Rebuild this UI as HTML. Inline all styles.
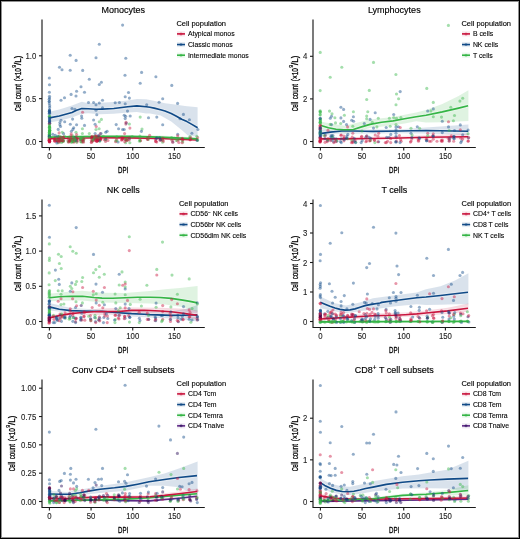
<!DOCTYPE html>
<html><head><meta charset="utf-8"><style>
html,body{margin:0;padding:0;background:#fff;}
body{width:520px;height:539px;overflow:hidden;position:relative;}
svg text{font-family:"Liberation Sans", sans-serif;}
</style></head><body>
<svg width="520" height="539" viewBox="0 0 520 539" style="display:block;will-change:transform;filter:blur(0.35px)">
<rect x="0" y="0" width="520" height="539" fill="#fff"/>
<path d="M49.5,111.7 L59.3,109.6 L72,105.6 L81.8,101.8 L88.2,103.3 L100,102.7 L113.8,102.1 L127.7,100.6 L136.9,99 L146,99.2 L155,101 L165,103.2 L175,104.5 L185,106 L197.6,107.3 L197.6,136.8 L188,135.5 L181.7,129.9 L171.2,121.4 L160.6,115.6 L150,113.6 L146.2,113.4 L136.9,111.9 L127.7,112.5 L113.8,113.7 L100,114.2 L88.2,113.2 L81.8,113.8 L72,117.5 L59.3,120.8 L49.5,122.6Z" fill="#104a87" fill-opacity="0.16"/>
<path d="M49.5,137.35 L70,137 L100,136.5 L130,136.6 L160,137.2 L197.6,138.7 L197.6,141.3 L160,139.8 L130,139.2 L100,139.1 L70,139.6 L49.5,139.95Z" fill="#c9153e" fill-opacity="0.16"/>
<path d="M49.5,135.6 L70,135.3 L100,134.9 L130,134.9 L160,135.6 L197.6,137.4 L197.6,140.4 L160,138.6 L130,137.9 L100,137.9 L70,138.3 L49.5,138.6Z" fill="#35b546" fill-opacity="0.16"/>
<path d="M49.5,138.65 L70,138.3 L100,137.8 L130,137.9 L160,138.5 L197.6,140" fill="none" stroke="#fff" stroke-opacity="0.3" stroke-width="3.8" stroke-linejoin="round"/>
<path d="M49.5,137.1 L70,136.8 L100,136.4 L130,136.4 L160,137.1 L197.6,138.9" fill="none" stroke="#fff" stroke-opacity="0.3" stroke-width="3.8" stroke-linejoin="round"/>
<path d="M49.5,117.9 L59.3,116 L72,112.5 L76.6,110.2 L81.8,108.5 L88.2,108.7 L96.2,109.3 L102,109.1 L113.8,108.5 L127.7,106.7 L136.9,105.9 L146.2,106.7 L150,107.3 L154.2,108.1 L160.6,109.8 L165,111 L171.2,113.6 L176,116 L181.7,119.3 L187,121.6 L192.3,124.6 L197.6,127.8" fill="none" stroke="#fff" stroke-opacity="0.3" stroke-width="3.8" stroke-linejoin="round"/>
<path d="M49.5,138.65 L70,138.3 L100,137.8 L130,137.9 L160,138.5 L197.6,140" fill="none" stroke="#c9153e" stroke-width="1.65" stroke-linejoin="round"/>
<path d="M49.5,137.1 L70,136.8 L100,136.4 L130,136.4 L160,137.1 L197.6,138.9" fill="none" stroke="#35b546" stroke-width="1.65" stroke-linejoin="round"/>
<path d="M49.5,117.9 L59.3,116 L72,112.5 L76.6,110.2 L81.8,108.5 L88.2,108.7 L96.2,109.3 L102,109.1 L113.8,108.5 L127.7,106.7 L136.9,105.9 L146.2,106.7 L150,107.3 L154.2,108.1 L160.6,109.8 L165,111 L171.2,113.6 L176,116 L181.7,119.3 L187,121.6 L192.3,124.6 L197.6,127.8" fill="none" stroke="#104a87" stroke-width="1.65" stroke-linejoin="round"/>
<circle cx="82.6" cy="112.2" r="1.55" fill="#c9153e" fill-opacity="0.45"/>
<circle cx="129.46" cy="138.86" r="1.55" fill="#104a87" fill-opacity="0.45"/>
<circle cx="49.62" cy="109.96" r="1.55" fill="#104a87" fill-opacity="0.45"/>
<circle cx="92.51" cy="139.42" r="1.55" fill="#c9153e" fill-opacity="0.45"/>
<circle cx="99.3" cy="103" r="1.55" fill="#104a87" fill-opacity="0.45"/>
<circle cx="76.44" cy="138.79" r="1.55" fill="#c9153e" fill-opacity="0.45"/>
<circle cx="159.1" cy="102.3" r="1.55" fill="#104a87" fill-opacity="0.45"/>
<circle cx="49.23" cy="99.2" r="1.55" fill="#104a87" fill-opacity="0.45"/>
<circle cx="49.33" cy="101.3" r="1.55" fill="#104a87" fill-opacity="0.45"/>
<circle cx="59.76" cy="141.95" r="1.55" fill="#c9153e" fill-opacity="0.45"/>
<circle cx="160.81" cy="139.21" r="1.55" fill="#104a87" fill-opacity="0.45"/>
<circle cx="61.76" cy="141.23" r="1.55" fill="#35b546" fill-opacity="0.45"/>
<circle cx="81.49" cy="141.34" r="1.55" fill="#c9153e" fill-opacity="0.45"/>
<circle cx="99.32" cy="139.96" r="1.55" fill="#c9153e" fill-opacity="0.45"/>
<circle cx="62.93" cy="137.5" r="1.55" fill="#35b546" fill-opacity="0.45"/>
<circle cx="74.96" cy="139.12" r="1.55" fill="#c9153e" fill-opacity="0.45"/>
<circle cx="91.82" cy="137.21" r="1.55" fill="#c9153e" fill-opacity="0.45"/>
<circle cx="70.21" cy="139.77" r="1.55" fill="#c9153e" fill-opacity="0.45"/>
<circle cx="62.73" cy="139.21" r="1.55" fill="#35b546" fill-opacity="0.45"/>
<circle cx="97.93" cy="140" r="1.55" fill="#c9153e" fill-opacity="0.45"/>
<circle cx="130.06" cy="137.22" r="1.55" fill="#35b546" fill-opacity="0.45"/>
<circle cx="57.55" cy="141.06" r="1.55" fill="#35b546" fill-opacity="0.45"/>
<circle cx="49.54" cy="113.3" r="1.55" fill="#104a87" fill-opacity="0.45"/>
<circle cx="140.21" cy="140.58" r="1.55" fill="#35b546" fill-opacity="0.45"/>
<circle cx="75.42" cy="140.12" r="1.55" fill="#c9153e" fill-opacity="0.45"/>
<circle cx="62" cy="69.7" r="1.55" fill="#104a87" fill-opacity="0.45"/>
<circle cx="49.68" cy="130.25" r="1.55" fill="#35b546" fill-opacity="0.45"/>
<circle cx="49.21" cy="138" r="1.55" fill="#c9153e" fill-opacity="0.45"/>
<circle cx="177.7" cy="134.2" r="1.55" fill="#104a87" fill-opacity="0.45"/>
<circle cx="177.6" cy="103.4" r="1.55" fill="#104a87" fill-opacity="0.45"/>
<circle cx="49.23" cy="113.71" r="1.55" fill="#104a87" fill-opacity="0.45"/>
<circle cx="162.72" cy="140.31" r="1.55" fill="#c9153e" fill-opacity="0.45"/>
<circle cx="83.78" cy="139.31" r="1.55" fill="#35b546" fill-opacity="0.45"/>
<circle cx="155.88" cy="141.14" r="1.55" fill="#c9153e" fill-opacity="0.45"/>
<circle cx="61.58" cy="142.45" r="1.55" fill="#35b546" fill-opacity="0.45"/>
<circle cx="98.37" cy="139.93" r="1.55" fill="#c9153e" fill-opacity="0.45"/>
<circle cx="125.2" cy="118.6" r="1.55" fill="#104a87" fill-opacity="0.45"/>
<circle cx="128.5" cy="92.5" r="1.55" fill="#104a87" fill-opacity="0.45"/>
<circle cx="49.5" cy="117.5" r="1.55" fill="#104a87" fill-opacity="0.45"/>
<circle cx="82.7" cy="139.08" r="1.55" fill="#c9153e" fill-opacity="0.45"/>
<circle cx="89.3" cy="79.2" r="1.55" fill="#104a87" fill-opacity="0.45"/>
<circle cx="69.79" cy="140.58" r="1.55" fill="#35b546" fill-opacity="0.45"/>
<circle cx="81" cy="86.8" r="1.55" fill="#104a87" fill-opacity="0.45"/>
<circle cx="49.35" cy="116.75" r="1.55" fill="#104a87" fill-opacity="0.45"/>
<circle cx="49.54" cy="126.5" r="1.55" fill="#35b546" fill-opacity="0.45"/>
<circle cx="49.32" cy="103.8" r="1.55" fill="#104a87" fill-opacity="0.45"/>
<circle cx="93.6" cy="120" r="1.55" fill="#104a87" fill-opacity="0.45"/>
<circle cx="61.85" cy="140.25" r="1.55" fill="#c9153e" fill-opacity="0.45"/>
<circle cx="49.62" cy="132.5" r="1.55" fill="#35b546" fill-opacity="0.45"/>
<circle cx="105.8" cy="138.82" r="1.55" fill="#c9153e" fill-opacity="0.45"/>
<circle cx="49.44" cy="110" r="1.55" fill="#104a87" fill-opacity="0.45"/>
<circle cx="93.52" cy="137.51" r="1.55" fill="#c9153e" fill-opacity="0.45"/>
<circle cx="59.29" cy="140.03" r="1.55" fill="#c9153e" fill-opacity="0.45"/>
<circle cx="127.5" cy="111.1" r="1.55" fill="#104a87" fill-opacity="0.45"/>
<circle cx="49.4" cy="121.5" r="1.55" fill="#104a87" fill-opacity="0.45"/>
<circle cx="49.22" cy="123.8" r="1.55" fill="#c9153e" fill-opacity="0.45"/>
<circle cx="126.5" cy="140.16" r="1.55" fill="#c9153e" fill-opacity="0.45"/>
<circle cx="57.53" cy="140.77" r="1.55" fill="#c9153e" fill-opacity="0.45"/>
<circle cx="162.29" cy="139.57" r="1.55" fill="#35b546" fill-opacity="0.45"/>
<circle cx="99.15" cy="138.4" r="1.55" fill="#c9153e" fill-opacity="0.45"/>
<circle cx="102.5" cy="107.9" r="1.55" fill="#104a87" fill-opacity="0.45"/>
<circle cx="99.15" cy="135.71" r="1.55" fill="#c9153e" fill-opacity="0.45"/>
<circle cx="162.6" cy="142.32" r="1.55" fill="#35b546" fill-opacity="0.45"/>
<circle cx="121.98" cy="137.32" r="1.55" fill="#c9153e" fill-opacity="0.45"/>
<circle cx="74.52" cy="138.6" r="1.55" fill="#104a87" fill-opacity="0.45"/>
<circle cx="84.5" cy="125.4" r="1.55" fill="#104a87" fill-opacity="0.45"/>
<circle cx="91.55" cy="141.92" r="1.55" fill="#c9153e" fill-opacity="0.45"/>
<circle cx="63.57" cy="133.64" r="1.55" fill="#104a87" fill-opacity="0.45"/>
<circle cx="71.39" cy="139.36" r="1.55" fill="#35b546" fill-opacity="0.45"/>
<circle cx="49.65" cy="138.1" r="1.55" fill="#c9153e" fill-opacity="0.45"/>
<circle cx="72.6" cy="119.1" r="1.55" fill="#104a87" fill-opacity="0.45"/>
<circle cx="80.63" cy="139.21" r="1.55" fill="#35b546" fill-opacity="0.45"/>
<circle cx="62.32" cy="140.35" r="1.55" fill="#c9153e" fill-opacity="0.45"/>
<circle cx="55.12" cy="141.37" r="1.55" fill="#c9153e" fill-opacity="0.45"/>
<circle cx="55.55" cy="139.36" r="1.55" fill="#35b546" fill-opacity="0.45"/>
<circle cx="75.64" cy="137.1" r="1.55" fill="#35b546" fill-opacity="0.45"/>
<circle cx="64.5" cy="136.3" r="1.55" fill="#35b546" fill-opacity="0.45"/>
<circle cx="171.66" cy="138.9" r="1.55" fill="#35b546" fill-opacity="0.45"/>
<circle cx="49.43" cy="139.3" r="1.55" fill="#c9153e" fill-opacity="0.45"/>
<circle cx="99.3" cy="84.5" r="1.55" fill="#104a87" fill-opacity="0.45"/>
<circle cx="49.6" cy="134.86" r="1.55" fill="#35b546" fill-opacity="0.45"/>
<circle cx="171.8" cy="85.4" r="1.55" fill="#104a87" fill-opacity="0.45"/>
<circle cx="91.3" cy="137.82" r="1.55" fill="#35b546" fill-opacity="0.45"/>
<circle cx="59.5" cy="67.2" r="1.55" fill="#104a87" fill-opacity="0.45"/>
<circle cx="73.7" cy="127.7" r="1.55" fill="#104a87" fill-opacity="0.45"/>
<circle cx="178.49" cy="139.37" r="1.55" fill="#c9153e" fill-opacity="0.45"/>
<circle cx="141.6" cy="72.4" r="1.55" fill="#104a87" fill-opacity="0.45"/>
<circle cx="70.2" cy="70.2" r="1.55" fill="#104a87" fill-opacity="0.45"/>
<circle cx="92.81" cy="140.97" r="1.55" fill="#c9153e" fill-opacity="0.45"/>
<circle cx="97.98" cy="137" r="1.55" fill="#c9153e" fill-opacity="0.45"/>
<circle cx="126.37" cy="139.63" r="1.55" fill="#35b546" fill-opacity="0.45"/>
<circle cx="160.04" cy="140.3" r="1.55" fill="#c9153e" fill-opacity="0.45"/>
<circle cx="71.46" cy="140.87" r="1.55" fill="#35b546" fill-opacity="0.45"/>
<circle cx="125.6" cy="116.3" r="1.55" fill="#104a87" fill-opacity="0.45"/>
<circle cx="49.56" cy="127.23" r="1.55" fill="#35b546" fill-opacity="0.45"/>
<circle cx="52.78" cy="134.25" r="1.55" fill="#104a87" fill-opacity="0.45"/>
<circle cx="58.41" cy="142.6" r="1.55" fill="#35b546" fill-opacity="0.45"/>
<circle cx="69.53" cy="137.94" r="1.55" fill="#35b546" fill-opacity="0.45"/>
<circle cx="100.57" cy="139.8" r="1.55" fill="#c9153e" fill-opacity="0.45"/>
<circle cx="182.77" cy="142.04" r="1.55" fill="#35b546" fill-opacity="0.45"/>
<circle cx="49.48" cy="131" r="1.55" fill="#35b546" fill-opacity="0.45"/>
<circle cx="70.55" cy="139.85" r="1.55" fill="#35b546" fill-opacity="0.45"/>
<circle cx="72.63" cy="138.28" r="1.55" fill="#c9153e" fill-opacity="0.45"/>
<circle cx="49.45" cy="116.3" r="1.55" fill="#35b546" fill-opacity="0.45"/>
<circle cx="96.43" cy="138.01" r="1.55" fill="#35b546" fill-opacity="0.45"/>
<circle cx="115.7" cy="140.87" r="1.55" fill="#35b546" fill-opacity="0.45"/>
<circle cx="49.49" cy="125.65" r="1.55" fill="#35b546" fill-opacity="0.45"/>
<circle cx="74.68" cy="140.55" r="1.55" fill="#c9153e" fill-opacity="0.45"/>
<circle cx="129.14" cy="139.98" r="1.55" fill="#c9153e" fill-opacity="0.45"/>
<circle cx="59.2" cy="136.35" r="1.55" fill="#35b546" fill-opacity="0.45"/>
<circle cx="127.15" cy="140.14" r="1.55" fill="#35b546" fill-opacity="0.45"/>
<circle cx="156.81" cy="137.87" r="1.55" fill="#104a87" fill-opacity="0.45"/>
<circle cx="182.18" cy="142.66" r="1.55" fill="#c9153e" fill-opacity="0.45"/>
<circle cx="104.2" cy="139.82" r="1.55" fill="#c9153e" fill-opacity="0.45"/>
<circle cx="178.86" cy="142.56" r="1.55" fill="#c9153e" fill-opacity="0.45"/>
<circle cx="56.72" cy="140.83" r="1.55" fill="#c9153e" fill-opacity="0.45"/>
<circle cx="59.1" cy="132.9" r="1.55" fill="#c9153e" fill-opacity="0.45"/>
<circle cx="76.63" cy="139.09" r="1.55" fill="#35b546" fill-opacity="0.45"/>
<circle cx="97.48" cy="138.87" r="1.55" fill="#c9153e" fill-opacity="0.45"/>
<circle cx="68.11" cy="141.6" r="1.55" fill="#35b546" fill-opacity="0.45"/>
<circle cx="49.42" cy="137" r="1.55" fill="#104a87" fill-opacity="0.45"/>
<circle cx="177.34" cy="140.81" r="1.55" fill="#c9153e" fill-opacity="0.45"/>
<circle cx="105.79" cy="139.28" r="1.55" fill="#104a87" fill-opacity="0.45"/>
<circle cx="105.7" cy="132.2" r="1.55" fill="#104a87" fill-opacity="0.45"/>
<circle cx="95.39" cy="140.12" r="1.55" fill="#c9153e" fill-opacity="0.45"/>
<circle cx="49.64" cy="120" r="1.55" fill="#104a87" fill-opacity="0.45"/>
<circle cx="49.54" cy="127.76" r="1.55" fill="#35b546" fill-opacity="0.45"/>
<circle cx="125.8" cy="124.1" r="1.55" fill="#c9153e" fill-opacity="0.45"/>
<circle cx="126.3" cy="123.1" r="1.55" fill="#104a87" fill-opacity="0.45"/>
<circle cx="60.2" cy="140.7" r="1.55" fill="#c9153e" fill-opacity="0.45"/>
<circle cx="93.19" cy="140.43" r="1.55" fill="#c9153e" fill-opacity="0.45"/>
<circle cx="61" cy="100.2" r="1.55" fill="#104a87" fill-opacity="0.45"/>
<circle cx="101.4" cy="82.2" r="1.55" fill="#104a87" fill-opacity="0.45"/>
<circle cx="92.17" cy="140.93" r="1.55" fill="#35b546" fill-opacity="0.45"/>
<circle cx="49.22" cy="127.5" r="1.55" fill="#35b546" fill-opacity="0.45"/>
<circle cx="60.58" cy="137.35" r="1.55" fill="#c9153e" fill-opacity="0.45"/>
<circle cx="49.24" cy="135" r="1.55" fill="#35b546" fill-opacity="0.45"/>
<circle cx="49.21" cy="140.8" r="1.55" fill="#c9153e" fill-opacity="0.45"/>
<circle cx="83.67" cy="139.63" r="1.55" fill="#c9153e" fill-opacity="0.45"/>
<circle cx="70.3" cy="124.2" r="1.55" fill="#104a87" fill-opacity="0.45"/>
<circle cx="59.56" cy="140.43" r="1.55" fill="#c9153e" fill-opacity="0.45"/>
<circle cx="94.71" cy="138.34" r="1.55" fill="#104a87" fill-opacity="0.45"/>
<circle cx="72.46" cy="140.32" r="1.55" fill="#35b546" fill-opacity="0.45"/>
<circle cx="63.61" cy="137.05" r="1.55" fill="#c9153e" fill-opacity="0.45"/>
<circle cx="178.55" cy="139.23" r="1.55" fill="#35b546" fill-opacity="0.45"/>
<circle cx="72.84" cy="135.87" r="1.55" fill="#35b546" fill-opacity="0.45"/>
<circle cx="81.8" cy="118.3" r="1.55" fill="#104a87" fill-opacity="0.45"/>
<circle cx="76" cy="132.3" r="1.55" fill="#35b546" fill-opacity="0.45"/>
<circle cx="96.2" cy="126.5" r="1.55" fill="#c9153e" fill-opacity="0.45"/>
<circle cx="49.39" cy="116.06" r="1.55" fill="#35b546" fill-opacity="0.45"/>
<circle cx="49.57" cy="141" r="1.55" fill="#c9153e" fill-opacity="0.45"/>
<circle cx="58.2" cy="129.4" r="1.55" fill="#104a87" fill-opacity="0.45"/>
<circle cx="74.94" cy="137.52" r="1.55" fill="#104a87" fill-opacity="0.45"/>
<circle cx="80.99" cy="138.99" r="1.55" fill="#35b546" fill-opacity="0.45"/>
<circle cx="99.3" cy="44.2" r="1.55" fill="#104a87" fill-opacity="0.45"/>
<circle cx="62.77" cy="140.73" r="1.55" fill="#c9153e" fill-opacity="0.45"/>
<circle cx="59.72" cy="138.31" r="1.55" fill="#35b546" fill-opacity="0.45"/>
<circle cx="49.21" cy="140.3" r="1.55" fill="#c9153e" fill-opacity="0.45"/>
<circle cx="125.2" cy="103.8" r="1.55" fill="#104a87" fill-opacity="0.45"/>
<circle cx="57.05" cy="139.93" r="1.55" fill="#c9153e" fill-opacity="0.45"/>
<circle cx="76.6" cy="134.6" r="1.55" fill="#c9153e" fill-opacity="0.45"/>
<circle cx="99.1" cy="128.8" r="1.55" fill="#35b546" fill-opacity="0.45"/>
<circle cx="49.7" cy="131.5" r="1.55" fill="#35b546" fill-opacity="0.45"/>
<circle cx="49.49" cy="132.16" r="1.55" fill="#35b546" fill-opacity="0.45"/>
<circle cx="140.57" cy="140.77" r="1.55" fill="#c9153e" fill-opacity="0.45"/>
<circle cx="190.02" cy="139.76" r="1.55" fill="#c9153e" fill-opacity="0.45"/>
<circle cx="49.5" cy="133" r="1.55" fill="#35b546" fill-opacity="0.45"/>
<circle cx="63.39" cy="141.22" r="1.55" fill="#35b546" fill-opacity="0.45"/>
<circle cx="76.1" cy="60.4" r="1.55" fill="#104a87" fill-opacity="0.45"/>
<circle cx="126.25" cy="139.38" r="1.55" fill="#c9153e" fill-opacity="0.45"/>
<circle cx="63.16" cy="141.15" r="1.55" fill="#35b546" fill-opacity="0.45"/>
<circle cx="129.4" cy="98.1" r="1.55" fill="#104a87" fill-opacity="0.45"/>
<circle cx="183.4" cy="114.4" r="1.55" fill="#104a87" fill-opacity="0.45"/>
<circle cx="49.44" cy="118.85" r="1.55" fill="#104a87" fill-opacity="0.45"/>
<circle cx="197.73" cy="139.88" r="1.55" fill="#35b546" fill-opacity="0.45"/>
<circle cx="96.8" cy="114.8" r="1.55" fill="#104a87" fill-opacity="0.45"/>
<circle cx="49.28" cy="136.5" r="1.55" fill="#35b546" fill-opacity="0.45"/>
<circle cx="190.09" cy="136.6" r="1.55" fill="#35b546" fill-opacity="0.45"/>
<circle cx="140.2" cy="117.1" r="1.55" fill="#35b546" fill-opacity="0.45"/>
<circle cx="98.17" cy="138.36" r="1.55" fill="#c9153e" fill-opacity="0.45"/>
<circle cx="129.4" cy="124" r="1.55" fill="#35b546" fill-opacity="0.45"/>
<circle cx="105.72" cy="140.01" r="1.55" fill="#35b546" fill-opacity="0.45"/>
<circle cx="49.51" cy="138.95" r="1.55" fill="#c9153e" fill-opacity="0.45"/>
<circle cx="125.26" cy="139.86" r="1.55" fill="#c9153e" fill-opacity="0.45"/>
<circle cx="197.9" cy="129.5" r="1.55" fill="#104a87" fill-opacity="0.45"/>
<circle cx="73.45" cy="141.53" r="1.55" fill="#35b546" fill-opacity="0.45"/>
<circle cx="139.9" cy="136.16" r="1.55" fill="#35b546" fill-opacity="0.45"/>
<circle cx="61.06" cy="140.22" r="1.55" fill="#c9153e" fill-opacity="0.45"/>
<circle cx="49.23" cy="139" r="1.55" fill="#c9153e" fill-opacity="0.45"/>
<circle cx="49.38" cy="92.3" r="1.55" fill="#104a87" fill-opacity="0.45"/>
<circle cx="148.07" cy="137.64" r="1.55" fill="#c9153e" fill-opacity="0.45"/>
<circle cx="49.51" cy="138.21" r="1.55" fill="#c9153e" fill-opacity="0.45"/>
<circle cx="81.39" cy="139.61" r="1.55" fill="#c9153e" fill-opacity="0.45"/>
<circle cx="81.74" cy="142.29" r="1.55" fill="#35b546" fill-opacity="0.45"/>
<circle cx="171.61" cy="137.48" r="1.55" fill="#35b546" fill-opacity="0.45"/>
<circle cx="49.46" cy="112.39" r="1.55" fill="#104a87" fill-opacity="0.45"/>
<circle cx="132.26" cy="136.61" r="1.55" fill="#35b546" fill-opacity="0.45"/>
<circle cx="182.27" cy="140.24" r="1.55" fill="#35b546" fill-opacity="0.45"/>
<circle cx="88.5" cy="102.5" r="1.55" fill="#104a87" fill-opacity="0.45"/>
<circle cx="72.97" cy="138.86" r="1.55" fill="#35b546" fill-opacity="0.45"/>
<circle cx="71.4" cy="131.2" r="1.55" fill="#104a87" fill-opacity="0.45"/>
<circle cx="96.35" cy="138.85" r="1.55" fill="#35b546" fill-opacity="0.45"/>
<circle cx="197.33" cy="140.12" r="1.55" fill="#35b546" fill-opacity="0.45"/>
<circle cx="76" cy="96" r="1.55" fill="#104a87" fill-opacity="0.45"/>
<circle cx="72.67" cy="141.03" r="1.55" fill="#35b546" fill-opacity="0.45"/>
<circle cx="122.6" cy="129.5" r="1.55" fill="#104a87" fill-opacity="0.45"/>
<circle cx="68.14" cy="140.22" r="1.55" fill="#c9153e" fill-opacity="0.45"/>
<circle cx="93.1" cy="137.6" r="1.55" fill="#c9153e" fill-opacity="0.45"/>
<circle cx="55.3" cy="135.2" r="1.55" fill="#104a87" fill-opacity="0.45"/>
<circle cx="97.43" cy="139.88" r="1.55" fill="#c9153e" fill-opacity="0.45"/>
<circle cx="49.35" cy="136.93" r="1.55" fill="#35b546" fill-opacity="0.45"/>
<circle cx="54.71" cy="140.44" r="1.55" fill="#c9153e" fill-opacity="0.45"/>
<circle cx="96.65" cy="141.17" r="1.55" fill="#c9153e" fill-opacity="0.45"/>
<circle cx="49.46" cy="139.53" r="1.55" fill="#c9153e" fill-opacity="0.45"/>
<circle cx="100.3" cy="133.5" r="1.55" fill="#c9153e" fill-opacity="0.45"/>
<circle cx="149.63" cy="135.27" r="1.55" fill="#c9153e" fill-opacity="0.45"/>
<circle cx="101" cy="133.5" r="1.55" fill="#104a87" fill-opacity="0.45"/>
<circle cx="115.2" cy="102.7" r="1.55" fill="#104a87" fill-opacity="0.45"/>
<circle cx="49.47" cy="84.8" r="1.55" fill="#104a87" fill-opacity="0.45"/>
<circle cx="95.1" cy="133.5" r="1.55" fill="#104a87" fill-opacity="0.45"/>
<circle cx="96" cy="129.5" r="1.55" fill="#35b546" fill-opacity="0.45"/>
<circle cx="99.3" cy="121.7" r="1.55" fill="#35b546" fill-opacity="0.45"/>
<circle cx="174.39" cy="138.26" r="1.55" fill="#35b546" fill-opacity="0.45"/>
<circle cx="57.77" cy="136.37" r="1.55" fill="#104a87" fill-opacity="0.45"/>
<circle cx="49.63" cy="118.5" r="1.55" fill="#104a87" fill-opacity="0.45"/>
<circle cx="95.65" cy="137.8" r="1.55" fill="#35b546" fill-opacity="0.45"/>
<circle cx="147.49" cy="137.83" r="1.55" fill="#35b546" fill-opacity="0.45"/>
<circle cx="49.56" cy="130.54" r="1.55" fill="#35b546" fill-opacity="0.45"/>
<circle cx="83.07" cy="138.22" r="1.55" fill="#c9153e" fill-opacity="0.45"/>
<circle cx="61" cy="120.2" r="1.55" fill="#104a87" fill-opacity="0.45"/>
<circle cx="49.63" cy="134.78" r="1.55" fill="#35b546" fill-opacity="0.45"/>
<circle cx="68.87" cy="141.41" r="1.55" fill="#35b546" fill-opacity="0.45"/>
<circle cx="89.3" cy="133.5" r="1.55" fill="#35b546" fill-opacity="0.45"/>
<circle cx="49.46" cy="139.88" r="1.55" fill="#c9153e" fill-opacity="0.45"/>
<circle cx="100.52" cy="139.61" r="1.55" fill="#c9153e" fill-opacity="0.45"/>
<circle cx="156.67" cy="142.08" r="1.55" fill="#c9153e" fill-opacity="0.45"/>
<circle cx="101.4" cy="119.4" r="1.55" fill="#35b546" fill-opacity="0.45"/>
<circle cx="49.64" cy="130.5" r="1.55" fill="#35b546" fill-opacity="0.45"/>
<circle cx="54.44" cy="140.92" r="1.55" fill="#c9153e" fill-opacity="0.45"/>
<circle cx="155.57" cy="141.48" r="1.55" fill="#c9153e" fill-opacity="0.45"/>
<circle cx="176.26" cy="140.52" r="1.55" fill="#35b546" fill-opacity="0.45"/>
<circle cx="60.26" cy="140.25" r="1.55" fill="#35b546" fill-opacity="0.45"/>
<circle cx="147.23" cy="138.92" r="1.55" fill="#c9153e" fill-opacity="0.45"/>
<circle cx="148.27" cy="139.44" r="1.55" fill="#35b546" fill-opacity="0.45"/>
<circle cx="172.05" cy="140.32" r="1.55" fill="#c9153e" fill-opacity="0.45"/>
<circle cx="62.2" cy="132.3" r="1.55" fill="#35b546" fill-opacity="0.45"/>
<circle cx="182.85" cy="139.65" r="1.55" fill="#c9153e" fill-opacity="0.45"/>
<circle cx="59.9" cy="122.5" r="1.55" fill="#104a87" fill-opacity="0.45"/>
<circle cx="197.57" cy="137.62" r="1.55" fill="#c9153e" fill-opacity="0.45"/>
<circle cx="83.46" cy="142.25" r="1.55" fill="#c9153e" fill-opacity="0.45"/>
<circle cx="91.85" cy="137.1" r="1.55" fill="#c9153e" fill-opacity="0.45"/>
<circle cx="76.66" cy="136.97" r="1.55" fill="#35b546" fill-opacity="0.45"/>
<circle cx="91.28" cy="142.43" r="1.55" fill="#c9153e" fill-opacity="0.45"/>
<circle cx="177.19" cy="138.6" r="1.55" fill="#35b546" fill-opacity="0.45"/>
<circle cx="76.89" cy="138.57" r="1.55" fill="#c9153e" fill-opacity="0.45"/>
<circle cx="94.12" cy="138.68" r="1.55" fill="#35b546" fill-opacity="0.45"/>
<circle cx="64.7" cy="121.7" r="1.55" fill="#104a87" fill-opacity="0.45"/>
<circle cx="49.28" cy="111.22" r="1.55" fill="#104a87" fill-opacity="0.45"/>
<circle cx="49.63" cy="112" r="1.55" fill="#104a87" fill-opacity="0.45"/>
<circle cx="55.69" cy="138.98" r="1.55" fill="#35b546" fill-opacity="0.45"/>
<circle cx="172.86" cy="141.97" r="1.55" fill="#104a87" fill-opacity="0.45"/>
<circle cx="163.36" cy="141.25" r="1.55" fill="#c9153e" fill-opacity="0.45"/>
<circle cx="73.72" cy="137.98" r="1.55" fill="#35b546" fill-opacity="0.45"/>
<circle cx="57.76" cy="138.27" r="1.55" fill="#c9153e" fill-opacity="0.45"/>
<circle cx="49.63" cy="129.6" r="1.55" fill="#35b546" fill-opacity="0.45"/>
<circle cx="49.5" cy="140.3" r="1.55" fill="#c9153e" fill-opacity="0.45"/>
<circle cx="116.6" cy="139.42" r="1.55" fill="#c9153e" fill-opacity="0.45"/>
<circle cx="102.5" cy="100.2" r="1.55" fill="#104a87" fill-opacity="0.45"/>
<circle cx="125.67" cy="142.8" r="1.55" fill="#35b546" fill-opacity="0.45"/>
<circle cx="49.32" cy="78" r="1.55" fill="#104a87" fill-opacity="0.45"/>
<circle cx="58.62" cy="136.56" r="1.55" fill="#35b546" fill-opacity="0.45"/>
<circle cx="196.85" cy="136.23" r="1.55" fill="#35b546" fill-opacity="0.45"/>
<circle cx="118.07" cy="142.03" r="1.55" fill="#104a87" fill-opacity="0.45"/>
<circle cx="100.22" cy="138.79" r="1.55" fill="#c9153e" fill-opacity="0.45"/>
<circle cx="140.2" cy="83.3" r="1.55" fill="#104a87" fill-opacity="0.45"/>
<circle cx="190.26" cy="139.75" r="1.55" fill="#c9153e" fill-opacity="0.45"/>
<circle cx="94.29" cy="138.17" r="1.55" fill="#35b546" fill-opacity="0.45"/>
<circle cx="82.66" cy="138.56" r="1.55" fill="#c9153e" fill-opacity="0.45"/>
<circle cx="146.7" cy="104.8" r="1.55" fill="#104a87" fill-opacity="0.45"/>
<circle cx="99.72" cy="141.14" r="1.55" fill="#35b546" fill-opacity="0.45"/>
<circle cx="77.08" cy="141.98" r="1.55" fill="#c9153e" fill-opacity="0.45"/>
<circle cx="125" cy="75.2" r="1.55" fill="#104a87" fill-opacity="0.45"/>
<circle cx="49.21" cy="101.8" r="1.55" fill="#104a87" fill-opacity="0.45"/>
<circle cx="76.27" cy="139.71" r="1.55" fill="#c9153e" fill-opacity="0.45"/>
<circle cx="189.4" cy="119.7" r="1.55" fill="#104a87" fill-opacity="0.45"/>
<circle cx="124.6" cy="133.6" r="1.55" fill="#c9153e" fill-opacity="0.45"/>
<circle cx="49.35" cy="130.82" r="1.55" fill="#35b546" fill-opacity="0.45"/>
<circle cx="99.49" cy="140.78" r="1.55" fill="#104a87" fill-opacity="0.45"/>
<circle cx="124.23" cy="137.93" r="1.55" fill="#c9153e" fill-opacity="0.45"/>
<circle cx="49.64" cy="122.66" r="1.55" fill="#104a87" fill-opacity="0.45"/>
<circle cx="60.5" cy="126.5" r="1.55" fill="#104a87" fill-opacity="0.45"/>
<circle cx="105.55" cy="141.51" r="1.55" fill="#c9153e" fill-opacity="0.45"/>
<circle cx="76.11" cy="137.57" r="1.55" fill="#c9153e" fill-opacity="0.45"/>
<circle cx="49.66" cy="127.07" r="1.55" fill="#35b546" fill-opacity="0.45"/>
<circle cx="56.11" cy="140.64" r="1.55" fill="#c9153e" fill-opacity="0.45"/>
<circle cx="76.6" cy="91.2" r="1.55" fill="#104a87" fill-opacity="0.45"/>
<circle cx="59.9" cy="124.8" r="1.55" fill="#104a87" fill-opacity="0.45"/>
<circle cx="60.73" cy="136.86" r="1.55" fill="#35b546" fill-opacity="0.45"/>
<circle cx="49.31" cy="136.24" r="1.55" fill="#104a87" fill-opacity="0.45"/>
<circle cx="69.68" cy="140.45" r="1.55" fill="#c9153e" fill-opacity="0.45"/>
<circle cx="127.12" cy="140.37" r="1.55" fill="#c9153e" fill-opacity="0.45"/>
<circle cx="91.46" cy="137.63" r="1.55" fill="#c9153e" fill-opacity="0.45"/>
<circle cx="91.43" cy="140.3" r="1.55" fill="#c9153e" fill-opacity="0.45"/>
<circle cx="177.7" cy="135.7" r="1.55" fill="#c9153e" fill-opacity="0.45"/>
<circle cx="49.6" cy="121.41" r="1.55" fill="#104a87" fill-opacity="0.45"/>
<circle cx="64.5" cy="97.8" r="1.55" fill="#104a87" fill-opacity="0.45"/>
<circle cx="115.63" cy="141.79" r="1.55" fill="#c9153e" fill-opacity="0.45"/>
<circle cx="116.76" cy="136.84" r="1.55" fill="#35b546" fill-opacity="0.45"/>
<circle cx="118.6" cy="128.7" r="1.55" fill="#104a87" fill-opacity="0.45"/>
<circle cx="121.59" cy="140.23" r="1.55" fill="#c9153e" fill-opacity="0.45"/>
<circle cx="74.49" cy="138.64" r="1.55" fill="#35b546" fill-opacity="0.45"/>
<circle cx="119.4" cy="102.5" r="1.55" fill="#104a87" fill-opacity="0.45"/>
<circle cx="82.7" cy="70.4" r="1.55" fill="#104a87" fill-opacity="0.45"/>
<circle cx="95.68" cy="136" r="1.55" fill="#c9153e" fill-opacity="0.45"/>
<circle cx="122.6" cy="25.1" r="1.55" fill="#104a87" fill-opacity="0.45"/>
<circle cx="94.65" cy="136.32" r="1.55" fill="#c9153e" fill-opacity="0.45"/>
<circle cx="68.32" cy="138" r="1.55" fill="#c9153e" fill-opacity="0.45"/>
<circle cx="61.5" cy="138.1" r="1.55" fill="#35b546" fill-opacity="0.45"/>
<circle cx="182.19" cy="138.19" r="1.55" fill="#c9153e" fill-opacity="0.45"/>
<circle cx="59.16" cy="139.89" r="1.55" fill="#c9153e" fill-opacity="0.45"/>
<circle cx="100.78" cy="138.45" r="1.55" fill="#c9153e" fill-opacity="0.45"/>
<circle cx="159.63" cy="137.88" r="1.55" fill="#104a87" fill-opacity="0.45"/>
<circle cx="49.4" cy="134.5" r="1.55" fill="#35b546" fill-opacity="0.45"/>
<circle cx="180" cy="118.8" r="1.55" fill="#104a87" fill-opacity="0.45"/>
<circle cx="62.99" cy="137.55" r="1.55" fill="#c9153e" fill-opacity="0.45"/>
<circle cx="71.81" cy="142.06" r="1.55" fill="#35b546" fill-opacity="0.45"/>
<circle cx="69.42" cy="136.77" r="1.55" fill="#35b546" fill-opacity="0.45"/>
<circle cx="74.36" cy="141.22" r="1.55" fill="#35b546" fill-opacity="0.45"/>
<circle cx="81.6" cy="116" r="1.55" fill="#104a87" fill-opacity="0.45"/>
<circle cx="197.08" cy="140.55" r="1.55" fill="#104a87" fill-opacity="0.45"/>
<circle cx="76.56" cy="142.1" r="1.55" fill="#35b546" fill-opacity="0.45"/>
<circle cx="103.38" cy="136.23" r="1.55" fill="#35b546" fill-opacity="0.45"/>
<circle cx="125.8" cy="58.2" r="1.55" fill="#104a87" fill-opacity="0.45"/>
<circle cx="182.43" cy="139.21" r="1.55" fill="#c9153e" fill-opacity="0.45"/>
<circle cx="107.96" cy="140.52" r="1.55" fill="#c9153e" fill-opacity="0.45"/>
<circle cx="129.42" cy="137.77" r="1.55" fill="#c9153e" fill-opacity="0.45"/>
<circle cx="100.17" cy="137.95" r="1.55" fill="#c9153e" fill-opacity="0.45"/>
<circle cx="84.5" cy="92.3" r="1.55" fill="#104a87" fill-opacity="0.45"/>
<circle cx="73.75" cy="142.13" r="1.55" fill="#c9153e" fill-opacity="0.45"/>
<circle cx="59.29" cy="139.71" r="1.55" fill="#c9153e" fill-opacity="0.45"/>
<circle cx="160.9" cy="139.86" r="1.55" fill="#c9153e" fill-opacity="0.45"/>
<circle cx="155.49" cy="139.56" r="1.55" fill="#c9153e" fill-opacity="0.45"/>
<circle cx="156.8" cy="117.1" r="1.55" fill="#104a87" fill-opacity="0.45"/>
<circle cx="72.9" cy="141.4" r="1.55" fill="#35b546" fill-opacity="0.45"/>
<circle cx="93.45" cy="137.93" r="1.55" fill="#c9153e" fill-opacity="0.45"/>
<circle cx="147.72" cy="139.51" r="1.55" fill="#c9153e" fill-opacity="0.45"/>
<circle cx="125.32" cy="139.24" r="1.55" fill="#35b546" fill-opacity="0.45"/>
<circle cx="96" cy="104.8" r="1.55" fill="#104a87" fill-opacity="0.45"/>
<circle cx="49.23" cy="134" r="1.55" fill="#35b546" fill-opacity="0.45"/>
<circle cx="63.06" cy="141.05" r="1.55" fill="#c9153e" fill-opacity="0.45"/>
<circle cx="72.9" cy="129.4" r="1.55" fill="#104a87" fill-opacity="0.45"/>
<circle cx="80.3" cy="139.41" r="1.55" fill="#c9153e" fill-opacity="0.45"/>
<circle cx="80.48" cy="141.59" r="1.55" fill="#35b546" fill-opacity="0.45"/>
<circle cx="72" cy="108.5" r="1.55" fill="#104a87" fill-opacity="0.45"/>
<circle cx="83.43" cy="140.93" r="1.55" fill="#35b546" fill-opacity="0.45"/>
<circle cx="49.22" cy="132.52" r="1.55" fill="#35b546" fill-opacity="0.45"/>
<circle cx="49.41" cy="140.93" r="1.55" fill="#c9153e" fill-opacity="0.45"/>
<circle cx="49.62" cy="107.5" r="1.55" fill="#104a87" fill-opacity="0.45"/>
<circle cx="139.72" cy="139.85" r="1.55" fill="#35b546" fill-opacity="0.45"/>
<circle cx="116.2" cy="124.6" r="1.55" fill="#104a87" fill-opacity="0.45"/>
<circle cx="155.9" cy="76.8" r="1.55" fill="#104a87" fill-opacity="0.45"/>
<circle cx="162.84" cy="138.2" r="1.55" fill="#c9153e" fill-opacity="0.45"/>
<circle cx="82.7" cy="139.99" r="1.55" fill="#c9153e" fill-opacity="0.45"/>
<circle cx="49.27" cy="135.5" r="1.55" fill="#104a87" fill-opacity="0.45"/>
<circle cx="124.2" cy="115.2" r="1.55" fill="#104a87" fill-opacity="0.45"/>
<circle cx="191.9" cy="133.2" r="1.55" fill="#104a87" fill-opacity="0.45"/>
<circle cx="95.1" cy="124.2" r="1.55" fill="#104a87" fill-opacity="0.45"/>
<circle cx="57.55" cy="140.36" r="1.55" fill="#35b546" fill-opacity="0.45"/>
<circle cx="63.51" cy="140.31" r="1.55" fill="#35b546" fill-opacity="0.45"/>
<circle cx="73.34" cy="139.5" r="1.55" fill="#c9153e" fill-opacity="0.45"/>
<circle cx="49.54" cy="140" r="1.55" fill="#c9153e" fill-opacity="0.45"/>
<circle cx="71.48" cy="139.94" r="1.55" fill="#35b546" fill-opacity="0.45"/>
<circle cx="82.4" cy="128.8" r="1.55" fill="#35b546" fill-opacity="0.45"/>
<circle cx="148.5" cy="117.7" r="1.55" fill="#104a87" fill-opacity="0.45"/>
<circle cx="156.2" cy="138.45" r="1.55" fill="#104a87" fill-opacity="0.45"/>
<circle cx="57.55" cy="140.65" r="1.55" fill="#c9153e" fill-opacity="0.45"/>
<circle cx="130.2" cy="116" r="1.55" fill="#104a87" fill-opacity="0.45"/>
<circle cx="96.77" cy="141.25" r="1.55" fill="#c9153e" fill-opacity="0.45"/>
<circle cx="76.6" cy="124.8" r="1.55" fill="#104a87" fill-opacity="0.45"/>
<circle cx="82.4" cy="133.5" r="1.55" fill="#35b546" fill-opacity="0.45"/>
<circle cx="74.9" cy="109.4" r="1.55" fill="#104a87" fill-opacity="0.45"/>
<circle cx="71.12" cy="135.83" r="1.55" fill="#c9153e" fill-opacity="0.45"/>
<circle cx="124.2" cy="129.5" r="1.55" fill="#104a87" fill-opacity="0.45"/>
<circle cx="121.94" cy="139.51" r="1.55" fill="#c9153e" fill-opacity="0.45"/>
<circle cx="95.24" cy="140.19" r="1.55" fill="#c9153e" fill-opacity="0.45"/>
<circle cx="83.01" cy="141.46" r="1.55" fill="#c9153e" fill-opacity="0.45"/>
<circle cx="139.5" cy="141.23" r="1.55" fill="#35b546" fill-opacity="0.45"/>
<circle cx="93.17" cy="139.52" r="1.55" fill="#35b546" fill-opacity="0.45"/>
<circle cx="93.6" cy="102.5" r="1.55" fill="#104a87" fill-opacity="0.45"/>
<circle cx="122.5" cy="138.54" r="1.55" fill="#c9153e" fill-opacity="0.45"/>
<circle cx="75.58" cy="140.09" r="1.55" fill="#35b546" fill-opacity="0.45"/>
<circle cx="71.1" cy="94.4" r="1.55" fill="#104a87" fill-opacity="0.45"/>
<circle cx="49.7" cy="105.8" r="1.55" fill="#104a87" fill-opacity="0.45"/>
<circle cx="98.4" cy="138.08" r="1.55" fill="#35b546" fill-opacity="0.45"/>
<circle cx="70.25" cy="141.06" r="1.55" fill="#c9153e" fill-opacity="0.45"/>
<circle cx="70.2" cy="55.2" r="1.55" fill="#104a87" fill-opacity="0.45"/>
<circle cx="162.7" cy="98.8" r="1.55" fill="#104a87" fill-opacity="0.45"/>
<circle cx="97.4" cy="140.39" r="1.55" fill="#c9153e" fill-opacity="0.45"/>
<circle cx="126" cy="122.3" r="1.55" fill="#c9153e" fill-opacity="0.45"/>
<circle cx="76.44" cy="140.57" r="1.55" fill="#104a87" fill-opacity="0.45"/>
<circle cx="49.51" cy="136.68" r="1.55" fill="#104a87" fill-opacity="0.45"/>
<circle cx="60.19" cy="137.46" r="1.55" fill="#c9153e" fill-opacity="0.45"/>
<circle cx="97.1" cy="141.31" r="1.55" fill="#c9153e" fill-opacity="0.45"/>
<circle cx="107.1" cy="131.2" r="1.55" fill="#104a87" fill-opacity="0.45"/>
<circle cx="77.82" cy="140.36" r="1.55" fill="#c9153e" fill-opacity="0.45"/>
<circle cx="49.5" cy="96.3" r="1.55" fill="#104a87" fill-opacity="0.45"/>
<circle cx="55.6" cy="139.05" r="1.55" fill="#c9153e" fill-opacity="0.45"/>
<circle cx="49.7" cy="128.3" r="1.55" fill="#35b546" fill-opacity="0.45"/>
<circle cx="160.4" cy="139.9" r="1.55" fill="#104a87" fill-opacity="0.45"/>
<circle cx="75.32" cy="140.05" r="1.55" fill="#35b546" fill-opacity="0.45"/>
<circle cx="81.83" cy="137.26" r="1.55" fill="#35b546" fill-opacity="0.45"/>
<circle cx="49.51" cy="133.95" r="1.55" fill="#35b546" fill-opacity="0.45"/>
<circle cx="71.31" cy="142.17" r="1.55" fill="#35b546" fill-opacity="0.45"/>
<circle cx="49.45" cy="141.09" r="1.55" fill="#c9153e" fill-opacity="0.45"/>
<circle cx="49.69" cy="130.51" r="1.55" fill="#35b546" fill-opacity="0.45"/>
<circle cx="49.68" cy="138.3" r="1.55" fill="#c9153e" fill-opacity="0.45"/>
<circle cx="49.64" cy="137.5" r="1.55" fill="#35b546" fill-opacity="0.45"/>
<circle cx="68.57" cy="142.21" r="1.55" fill="#c9153e" fill-opacity="0.45"/>
<circle cx="49.52" cy="111" r="1.55" fill="#104a87" fill-opacity="0.45"/>
<circle cx="55.49" cy="139.28" r="1.55" fill="#35b546" fill-opacity="0.45"/>
<circle cx="81.26" cy="138.81" r="1.55" fill="#35b546" fill-opacity="0.45"/>
<circle cx="94.34" cy="136.68" r="1.55" fill="#35b546" fill-opacity="0.45"/>
<circle cx="49.22" cy="137.68" r="1.55" fill="#35b546" fill-opacity="0.45"/>
<circle cx="125.2" cy="96.7" r="1.55" fill="#104a87" fill-opacity="0.45"/>
<circle cx="80.58" cy="138.05" r="1.55" fill="#35b546" fill-opacity="0.45"/>
<circle cx="56.88" cy="143" r="1.55" fill="#104a87" fill-opacity="0.45"/>
<circle cx="122.38" cy="139.17" r="1.55" fill="#c9153e" fill-opacity="0.45"/>
<circle cx="49.69" cy="139.8" r="1.55" fill="#c9153e" fill-opacity="0.45"/>
<circle cx="116.77" cy="140.71" r="1.55" fill="#35b546" fill-opacity="0.45"/>
<circle cx="142" cy="129.1" r="1.55" fill="#35b546" fill-opacity="0.45"/>
<circle cx="49.56" cy="141.7" r="1.55" fill="#c9153e" fill-opacity="0.45"/>
<circle cx="49.63" cy="123.5" r="1.55" fill="#c9153e" fill-opacity="0.45"/>
<circle cx="162.7" cy="124.8" r="1.55" fill="#104a87" fill-opacity="0.45"/>
<circle cx="189.55" cy="137.77" r="1.55" fill="#35b546" fill-opacity="0.45"/>
<circle cx="54.68" cy="139.55" r="1.55" fill="#c9153e" fill-opacity="0.45"/>
<circle cx="70.73" cy="138.65" r="1.55" fill="#c9153e" fill-opacity="0.45"/>
<circle cx="49.68" cy="141.6" r="1.55" fill="#c9153e" fill-opacity="0.45"/>
<circle cx="172.7" cy="142.17" r="1.55" fill="#c9153e" fill-opacity="0.45"/>
<circle cx="96" cy="110.2" r="1.55" fill="#104a87" fill-opacity="0.45"/>
<circle cx="54.76" cy="138.98" r="1.55" fill="#c9153e" fill-opacity="0.45"/>
<circle cx="49.67" cy="123.3" r="1.55" fill="#104a87" fill-opacity="0.45"/>
<circle cx="80.42" cy="139.36" r="1.55" fill="#35b546" fill-opacity="0.45"/>
<circle cx="49.48" cy="140.49" r="1.55" fill="#c9153e" fill-opacity="0.45"/>
<circle cx="49.51" cy="98.1" r="1.55" fill="#104a87" fill-opacity="0.45"/>
<circle cx="190.74" cy="137.83" r="1.55" fill="#c9153e" fill-opacity="0.45"/>
<circle cx="83.27" cy="138.03" r="1.55" fill="#35b546" fill-opacity="0.45"/>
<circle cx="141.42" cy="131.35" r="1.55" fill="#104a87" fill-opacity="0.45"/>
<circle cx="95.86" cy="139.14" r="1.55" fill="#c9153e" fill-opacity="0.45"/>
<circle cx="98.34" cy="135.51" r="1.55" fill="#104a87" fill-opacity="0.45"/>
<circle cx="54.76" cy="138.55" r="1.55" fill="#c9153e" fill-opacity="0.45"/>
<circle cx="96" cy="57.7" r="1.55" fill="#104a87" fill-opacity="0.45"/>
<circle cx="49.32" cy="141.38" r="1.55" fill="#c9153e" fill-opacity="0.45"/>
<circle cx="49.67" cy="141.2" r="1.55" fill="#c9153e" fill-opacity="0.45"/>
<circle cx="49.38" cy="140.33" r="1.55" fill="#c9153e" fill-opacity="0.45"/>
<circle cx="97.91" cy="140.14" r="1.55" fill="#c9153e" fill-opacity="0.45"/>
<circle cx="58.55" cy="141.87" r="1.55" fill="#c9153e" fill-opacity="0.45"/>
<circle cx="49.54" cy="142" r="1.55" fill="#c9153e" fill-opacity="0.45"/>
<circle cx="49.56" cy="120.67" r="1.55" fill="#104a87" fill-opacity="0.45"/>
<circle cx="129.86" cy="142.8" r="1.55" fill="#35b546" fill-opacity="0.45"/>
<circle cx="124.7" cy="141.8" r="1.55" fill="#c9153e" fill-opacity="0.45"/>
<circle cx="69.49" cy="141.17" r="1.55" fill="#c9153e" fill-opacity="0.45"/>
<circle cx="129.9" cy="128.1" r="1.55" fill="#c9153e" fill-opacity="0.45"/>
<circle cx="96.46" cy="136.11" r="1.55" fill="#c9153e" fill-opacity="0.45"/>
<circle cx="97.15" cy="138.95" r="1.55" fill="#c9153e" fill-opacity="0.45"/>
<circle cx="62.88" cy="140.55" r="1.55" fill="#c9153e" fill-opacity="0.45"/>
<circle cx="92.09" cy="136.42" r="1.55" fill="#c9153e" fill-opacity="0.45"/>
<circle cx="49.49" cy="125" r="1.55" fill="#35b546" fill-opacity="0.45"/>
<circle cx="71.2" cy="133.88" r="1.55" fill="#c9153e" fill-opacity="0.45"/>
<g transform="translate(0,0)">
<path d="M42,19.5 V147.45 H204.8" fill="none" stroke="#1a1a1a" stroke-width="1.15"/>
<path d="M39,141.5 H42" stroke="#1a1a1a" stroke-width="1.1"/>
<text x="36.3" y="144.6" font-size="9.2" text-anchor="end" textLength="10.84" lengthAdjust="spacingAndGlyphs" fill="#222" stroke="#222" stroke-width="0.12">0.0</text>
<path d="M39,98.65 H42" stroke="#1a1a1a" stroke-width="1.1"/>
<text x="36.3" y="101.75" font-size="9.2" text-anchor="end" textLength="10.84" lengthAdjust="spacingAndGlyphs" fill="#222" stroke="#222" stroke-width="0.12">0.5</text>
<path d="M39,55.8 H42" stroke="#1a1a1a" stroke-width="1.1"/>
<text x="36.3" y="58.9" font-size="9.2" text-anchor="end" textLength="10.84" lengthAdjust="spacingAndGlyphs" fill="#222" stroke="#222" stroke-width="0.12">1.0</text>
<path d="M49.4,147.3 V150.6" stroke="#1a1a1a" stroke-width="1.1"/>
<text x="49.4" y="159.3" font-size="9.2" text-anchor="middle" textLength="4.34" lengthAdjust="spacingAndGlyphs" fill="#222" stroke="#222" stroke-width="0.12">0</text>
<path d="M91.06,147.3 V150.6" stroke="#1a1a1a" stroke-width="1.1"/>
<text x="91.06" y="159.3" font-size="9.2" text-anchor="middle" textLength="8.68" lengthAdjust="spacingAndGlyphs" fill="#222" stroke="#222" stroke-width="0.12">50</text>
<path d="M132.73,147.3 V150.6" stroke="#1a1a1a" stroke-width="1.1"/>
<text x="132.73" y="159.3" font-size="9.2" text-anchor="middle" textLength="13.01" lengthAdjust="spacingAndGlyphs" fill="#222" stroke="#222" stroke-width="0.12">100</text>
<path d="M174.4,147.3 V150.6" stroke="#1a1a1a" stroke-width="1.1"/>
<text x="174.4" y="159.3" font-size="9.2" text-anchor="middle" textLength="13.01" lengthAdjust="spacingAndGlyphs" fill="#222" stroke="#222" stroke-width="0.12">150</text>
<text x="123.2" y="172.9" font-size="9.4" stroke="#000" stroke-width="0.3" text-anchor="middle" textLength="10.2" lengthAdjust="spacingAndGlyphs" fill="#000">DPI</text>
<g transform="translate(20.9,0) rotate(-90)" fill="#000" stroke="#000" stroke-width="0.3" font-size="8.4"><text x="-111.3" y="0" textLength="9.3" lengthAdjust="spacingAndGlyphs">Cell</text><text x="-99.3" y="0" textLength="15.3" lengthAdjust="spacingAndGlyphs">count</text><text x="-81.3" y="0" textLength="13.3" lengthAdjust="spacingAndGlyphs">(×10</text><text x="-67.8" y="-4.6" font-size="5.8" textLength="3" lengthAdjust="spacingAndGlyphs" stroke-width="0.2">9</text><text x="-65" y="0" textLength="9.3" lengthAdjust="spacingAndGlyphs">/L)</text></g>
<text x="123.3" y="13.35" font-size="9" text-anchor="middle" fill="#000" stroke="#000" stroke-width="0.15">Monocytes</text>
<text x="176.4" y="26.3" font-size="7.5" fill="#000" stroke="#000" stroke-width="0.12">Cell population</text>
<rect x="177" y="31.3" width="8" height="5.2" fill="#c9153e" fill-opacity="0.1"/>
<path d="M177,33.9 h8" stroke="#c9153e" stroke-width="1.6"/>
<circle cx="181" cy="33.9" r="1.5" fill="#c9153e" fill-opacity="0.5"/>
<text x="187.9" y="36.4" font-size="6.9" fill="#000" stroke="#000" stroke-width="0.1">Atypical monos</text>
<rect x="177" y="41.95" width="8" height="5.2" fill="#104a87" fill-opacity="0.1"/>
<path d="M177,44.55 h8" stroke="#104a87" stroke-width="1.6"/>
<circle cx="181" cy="44.55" r="1.5" fill="#104a87" fill-opacity="0.5"/>
<text x="187.9" y="47.05" font-size="6.9" fill="#000" stroke="#000" stroke-width="0.1">Classic monos</text>
<rect x="177" y="52.6" width="8" height="5.2" fill="#35b546" fill-opacity="0.1"/>
<path d="M177,55.2 h8" stroke="#35b546" stroke-width="1.6"/>
<circle cx="181" cy="55.2" r="1.5" fill="#35b546" fill-opacity="0.5"/>
<text x="187.9" y="57.7" font-size="6.9" fill="#000" stroke="#000" stroke-width="0.1">Intermediate monos</text>
</g>
<path d="M320.2,121.5 L336.1,124.6 L345.3,125.8 L358,122.6 L370,119.4 L393.1,117.1 L404.6,114.8 L416.2,112.5 L426,110 L442.3,104 L458.6,95.9 L468.4,90.2 L468.4,121 L458.6,121.6 L442.3,122.2 L426,122.4 L416.2,121.2 L404.6,123.5 L393.1,125.2 L370,128.1 L358,131.5 L345.3,133.3 L336.1,132.1 L320.2,128.7Z" fill="#35b546" fill-opacity="0.16"/>
<path d="M320.2,129.8 L336,129.2 L373,129.6 L400,129.2 L426,127.5 L468.4,124.4 L468.4,135 L426,133.4 L400,133.3 L373,133.6 L336,133.8 L320.2,136.7Z" fill="#104a87" fill-opacity="0.16"/>
<path d="M320.2,137.5 L373,136.8 L426,135.2 L468.4,133.8 L468.4,139.3 L426,139 L373,140 L320.2,141Z" fill="#c9153e" fill-opacity="0.16"/>
<path d="M320.2,138.9 L345,138.8 L373,138.5 L400,138 L426,137.2 L468.1,136.7" fill="none" stroke="#fff" stroke-opacity="0.3" stroke-width="3.8" stroke-linejoin="round"/>
<path d="M320.2,133.6 L330.3,132.1 L341.8,131 L353.4,131 L364.9,131.3 L373,131.4 L400,131 L426,130.5 L468.1,131.3" fill="none" stroke="#fff" stroke-opacity="0.3" stroke-width="3.8" stroke-linejoin="round"/>
<path d="M320.2,125.2 L328.4,127.7 L336.1,129.2 L343.8,129.8 L353.4,129.5 L361.5,126.9 L370,124.4 L381.5,122.3 L393.1,120.9 L404.6,118.8 L416.2,116.8 L426,115.3 L442.3,111.9 L458.6,108.1 L468.1,105.7" fill="none" stroke="#fff" stroke-opacity="0.3" stroke-width="3.8" stroke-linejoin="round"/>
<path d="M320.2,138.9 L345,138.8 L373,138.5 L400,138 L426,137.2 L468.1,136.7" fill="none" stroke="#c9153e" stroke-width="1.65" stroke-linejoin="round"/>
<path d="M320.2,133.6 L330.3,132.1 L341.8,131 L353.4,131 L364.9,131.3 L373,131.4 L400,131 L426,130.5 L468.1,131.3" fill="none" stroke="#104a87" stroke-width="1.65" stroke-linejoin="round"/>
<path d="M320.2,125.2 L328.4,127.7 L336.1,129.2 L343.8,129.8 L353.4,129.5 L361.5,126.9 L370,124.4 L381.5,122.3 L393.1,120.9 L404.6,118.8 L416.2,116.8 L426,115.3 L442.3,111.9 L458.6,108.1 L468.1,105.7" fill="none" stroke="#35b546" stroke-width="1.65" stroke-linejoin="round"/>
<circle cx="320.29" cy="123.4" r="1.55" fill="#35b546" fill-opacity="0.45"/>
<circle cx="453.4" cy="120.7" r="1.55" fill="#35b546" fill-opacity="0.45"/>
<circle cx="320.01" cy="125.8" r="1.55" fill="#c9153e" fill-opacity="0.45"/>
<circle cx="320.22" cy="130" r="1.55" fill="#104a87" fill-opacity="0.45"/>
<circle cx="331.16" cy="137.56" r="1.55" fill="#104a87" fill-opacity="0.45"/>
<circle cx="378.3" cy="118.3" r="1.55" fill="#35b546" fill-opacity="0.45"/>
<circle cx="396" cy="133.3" r="1.55" fill="#104a87" fill-opacity="0.45"/>
<circle cx="442.3" cy="121.2" r="1.55" fill="#104a87" fill-opacity="0.45"/>
<circle cx="454.5" cy="115.5" r="1.55" fill="#35b546" fill-opacity="0.45"/>
<circle cx="325.31" cy="134.94" r="1.55" fill="#104a87" fill-opacity="0.45"/>
<circle cx="370.85" cy="138.31" r="1.55" fill="#104a87" fill-opacity="0.45"/>
<circle cx="361.38" cy="136.98" r="1.55" fill="#c9153e" fill-opacity="0.45"/>
<circle cx="374.87" cy="142.6" r="1.55" fill="#35b546" fill-opacity="0.45"/>
<circle cx="449.24" cy="140.65" r="1.55" fill="#104a87" fill-opacity="0.45"/>
<circle cx="433.3" cy="116.8" r="1.55" fill="#35b546" fill-opacity="0.45"/>
<circle cx="340.9" cy="107.3" r="1.55" fill="#104a87" fill-opacity="0.45"/>
<circle cx="385.31" cy="142.6" r="1.55" fill="#c9153e" fill-opacity="0.45"/>
<circle cx="365.93" cy="137.16" r="1.55" fill="#104a87" fill-opacity="0.45"/>
<circle cx="320.24" cy="52.4" r="1.55" fill="#35b546" fill-opacity="0.45"/>
<circle cx="340.9" cy="117.9" r="1.55" fill="#104a87" fill-opacity="0.45"/>
<circle cx="320.11" cy="142" r="1.55" fill="#c9153e" fill-opacity="0.45"/>
<circle cx="320.38" cy="121" r="1.55" fill="#35b546" fill-opacity="0.45"/>
<circle cx="376.9" cy="126.9" r="1.55" fill="#35b546" fill-opacity="0.45"/>
<circle cx="320.23" cy="137" r="1.55" fill="#104a87" fill-opacity="0.45"/>
<circle cx="320.34" cy="125.15" r="1.55" fill="#c9153e" fill-opacity="0.45"/>
<circle cx="389.4" cy="118.3" r="1.55" fill="#35b546" fill-opacity="0.45"/>
<circle cx="343.6" cy="121.4" r="1.55" fill="#104a87" fill-opacity="0.45"/>
<circle cx="320.25" cy="120.81" r="1.55" fill="#35b546" fill-opacity="0.45"/>
<circle cx="451.3" cy="135.9" r="1.55" fill="#c9153e" fill-opacity="0.45"/>
<circle cx="400.2" cy="127.5" r="1.55" fill="#c9153e" fill-opacity="0.45"/>
<circle cx="320.27" cy="140.2" r="1.55" fill="#c9153e" fill-opacity="0.45"/>
<circle cx="468.1" cy="133.7" r="1.55" fill="#35b546" fill-opacity="0.45"/>
<circle cx="347.63" cy="138.82" r="1.55" fill="#35b546" fill-opacity="0.45"/>
<circle cx="320.01" cy="139" r="1.55" fill="#c9153e" fill-opacity="0.45"/>
<circle cx="320.21" cy="115" r="1.55" fill="#35b546" fill-opacity="0.45"/>
<circle cx="454.06" cy="136.19" r="1.55" fill="#104a87" fill-opacity="0.45"/>
<circle cx="336.04" cy="138.84" r="1.55" fill="#104a87" fill-opacity="0.45"/>
<circle cx="319.95" cy="141.5" r="1.55" fill="#c9153e" fill-opacity="0.45"/>
<circle cx="336.76" cy="141.21" r="1.55" fill="#104a87" fill-opacity="0.45"/>
<circle cx="320.37" cy="130.95" r="1.55" fill="#104a87" fill-opacity="0.45"/>
<circle cx="320.14" cy="137.16" r="1.55" fill="#104a87" fill-opacity="0.45"/>
<circle cx="461.63" cy="141.01" r="1.55" fill="#104a87" fill-opacity="0.45"/>
<circle cx="433.3" cy="102.4" r="1.55" fill="#35b546" fill-opacity="0.45"/>
<circle cx="401.2" cy="141.3" r="1.55" fill="#c9153e" fill-opacity="0.45"/>
<circle cx="389.12" cy="137.19" r="1.55" fill="#104a87" fill-opacity="0.45"/>
<circle cx="366.87" cy="135.79" r="1.55" fill="#104a87" fill-opacity="0.45"/>
<circle cx="330.3" cy="118.3" r="1.55" fill="#104a87" fill-opacity="0.45"/>
<circle cx="468.49" cy="137.83" r="1.55" fill="#104a87" fill-opacity="0.45"/>
<circle cx="373.5" cy="62.4" r="1.55" fill="#35b546" fill-opacity="0.45"/>
<circle cx="320.09" cy="137.8" r="1.55" fill="#c9153e" fill-opacity="0.45"/>
<circle cx="432.78" cy="135.87" r="1.55" fill="#c9153e" fill-opacity="0.45"/>
<circle cx="426.2" cy="139.31" r="1.55" fill="#c9153e" fill-opacity="0.45"/>
<circle cx="460.3" cy="124.9" r="1.55" fill="#104a87" fill-opacity="0.45"/>
<circle cx="344.01" cy="137.95" r="1.55" fill="#c9153e" fill-opacity="0.45"/>
<circle cx="354.19" cy="138.35" r="1.55" fill="#104a87" fill-opacity="0.45"/>
<circle cx="419.6" cy="138.5" r="1.55" fill="#104a87" fill-opacity="0.45"/>
<circle cx="331.72" cy="140.19" r="1.55" fill="#104a87" fill-opacity="0.45"/>
<circle cx="320.33" cy="131" r="1.55" fill="#35b546" fill-opacity="0.45"/>
<circle cx="335.5" cy="122.9" r="1.55" fill="#35b546" fill-opacity="0.45"/>
<circle cx="393.7" cy="117.5" r="1.55" fill="#35b546" fill-opacity="0.45"/>
<circle cx="460.85" cy="138.24" r="1.55" fill="#c9153e" fill-opacity="0.45"/>
<circle cx="331.5" cy="124.6" r="1.55" fill="#104a87" fill-opacity="0.45"/>
<circle cx="449.2" cy="130.5" r="1.55" fill="#35b546" fill-opacity="0.45"/>
<circle cx="367.8" cy="111.7" r="1.55" fill="#35b546" fill-opacity="0.45"/>
<circle cx="468.1" cy="130.1" r="1.55" fill="#104a87" fill-opacity="0.45"/>
<circle cx="327.92" cy="140.04" r="1.55" fill="#c9153e" fill-opacity="0.45"/>
<circle cx="418.11" cy="138.93" r="1.55" fill="#c9153e" fill-opacity="0.45"/>
<circle cx="442.3" cy="132.6" r="1.55" fill="#104a87" fill-opacity="0.45"/>
<circle cx="341.27" cy="142.6" r="1.55" fill="#104a87" fill-opacity="0.45"/>
<circle cx="320.36" cy="134.75" r="1.55" fill="#104a87" fill-opacity="0.45"/>
<circle cx="355.67" cy="142.16" r="1.55" fill="#35b546" fill-opacity="0.45"/>
<circle cx="386.4" cy="142.6" r="1.55" fill="#c9153e" fill-opacity="0.45"/>
<circle cx="320.17" cy="129" r="1.55" fill="#c9153e" fill-opacity="0.45"/>
<circle cx="352.2" cy="137.13" r="1.55" fill="#c9153e" fill-opacity="0.45"/>
<circle cx="343.9" cy="138.56" r="1.55" fill="#c9153e" fill-opacity="0.45"/>
<circle cx="411" cy="128.3" r="1.55" fill="#35b546" fill-opacity="0.45"/>
<circle cx="320.17" cy="129.3" r="1.55" fill="#104a87" fill-opacity="0.45"/>
<circle cx="419.15" cy="137.87" r="1.55" fill="#104a87" fill-opacity="0.45"/>
<circle cx="341.8" cy="67.3" r="1.55" fill="#35b546" fill-opacity="0.45"/>
<circle cx="374.43" cy="139.96" r="1.55" fill="#c9153e" fill-opacity="0.45"/>
<circle cx="365.88" cy="141.77" r="1.55" fill="#c9153e" fill-opacity="0.45"/>
<circle cx="320.11" cy="114.6" r="1.55" fill="#35b546" fill-opacity="0.45"/>
<circle cx="320.36" cy="112.5" r="1.55" fill="#35b546" fill-opacity="0.45"/>
<circle cx="431" cy="141.3" r="1.55" fill="#c9153e" fill-opacity="0.45"/>
<circle cx="468.1" cy="141.3" r="1.55" fill="#c9153e" fill-opacity="0.45"/>
<circle cx="366.7" cy="118.8" r="1.55" fill="#35b546" fill-opacity="0.45"/>
<circle cx="330.53" cy="140.74" r="1.55" fill="#c9153e" fill-opacity="0.45"/>
<circle cx="400.2" cy="91.6" r="1.55" fill="#104a87" fill-opacity="0.45"/>
<circle cx="336.7" cy="140.67" r="1.55" fill="#35b546" fill-opacity="0.45"/>
<circle cx="340.7" cy="123.5" r="1.55" fill="#35b546" fill-opacity="0.45"/>
<circle cx="375.2" cy="135" r="1.55" fill="#c9153e" fill-opacity="0.45"/>
<circle cx="426.88" cy="139.34" r="1.55" fill="#c9153e" fill-opacity="0.45"/>
<circle cx="433.09" cy="135.83" r="1.55" fill="#104a87" fill-opacity="0.45"/>
<circle cx="448.5" cy="121.7" r="1.55" fill="#c9153e" fill-opacity="0.45"/>
<circle cx="396.5" cy="141.3" r="1.55" fill="#c9153e" fill-opacity="0.45"/>
<circle cx="346.83" cy="138.12" r="1.55" fill="#104a87" fill-opacity="0.45"/>
<circle cx="341.23" cy="138.75" r="1.55" fill="#104a87" fill-opacity="0.45"/>
<circle cx="320.36" cy="140.64" r="1.55" fill="#c9153e" fill-opacity="0.45"/>
<circle cx="332.96" cy="135.56" r="1.55" fill="#104a87" fill-opacity="0.45"/>
<circle cx="330.9" cy="136.17" r="1.55" fill="#104a87" fill-opacity="0.45"/>
<circle cx="454.5" cy="130.5" r="1.55" fill="#104a87" fill-opacity="0.45"/>
<circle cx="462.7" cy="98.3" r="1.55" fill="#35b546" fill-opacity="0.45"/>
<circle cx="430.9" cy="110.9" r="1.55" fill="#35b546" fill-opacity="0.45"/>
<circle cx="370.24" cy="140.53" r="1.55" fill="#c9153e" fill-opacity="0.45"/>
<circle cx="333.65" cy="141.7" r="1.55" fill="#104a87" fill-opacity="0.45"/>
<circle cx="351.44" cy="142.6" r="1.55" fill="#c9153e" fill-opacity="0.45"/>
<circle cx="386.2" cy="127.5" r="1.55" fill="#104a87" fill-opacity="0.45"/>
<circle cx="320.31" cy="141.23" r="1.55" fill="#c9153e" fill-opacity="0.45"/>
<circle cx="327.4" cy="140.65" r="1.55" fill="#104a87" fill-opacity="0.45"/>
<circle cx="332.61" cy="136.7" r="1.55" fill="#35b546" fill-opacity="0.45"/>
<circle cx="374.45" cy="140.36" r="1.55" fill="#c9153e" fill-opacity="0.45"/>
<circle cx="327.16" cy="141.64" r="1.55" fill="#c9153e" fill-opacity="0.45"/>
<circle cx="395.95" cy="142.3" r="1.55" fill="#104a87" fill-opacity="0.45"/>
<circle cx="399.44" cy="135.61" r="1.55" fill="#c9153e" fill-opacity="0.45"/>
<circle cx="324.93" cy="138.56" r="1.55" fill="#104a87" fill-opacity="0.45"/>
<circle cx="319.97" cy="133.21" r="1.55" fill="#35b546" fill-opacity="0.45"/>
<circle cx="343.92" cy="140.87" r="1.55" fill="#c9153e" fill-opacity="0.45"/>
<circle cx="333.7" cy="138.35" r="1.55" fill="#104a87" fill-opacity="0.45"/>
<circle cx="320.03" cy="127" r="1.55" fill="#c9153e" fill-opacity="0.45"/>
<circle cx="396.5" cy="94" r="1.55" fill="#35b546" fill-opacity="0.45"/>
<circle cx="346.96" cy="136.05" r="1.55" fill="#104a87" fill-opacity="0.45"/>
<circle cx="344.4" cy="115.2" r="1.55" fill="#35b546" fill-opacity="0.45"/>
<circle cx="387.6" cy="141.3" r="1.55" fill="#c9153e" fill-opacity="0.45"/>
<circle cx="448.29" cy="138.19" r="1.55" fill="#c9153e" fill-opacity="0.45"/>
<circle cx="340.48" cy="141.46" r="1.55" fill="#104a87" fill-opacity="0.45"/>
<circle cx="325.07" cy="135.97" r="1.55" fill="#c9153e" fill-opacity="0.45"/>
<circle cx="390.73" cy="142.6" r="1.55" fill="#c9153e" fill-opacity="0.45"/>
<circle cx="320.28" cy="111.96" r="1.55" fill="#35b546" fill-opacity="0.45"/>
<circle cx="355.13" cy="140.52" r="1.55" fill="#c9153e" fill-opacity="0.45"/>
<circle cx="427.7" cy="111" r="1.55" fill="#104a87" fill-opacity="0.45"/>
<circle cx="398.3" cy="126.7" r="1.55" fill="#104a87" fill-opacity="0.45"/>
<circle cx="429.4" cy="141.3" r="1.55" fill="#c9153e" fill-opacity="0.45"/>
<circle cx="442.38" cy="140.05" r="1.55" fill="#c9153e" fill-opacity="0.45"/>
<circle cx="433.23" cy="139.17" r="1.55" fill="#c9153e" fill-opacity="0.45"/>
<circle cx="320.42" cy="118.28" r="1.55" fill="#104a87" fill-opacity="0.45"/>
<circle cx="378.68" cy="141.74" r="1.55" fill="#104a87" fill-opacity="0.45"/>
<circle cx="330.2" cy="77.3" r="1.55" fill="#35b546" fill-opacity="0.45"/>
<circle cx="449.7" cy="138.3" r="1.55" fill="#104a87" fill-opacity="0.45"/>
<circle cx="460.77" cy="142.6" r="1.55" fill="#104a87" fill-opacity="0.45"/>
<circle cx="448.5" cy="126.9" r="1.55" fill="#104a87" fill-opacity="0.45"/>
<circle cx="400.61" cy="139.67" r="1.55" fill="#c9153e" fill-opacity="0.45"/>
<circle cx="352.78" cy="142.6" r="1.55" fill="#c9153e" fill-opacity="0.45"/>
<circle cx="393.7" cy="114.5" r="1.55" fill="#104a87" fill-opacity="0.45"/>
<circle cx="320.16" cy="128.59" r="1.55" fill="#c9153e" fill-opacity="0.45"/>
<circle cx="370.25" cy="140.54" r="1.55" fill="#35b546" fill-opacity="0.45"/>
<circle cx="320.2" cy="134.5" r="1.55" fill="#104a87" fill-opacity="0.45"/>
<circle cx="375.2" cy="112.8" r="1.55" fill="#104a87" fill-opacity="0.45"/>
<circle cx="351.7" cy="120.2" r="1.55" fill="#104a87" fill-opacity="0.45"/>
<circle cx="362.02" cy="131" r="1.55" fill="#35b546" fill-opacity="0.45"/>
<circle cx="320.16" cy="132.26" r="1.55" fill="#104a87" fill-opacity="0.45"/>
<circle cx="419.6" cy="128.3" r="1.55" fill="#35b546" fill-opacity="0.45"/>
<circle cx="369.66" cy="140.94" r="1.55" fill="#c9153e" fill-opacity="0.45"/>
<circle cx="333.83" cy="142.6" r="1.55" fill="#c9153e" fill-opacity="0.45"/>
<circle cx="362.18" cy="140.66" r="1.55" fill="#104a87" fill-opacity="0.45"/>
<circle cx="328" cy="130.2" r="1.55" fill="#c9153e" fill-opacity="0.45"/>
<circle cx="369.3" cy="90.4" r="1.55" fill="#35b546" fill-opacity="0.45"/>
<circle cx="390.7" cy="138.64" r="1.55" fill="#c9153e" fill-opacity="0.45"/>
<circle cx="335.73" cy="141.71" r="1.55" fill="#c9153e" fill-opacity="0.45"/>
<circle cx="340.86" cy="135.28" r="1.55" fill="#c9153e" fill-opacity="0.45"/>
<circle cx="320.16" cy="90.6" r="1.55" fill="#35b546" fill-opacity="0.45"/>
<circle cx="343.89" cy="136.09" r="1.55" fill="#c9153e" fill-opacity="0.45"/>
<circle cx="347.84" cy="134.41" r="1.55" fill="#104a87" fill-opacity="0.45"/>
<circle cx="361.16" cy="142.6" r="1.55" fill="#104a87" fill-opacity="0.45"/>
<circle cx="377.86" cy="141.8" r="1.55" fill="#c9153e" fill-opacity="0.45"/>
<circle cx="320.28" cy="122.81" r="1.55" fill="#35b546" fill-opacity="0.45"/>
<circle cx="346.5" cy="124.6" r="1.55" fill="#104a87" fill-opacity="0.45"/>
<circle cx="427.7" cy="133.3" r="1.55" fill="#c9153e" fill-opacity="0.45"/>
<circle cx="441.42" cy="141.2" r="1.55" fill="#c9153e" fill-opacity="0.45"/>
<circle cx="433.3" cy="133.7" r="1.55" fill="#c9153e" fill-opacity="0.45"/>
<circle cx="347.6" cy="126.9" r="1.55" fill="#c9153e" fill-opacity="0.45"/>
<circle cx="327.97" cy="139.69" r="1.55" fill="#35b546" fill-opacity="0.45"/>
<circle cx="462.7" cy="139.1" r="1.55" fill="#c9153e" fill-opacity="0.45"/>
<circle cx="396" cy="126.9" r="1.55" fill="#104a87" fill-opacity="0.45"/>
<circle cx="331.5" cy="116.3" r="1.55" fill="#104a87" fill-opacity="0.45"/>
<circle cx="370.1" cy="119.4" r="1.55" fill="#104a87" fill-opacity="0.45"/>
<circle cx="320.26" cy="137.29" r="1.55" fill="#c9153e" fill-opacity="0.45"/>
<circle cx="426.8" cy="88.4" r="1.55" fill="#35b546" fill-opacity="0.45"/>
<circle cx="353.4" cy="116.8" r="1.55" fill="#104a87" fill-opacity="0.45"/>
<circle cx="330.3" cy="124.4" r="1.55" fill="#35b546" fill-opacity="0.45"/>
<circle cx="320.05" cy="111.2" r="1.55" fill="#35b546" fill-opacity="0.45"/>
<circle cx="319.99" cy="141.92" r="1.55" fill="#c9153e" fill-opacity="0.45"/>
<circle cx="437" cy="141.3" r="1.55" fill="#c9153e" fill-opacity="0.45"/>
<circle cx="353.6" cy="121.2" r="1.55" fill="#104a87" fill-opacity="0.45"/>
<circle cx="355.56" cy="142.6" r="1.55" fill="#104a87" fill-opacity="0.45"/>
<circle cx="417.3" cy="126.7" r="1.55" fill="#104a87" fill-opacity="0.45"/>
<circle cx="320.26" cy="134" r="1.55" fill="#35b546" fill-opacity="0.45"/>
<circle cx="320.38" cy="135.44" r="1.55" fill="#104a87" fill-opacity="0.45"/>
<circle cx="372.3" cy="122.3" r="1.55" fill="#35b546" fill-opacity="0.45"/>
<circle cx="441.38" cy="140.31" r="1.55" fill="#c9153e" fill-opacity="0.45"/>
<circle cx="453.87" cy="136.58" r="1.55" fill="#104a87" fill-opacity="0.45"/>
<circle cx="450.8" cy="107.3" r="1.55" fill="#35b546" fill-opacity="0.45"/>
<circle cx="396" cy="104.8" r="1.55" fill="#35b546" fill-opacity="0.45"/>
<circle cx="411.75" cy="139.08" r="1.55" fill="#c9153e" fill-opacity="0.45"/>
<circle cx="364.3" cy="123.5" r="1.55" fill="#104a87" fill-opacity="0.45"/>
<circle cx="320.19" cy="140.8" r="1.55" fill="#c9153e" fill-opacity="0.45"/>
<circle cx="351.89" cy="140.21" r="1.55" fill="#35b546" fill-opacity="0.45"/>
<circle cx="373.5" cy="128.1" r="1.55" fill="#104a87" fill-opacity="0.45"/>
<circle cx="353.4" cy="111.7" r="1.55" fill="#35b546" fill-opacity="0.45"/>
<circle cx="386.7" cy="137.33" r="1.55" fill="#104a87" fill-opacity="0.45"/>
<circle cx="449.37" cy="139.29" r="1.55" fill="#c9153e" fill-opacity="0.45"/>
<circle cx="396.32" cy="137.64" r="1.55" fill="#c9153e" fill-opacity="0.45"/>
<circle cx="325.05" cy="142.33" r="1.55" fill="#c9153e" fill-opacity="0.45"/>
<circle cx="462.7" cy="134.7" r="1.55" fill="#104a87" fill-opacity="0.45"/>
<circle cx="320.35" cy="127.72" r="1.55" fill="#c9153e" fill-opacity="0.45"/>
<circle cx="426.5" cy="140.8" r="1.55" fill="#104a87" fill-opacity="0.45"/>
<circle cx="328.06" cy="138.47" r="1.55" fill="#c9153e" fill-opacity="0.45"/>
<circle cx="396.5" cy="118.3" r="1.55" fill="#35b546" fill-opacity="0.45"/>
<circle cx="332" cy="113.7" r="1.55" fill="#35b546" fill-opacity="0.45"/>
<circle cx="320.12" cy="140.7" r="1.55" fill="#c9153e" fill-opacity="0.45"/>
<circle cx="411.88" cy="137.38" r="1.55" fill="#104a87" fill-opacity="0.45"/>
<circle cx="411" cy="141.3" r="1.55" fill="#c9153e" fill-opacity="0.45"/>
<circle cx="410.47" cy="142.11" r="1.55" fill="#c9153e" fill-opacity="0.45"/>
<circle cx="354.19" cy="141.22" r="1.55" fill="#104a87" fill-opacity="0.45"/>
<circle cx="468.23" cy="140.84" r="1.55" fill="#c9153e" fill-opacity="0.45"/>
<circle cx="396" cy="124.6" r="1.55" fill="#35b546" fill-opacity="0.45"/>
<circle cx="396" cy="136.2" r="1.55" fill="#104a87" fill-opacity="0.45"/>
<circle cx="400.9" cy="117.5" r="1.55" fill="#35b546" fill-opacity="0.45"/>
<circle cx="320.18" cy="138.46" r="1.55" fill="#c9153e" fill-opacity="0.45"/>
<circle cx="442.3" cy="141.3" r="1.55" fill="#c9153e" fill-opacity="0.45"/>
<circle cx="366.66" cy="141.05" r="1.55" fill="#c9153e" fill-opacity="0.45"/>
<circle cx="369.19" cy="137.39" r="1.55" fill="#104a87" fill-opacity="0.45"/>
<circle cx="441.5" cy="117.1" r="1.55" fill="#35b546" fill-opacity="0.45"/>
<circle cx="378.7" cy="133.3" r="1.55" fill="#c9153e" fill-opacity="0.45"/>
<circle cx="320.44" cy="131.75" r="1.55" fill="#35b546" fill-opacity="0.45"/>
<circle cx="320.24" cy="131.5" r="1.55" fill="#104a87" fill-opacity="0.45"/>
<circle cx="320.4" cy="127.7" r="1.55" fill="#104a87" fill-opacity="0.45"/>
<circle cx="398.6" cy="98.8" r="1.55" fill="#35b546" fill-opacity="0.45"/>
<circle cx="395.9" cy="74.5" r="1.55" fill="#35b546" fill-opacity="0.45"/>
<circle cx="426.79" cy="140.73" r="1.55" fill="#104a87" fill-opacity="0.45"/>
<circle cx="343.6" cy="109.4" r="1.55" fill="#104a87" fill-opacity="0.45"/>
<circle cx="377.94" cy="136.17" r="1.55" fill="#c9153e" fill-opacity="0.45"/>
<circle cx="448.4" cy="25.4" r="1.55" fill="#35b546" fill-opacity="0.45"/>
<circle cx="324.21" cy="135.5" r="1.55" fill="#35b546" fill-opacity="0.45"/>
<circle cx="366.58" cy="136.35" r="1.55" fill="#c9153e" fill-opacity="0.45"/>
<circle cx="346.13" cy="138.06" r="1.55" fill="#104a87" fill-opacity="0.45"/>
<circle cx="320.24" cy="110.7" r="1.55" fill="#35b546" fill-opacity="0.45"/>
<circle cx="320.43" cy="119.8" r="1.55" fill="#35b546" fill-opacity="0.45"/>
<circle cx="320.22" cy="136" r="1.55" fill="#104a87" fill-opacity="0.45"/>
<circle cx="320.45" cy="119.07" r="1.55" fill="#35b546" fill-opacity="0.45"/>
<circle cx="352.8" cy="126.3" r="1.55" fill="#35b546" fill-opacity="0.45"/>
<circle cx="366.7" cy="116" r="1.55" fill="#35b546" fill-opacity="0.45"/>
<circle cx="411" cy="133.3" r="1.55" fill="#104a87" fill-opacity="0.45"/>
<circle cx="320.02" cy="118.6" r="1.55" fill="#104a87" fill-opacity="0.45"/>
<circle cx="459.9" cy="101.1" r="1.55" fill="#35b546" fill-opacity="0.45"/>
<circle cx="396" cy="129.8" r="1.55" fill="#104a87" fill-opacity="0.45"/>
<circle cx="412.1" cy="135" r="1.55" fill="#35b546" fill-opacity="0.45"/>
<circle cx="454.2" cy="138.72" r="1.55" fill="#104a87" fill-opacity="0.45"/>
<circle cx="352.44" cy="141.59" r="1.55" fill="#c9153e" fill-opacity="0.45"/>
<circle cx="320.09" cy="122.2" r="1.55" fill="#35b546" fill-opacity="0.45"/>
<circle cx="395.82" cy="141.45" r="1.55" fill="#104a87" fill-opacity="0.45"/>
<circle cx="400.06" cy="142.6" r="1.55" fill="#104a87" fill-opacity="0.45"/>
<circle cx="433.3" cy="136.3" r="1.55" fill="#104a87" fill-opacity="0.45"/>
<circle cx="418.5" cy="141.3" r="1.55" fill="#c9153e" fill-opacity="0.45"/>
<circle cx="366.7" cy="99.5" r="1.55" fill="#35b546" fill-opacity="0.45"/>
<circle cx="320.29" cy="122.13" r="1.55" fill="#35b546" fill-opacity="0.45"/>
<circle cx="390.8" cy="134.4" r="1.55" fill="#104a87" fill-opacity="0.45"/>
<circle cx="320.06" cy="133" r="1.55" fill="#104a87" fill-opacity="0.45"/>
<circle cx="331.74" cy="135.66" r="1.55" fill="#104a87" fill-opacity="0.45"/>
<circle cx="453.7" cy="141.3" r="1.55" fill="#c9153e" fill-opacity="0.45"/>
<circle cx="468.72" cy="137.47" r="1.55" fill="#c9153e" fill-opacity="0.45"/>
<circle cx="335.27" cy="139.6" r="1.55" fill="#c9153e" fill-opacity="0.45"/>
<circle cx="390.2" cy="126.3" r="1.55" fill="#35b546" fill-opacity="0.45"/>
<circle cx="334.9" cy="117.7" r="1.55" fill="#35b546" fill-opacity="0.45"/>
<circle cx="352.8" cy="133.3" r="1.55" fill="#c9153e" fill-opacity="0.45"/>
<circle cx="361.73" cy="136.27" r="1.55" fill="#c9153e" fill-opacity="0.45"/>
<circle cx="418.54" cy="140.28" r="1.55" fill="#c9153e" fill-opacity="0.45"/>
<circle cx="449.2" cy="141.3" r="1.55" fill="#c9153e" fill-opacity="0.45"/>
<circle cx="344.23" cy="139.68" r="1.55" fill="#104a87" fill-opacity="0.45"/>
<circle cx="427.7" cy="135.6" r="1.55" fill="#35b546" fill-opacity="0.45"/>
<circle cx="453.7" cy="138.3" r="1.55" fill="#104a87" fill-opacity="0.45"/>
<circle cx="320.13" cy="128" r="1.55" fill="#104a87" fill-opacity="0.45"/>
<circle cx="341.3" cy="135" r="1.55" fill="#c9153e" fill-opacity="0.45"/>
<circle cx="433.3" cy="108.9" r="1.55" fill="#104a87" fill-opacity="0.45"/>
<circle cx="460.3" cy="129.8" r="1.55" fill="#c9153e" fill-opacity="0.45"/>
<circle cx="329.5" cy="111.1" r="1.55" fill="#35b546" fill-opacity="0.45"/>
<g transform="translate(271,0)">
<path d="M42,19.5 V147.45 H204.8" fill="none" stroke="#1a1a1a" stroke-width="1.15"/>
<path d="M39,141.5 H42" stroke="#1a1a1a" stroke-width="1.1"/>
<text x="36.3" y="144.6" font-size="9.2" text-anchor="end" textLength="4.34" lengthAdjust="spacingAndGlyphs" fill="#222" stroke="#222" stroke-width="0.12">0</text>
<path d="M39,98.9 H42" stroke="#1a1a1a" stroke-width="1.1"/>
<text x="36.3" y="102" font-size="9.2" text-anchor="end" textLength="4.34" lengthAdjust="spacingAndGlyphs" fill="#222" stroke="#222" stroke-width="0.12">2</text>
<path d="M39,56.3 H42" stroke="#1a1a1a" stroke-width="1.1"/>
<text x="36.3" y="59.4" font-size="9.2" text-anchor="end" textLength="4.34" lengthAdjust="spacingAndGlyphs" fill="#222" stroke="#222" stroke-width="0.12">4</text>
<path d="M49.4,147.3 V150.6" stroke="#1a1a1a" stroke-width="1.1"/>
<text x="49.4" y="159.3" font-size="9.2" text-anchor="middle" textLength="4.34" lengthAdjust="spacingAndGlyphs" fill="#222" stroke="#222" stroke-width="0.12">0</text>
<path d="M91.06,147.3 V150.6" stroke="#1a1a1a" stroke-width="1.1"/>
<text x="91.06" y="159.3" font-size="9.2" text-anchor="middle" textLength="8.68" lengthAdjust="spacingAndGlyphs" fill="#222" stroke="#222" stroke-width="0.12">50</text>
<path d="M132.73,147.3 V150.6" stroke="#1a1a1a" stroke-width="1.1"/>
<text x="132.73" y="159.3" font-size="9.2" text-anchor="middle" textLength="13.01" lengthAdjust="spacingAndGlyphs" fill="#222" stroke="#222" stroke-width="0.12">100</text>
<path d="M174.4,147.3 V150.6" stroke="#1a1a1a" stroke-width="1.1"/>
<text x="174.4" y="159.3" font-size="9.2" text-anchor="middle" textLength="13.01" lengthAdjust="spacingAndGlyphs" fill="#222" stroke="#222" stroke-width="0.12">150</text>
<text x="123.2" y="172.9" font-size="9.4" stroke="#000" stroke-width="0.3" text-anchor="middle" textLength="10.2" lengthAdjust="spacingAndGlyphs" fill="#000">DPI</text>
<g transform="translate(26.7,0) rotate(-90)" fill="#000" stroke="#000" stroke-width="0.3" font-size="8.4"><text x="-111.3" y="0" textLength="9.3" lengthAdjust="spacingAndGlyphs">Cell</text><text x="-99.3" y="0" textLength="15.3" lengthAdjust="spacingAndGlyphs">count</text><text x="-81.3" y="0" textLength="13.3" lengthAdjust="spacingAndGlyphs">(×10</text><text x="-67.8" y="-4.6" font-size="5.8" textLength="3" lengthAdjust="spacingAndGlyphs" stroke-width="0.2">9</text><text x="-65" y="0" textLength="9.3" lengthAdjust="spacingAndGlyphs">/L)</text></g>
<text x="123.3" y="13.35" font-size="9" text-anchor="middle" fill="#000" stroke="#000" stroke-width="0.15">Lymphocytes</text>
<text x="190.4" y="26.3" font-size="7.5" fill="#000" stroke="#000" stroke-width="0.12">Cell population</text>
<rect x="191" y="31.3" width="8" height="5.2" fill="#c9153e" fill-opacity="0.1"/>
<path d="M191,33.9 h8" stroke="#c9153e" stroke-width="1.6"/>
<circle cx="195" cy="33.9" r="1.5" fill="#c9153e" fill-opacity="0.5"/>
<text x="201.9" y="36.4" font-size="6.9" fill="#000" stroke="#000" stroke-width="0.1">B cells</text>
<rect x="191" y="41.95" width="8" height="5.2" fill="#104a87" fill-opacity="0.1"/>
<path d="M191,44.55 h8" stroke="#104a87" stroke-width="1.6"/>
<circle cx="195" cy="44.55" r="1.5" fill="#104a87" fill-opacity="0.5"/>
<text x="201.9" y="47.05" font-size="6.9" fill="#000" stroke="#000" stroke-width="0.1">NK cells</text>
<rect x="191" y="52.6" width="8" height="5.2" fill="#35b546" fill-opacity="0.1"/>
<path d="M191,55.2 h8" stroke="#35b546" stroke-width="1.6"/>
<circle cx="195" cy="55.2" r="1.5" fill="#35b546" fill-opacity="0.5"/>
<text x="201.9" y="57.7" font-size="6.9" fill="#000" stroke="#000" stroke-width="0.1">T cells</text>
</g>
<path d="M49.3,293.7 L70.8,291.5 L82.4,290.8 L102,292.8 L125.2,293 L150,290.9 L165,289.2 L180,288 L197.6,286 L197.6,311.8 L182.7,306.9 L165,304.5 L150,303.4 L125.2,302.9 L102,302.5 L82.4,300.6 L70.8,300.6 L49.3,301.2Z" fill="#35b546" fill-opacity="0.16"/>
<path d="M49.3,302.9 L70.8,308.1 L102,309.8 L131.5,310.6 L150,311 L171.2,311.3 L185,309 L197.6,305 L197.6,321.6 L185,320 L171.2,318.6 L150,317.6 L131.5,316.5 L102,313.2 L70.8,312.7 L49.3,310.4Z" fill="#104a87" fill-opacity="0.16"/>
<path d="M49.3,315.6 L70.8,311.8 L100,308.5 L131.5,307.6 L160,307.7 L185,308.8 L197.6,310.5 L197.6,320 L185,317 L160,313.6 L131.5,313.5 L100,314.9 L70.8,315.2 L49.3,320.2Z" fill="#c9153e" fill-opacity="0.16"/>
<path d="M49.3,306.9 L59.3,309.2 L70.8,310.6 L82.4,311 L93.9,311.3 L102,311.4 L118.9,312.7 L131.5,313.6 L144.1,314.2 L150,314.6 L171.2,315.4 L185,315.3 L197.3,314.8" fill="none" stroke="#fff" stroke-opacity="0.3" stroke-width="3.8" stroke-linejoin="round"/>
<path d="M49.3,317.9 L59.3,315.6 L70.8,313.6 L82.4,312.5 L93.9,311.8 L100,311.6 L118.9,311.5 L131.5,310.4 L144.1,310.4 L150,310.5 L160,311 L171.2,311.8 L185,313.5 L197.3,315.4" fill="none" stroke="#fff" stroke-opacity="0.3" stroke-width="3.8" stroke-linejoin="round"/>
<path d="M49.3,297.7 L59.3,296.8 L70.8,296.3 L82.4,296.3 L93.9,297.5 L102,298.1 L112.6,298.3 L125.2,297.8 L137.8,297.2 L150.4,297.2 L160,297.5 L171.2,298.4 L182.7,300.1 L190,301.4 L197.3,302.9" fill="none" stroke="#fff" stroke-opacity="0.3" stroke-width="3.8" stroke-linejoin="round"/>
<path d="M49.3,306.9 L59.3,309.2 L70.8,310.6 L82.4,311 L93.9,311.3 L102,311.4 L118.9,312.7 L131.5,313.6 L144.1,314.2 L150,314.6 L171.2,315.4 L185,315.3 L197.3,314.8" fill="none" stroke="#104a87" stroke-width="1.65" stroke-linejoin="round"/>
<path d="M49.3,317.9 L59.3,315.6 L70.8,313.6 L82.4,312.5 L93.9,311.8 L100,311.6 L118.9,311.5 L131.5,310.4 L144.1,310.4 L150,310.5 L160,311 L171.2,311.8 L185,313.5 L197.3,315.4" fill="none" stroke="#c9153e" stroke-width="1.65" stroke-linejoin="round"/>
<path d="M49.3,297.7 L59.3,296.8 L70.8,296.3 L82.4,296.3 L93.9,297.5 L102,298.1 L112.6,298.3 L125.2,297.8 L137.8,297.2 L150.4,297.2 L160,297.5 L171.2,298.4 L182.7,300.1 L190,301.4 L197.3,302.9" fill="none" stroke="#35b546" stroke-width="1.65" stroke-linejoin="round"/>
<circle cx="155.66" cy="317.96" r="1.55" fill="#104a87" fill-opacity="0.45"/>
<circle cx="65.59" cy="318.08" r="1.55" fill="#35b546" fill-opacity="0.45"/>
<circle cx="190.9" cy="322.2" r="1.55" fill="#35b546" fill-opacity="0.45"/>
<circle cx="82.6" cy="287.5" r="1.55" fill="#c9153e" fill-opacity="0.45"/>
<circle cx="103.86" cy="317.56" r="1.55" fill="#104a87" fill-opacity="0.45"/>
<circle cx="125.2" cy="287.1" r="1.55" fill="#35b546" fill-opacity="0.45"/>
<circle cx="115.8" cy="302.9" r="1.55" fill="#35b546" fill-opacity="0.45"/>
<circle cx="49.52" cy="308.14" r="1.55" fill="#104a87" fill-opacity="0.45"/>
<circle cx="81.2" cy="305.5" r="1.55" fill="#1e0050" fill-opacity="0.45"/>
<circle cx="72.73" cy="315.54" r="1.55" fill="#c9153e" fill-opacity="0.45"/>
<circle cx="104.4" cy="287.5" r="1.55" fill="#c9153e" fill-opacity="0.45"/>
<circle cx="75.5" cy="307.5" r="1.55" fill="#104a87" fill-opacity="0.45"/>
<circle cx="170.2" cy="319.16" r="1.55" fill="#c9153e" fill-opacity="0.45"/>
<circle cx="95.8" cy="269.6" r="1.55" fill="#35b546" fill-opacity="0.45"/>
<circle cx="129.3" cy="236.7" r="1.55" fill="#35b546" fill-opacity="0.45"/>
<circle cx="125.2" cy="294.7" r="1.55" fill="#35b546" fill-opacity="0.45"/>
<circle cx="49.18" cy="313.9" r="1.55" fill="#35b546" fill-opacity="0.45"/>
<circle cx="139.99" cy="320.47" r="1.55" fill="#104a87" fill-opacity="0.45"/>
<circle cx="84.21" cy="311.76" r="1.55" fill="#c9153e" fill-opacity="0.45"/>
<circle cx="156.1" cy="303.1" r="1.55" fill="#104a87" fill-opacity="0.45"/>
<circle cx="192.1" cy="308.6" r="1.55" fill="#35b546" fill-opacity="0.45"/>
<circle cx="96.2" cy="302.9" r="1.55" fill="#104a87" fill-opacity="0.45"/>
<circle cx="49.43" cy="296.97" r="1.55" fill="#35b546" fill-opacity="0.45"/>
<circle cx="119.2" cy="274.2" r="1.55" fill="#104a87" fill-opacity="0.45"/>
<circle cx="125.2" cy="282.1" r="1.55" fill="#35b546" fill-opacity="0.45"/>
<circle cx="82.6" cy="277.5" r="1.55" fill="#35b546" fill-opacity="0.45"/>
<circle cx="102.5" cy="292.2" r="1.55" fill="#104a87" fill-opacity="0.45"/>
<circle cx="125.2" cy="307.9" r="1.55" fill="#c9153e" fill-opacity="0.45"/>
<circle cx="103.48" cy="322.6" r="1.55" fill="#104a87" fill-opacity="0.45"/>
<circle cx="90.44" cy="315.48" r="1.55" fill="#c9153e" fill-opacity="0.45"/>
<circle cx="104.79" cy="315.94" r="1.55" fill="#c9153e" fill-opacity="0.45"/>
<circle cx="197.17" cy="318.4" r="1.55" fill="#c9153e" fill-opacity="0.45"/>
<circle cx="129.3" cy="250.6" r="1.55" fill="#c9153e" fill-opacity="0.45"/>
<circle cx="49.29" cy="291.39" r="1.55" fill="#35b546" fill-opacity="0.45"/>
<circle cx="148.69" cy="319.56" r="1.55" fill="#c9153e" fill-opacity="0.45"/>
<circle cx="155.11" cy="320.54" r="1.55" fill="#c9153e" fill-opacity="0.45"/>
<circle cx="61.2" cy="256.5" r="1.55" fill="#35b546" fill-opacity="0.45"/>
<circle cx="49.53" cy="315.64" r="1.55" fill="#104a87" fill-opacity="0.45"/>
<circle cx="122" cy="271.9" r="1.55" fill="#35b546" fill-opacity="0.45"/>
<circle cx="162.7" cy="305.6" r="1.55" fill="#c9153e" fill-opacity="0.45"/>
<circle cx="55.3" cy="280.6" r="1.55" fill="#35b546" fill-opacity="0.45"/>
<circle cx="81.11" cy="318.12" r="1.55" fill="#104a87" fill-opacity="0.45"/>
<circle cx="96" cy="284.1" r="1.55" fill="#104a87" fill-opacity="0.45"/>
<circle cx="59.44" cy="318.37" r="1.55" fill="#104a87" fill-opacity="0.45"/>
<circle cx="190.11" cy="312.52" r="1.55" fill="#c9153e" fill-opacity="0.45"/>
<circle cx="49.08" cy="314.9" r="1.55" fill="#104a87" fill-opacity="0.45"/>
<circle cx="60.03" cy="313.95" r="1.55" fill="#c9153e" fill-opacity="0.45"/>
<circle cx="81.8" cy="281.5" r="1.55" fill="#35b546" fill-opacity="0.45"/>
<circle cx="59.4" cy="263.5" r="1.55" fill="#35b546" fill-opacity="0.45"/>
<circle cx="60.71" cy="314.95" r="1.55" fill="#104a87" fill-opacity="0.45"/>
<circle cx="49.49" cy="258.1" r="1.55" fill="#35b546" fill-opacity="0.45"/>
<circle cx="197.3" cy="320" r="1.55" fill="#c9153e" fill-opacity="0.45"/>
<circle cx="57.61" cy="320.23" r="1.55" fill="#104a87" fill-opacity="0.45"/>
<circle cx="49.52" cy="290.6" r="1.55" fill="#35b546" fill-opacity="0.45"/>
<circle cx="72.8" cy="251.3" r="1.55" fill="#35b546" fill-opacity="0.45"/>
<circle cx="125.07" cy="318.13" r="1.55" fill="#104a87" fill-opacity="0.45"/>
<circle cx="61.2" cy="268.5" r="1.55" fill="#35b546" fill-opacity="0.45"/>
<circle cx="49.38" cy="301.38" r="1.55" fill="#104a87" fill-opacity="0.45"/>
<circle cx="49.2" cy="322.5" r="1.55" fill="#c9153e" fill-opacity="0.45"/>
<circle cx="189.19" cy="316.65" r="1.55" fill="#c9153e" fill-opacity="0.45"/>
<circle cx="102.8" cy="302.2" r="1.55" fill="#35b546" fill-opacity="0.45"/>
<circle cx="197.29" cy="316.4" r="1.55" fill="#104a87" fill-opacity="0.45"/>
<circle cx="82.4" cy="302.9" r="1.55" fill="#35b546" fill-opacity="0.45"/>
<circle cx="58.2" cy="301.2" r="1.55" fill="#c9153e" fill-opacity="0.45"/>
<circle cx="130.3" cy="304.4" r="1.55" fill="#35b546" fill-opacity="0.45"/>
<circle cx="96.2" cy="300" r="1.55" fill="#c9153e" fill-opacity="0.45"/>
<circle cx="90.71" cy="319.13" r="1.55" fill="#c9153e" fill-opacity="0.45"/>
<circle cx="192" cy="320" r="1.55" fill="#104a87" fill-opacity="0.45"/>
<circle cx="49.24" cy="309.84" r="1.55" fill="#35b546" fill-opacity="0.45"/>
<circle cx="49.31" cy="205.3" r="1.55" fill="#104a87" fill-opacity="0.45"/>
<circle cx="95.49" cy="321.59" r="1.55" fill="#104a87" fill-opacity="0.45"/>
<circle cx="70.3" cy="308.7" r="1.55" fill="#c9153e" fill-opacity="0.45"/>
<circle cx="75.55" cy="321.73" r="1.55" fill="#c9153e" fill-opacity="0.45"/>
<circle cx="56.54" cy="318.72" r="1.55" fill="#104a87" fill-opacity="0.45"/>
<circle cx="129.75" cy="317.26" r="1.55" fill="#104a87" fill-opacity="0.45"/>
<circle cx="141.4" cy="306" r="1.55" fill="#35b546" fill-opacity="0.45"/>
<circle cx="49.06" cy="294.8" r="1.55" fill="#35b546" fill-opacity="0.45"/>
<circle cx="197.3" cy="302.9" r="1.55" fill="#104a87" fill-opacity="0.45"/>
<circle cx="127.5" cy="300.4" r="1.55" fill="#c9153e" fill-opacity="0.45"/>
<circle cx="129" cy="308.6" r="1.55" fill="#104a87" fill-opacity="0.45"/>
<circle cx="139.17" cy="312.2" r="1.55" fill="#c9153e" fill-opacity="0.45"/>
<circle cx="88.7" cy="316.2" r="1.55" fill="#35b546" fill-opacity="0.45"/>
<circle cx="93.5" cy="254.4" r="1.55" fill="#104a87" fill-opacity="0.45"/>
<circle cx="171.7" cy="299.6" r="1.55" fill="#c9153e" fill-opacity="0.45"/>
<circle cx="49.53" cy="309.4" r="1.55" fill="#35b546" fill-opacity="0.45"/>
<circle cx="49.4" cy="302" r="1.55" fill="#104a87" fill-opacity="0.45"/>
<circle cx="148.56" cy="319.23" r="1.55" fill="#104a87" fill-opacity="0.45"/>
<circle cx="49.44" cy="313.41" r="1.55" fill="#35b546" fill-opacity="0.45"/>
<circle cx="177.4" cy="294.2" r="1.55" fill="#35b546" fill-opacity="0.45"/>
<circle cx="104.4" cy="304.8" r="1.55" fill="#104a87" fill-opacity="0.45"/>
<circle cx="95.03" cy="315.25" r="1.55" fill="#35b546" fill-opacity="0.45"/>
<circle cx="49.19" cy="318.72" r="1.55" fill="#c9153e" fill-opacity="0.45"/>
<circle cx="75.61" cy="322.6" r="1.55" fill="#104a87" fill-opacity="0.45"/>
<circle cx="125.2" cy="284" r="1.55" fill="#c9153e" fill-opacity="0.45"/>
<circle cx="189.2" cy="309.9" r="1.55" fill="#c9153e" fill-opacity="0.45"/>
<circle cx="170.46" cy="321.51" r="1.55" fill="#c9153e" fill-opacity="0.45"/>
<circle cx="49.31" cy="312.28" r="1.55" fill="#35b546" fill-opacity="0.45"/>
<circle cx="170.17" cy="313.61" r="1.55" fill="#c9153e" fill-opacity="0.45"/>
<circle cx="118.95" cy="318.88" r="1.55" fill="#c9153e" fill-opacity="0.45"/>
<circle cx="75.61" cy="318.16" r="1.55" fill="#104a87" fill-opacity="0.45"/>
<circle cx="63.9" cy="304" r="1.55" fill="#35b546" fill-opacity="0.45"/>
<circle cx="49.51" cy="295" r="1.55" fill="#35b546" fill-opacity="0.45"/>
<circle cx="178.28" cy="321.77" r="1.55" fill="#104a87" fill-opacity="0.45"/>
<circle cx="183.06" cy="319.65" r="1.55" fill="#c9153e" fill-opacity="0.45"/>
<circle cx="90.78" cy="320.59" r="1.55" fill="#35b546" fill-opacity="0.45"/>
<circle cx="49.09" cy="323.28" r="1.55" fill="#c9153e" fill-opacity="0.45"/>
<circle cx="49.37" cy="260.4" r="1.55" fill="#35b546" fill-opacity="0.45"/>
<circle cx="122.7" cy="285.2" r="1.55" fill="#c9153e" fill-opacity="0.45"/>
<circle cx="81.8" cy="313.3" r="1.55" fill="#104a87" fill-opacity="0.45"/>
<circle cx="155.68" cy="320.65" r="1.55" fill="#104a87" fill-opacity="0.45"/>
<circle cx="69.5" cy="317.37" r="1.55" fill="#104a87" fill-opacity="0.45"/>
<circle cx="84.06" cy="316.15" r="1.55" fill="#c9153e" fill-opacity="0.45"/>
<circle cx="118.83" cy="315.47" r="1.55" fill="#104a87" fill-opacity="0.45"/>
<circle cx="197.76" cy="319.79" r="1.55" fill="#104a87" fill-opacity="0.45"/>
<circle cx="98.67" cy="319.55" r="1.55" fill="#c9153e" fill-opacity="0.45"/>
<circle cx="54.76" cy="322.6" r="1.55" fill="#104a87" fill-opacity="0.45"/>
<circle cx="118.32" cy="317.97" r="1.55" fill="#c9153e" fill-opacity="0.45"/>
<circle cx="183.52" cy="313.78" r="1.55" fill="#104a87" fill-opacity="0.45"/>
<circle cx="99.4" cy="266.5" r="1.55" fill="#35b546" fill-opacity="0.45"/>
<circle cx="49.53" cy="312.5" r="1.55" fill="#35b546" fill-opacity="0.45"/>
<circle cx="49.48" cy="311" r="1.55" fill="#35b546" fill-opacity="0.45"/>
<circle cx="80.88" cy="319.55" r="1.55" fill="#104a87" fill-opacity="0.45"/>
<circle cx="76.2" cy="253.2" r="1.55" fill="#35b546" fill-opacity="0.45"/>
<circle cx="170.85" cy="316.29" r="1.55" fill="#c9153e" fill-opacity="0.45"/>
<circle cx="70.3" cy="286.2" r="1.55" fill="#35b546" fill-opacity="0.45"/>
<circle cx="75.5" cy="284.4" r="1.55" fill="#35b546" fill-opacity="0.45"/>
<circle cx="182.88" cy="319.18" r="1.55" fill="#c9153e" fill-opacity="0.45"/>
<circle cx="115.1" cy="294" r="1.55" fill="#35b546" fill-opacity="0.45"/>
<circle cx="62.46" cy="316.48" r="1.55" fill="#35b546" fill-opacity="0.45"/>
<circle cx="162.7" cy="319.2" r="1.55" fill="#c9153e" fill-opacity="0.45"/>
<circle cx="124.57" cy="316.49" r="1.55" fill="#c9153e" fill-opacity="0.45"/>
<circle cx="56.25" cy="316.96" r="1.55" fill="#104a87" fill-opacity="0.45"/>
<circle cx="58.2" cy="290.8" r="1.55" fill="#35b546" fill-opacity="0.45"/>
<circle cx="49.32" cy="243.9" r="1.55" fill="#35b546" fill-opacity="0.45"/>
<circle cx="49.19" cy="321.5" r="1.55" fill="#c9153e" fill-opacity="0.45"/>
<circle cx="53.27" cy="322.6" r="1.55" fill="#104a87" fill-opacity="0.45"/>
<circle cx="49.24" cy="304.29" r="1.55" fill="#104a87" fill-opacity="0.45"/>
<circle cx="90.54" cy="318.81" r="1.55" fill="#104a87" fill-opacity="0.45"/>
<circle cx="53.45" cy="315.31" r="1.55" fill="#35b546" fill-opacity="0.45"/>
<circle cx="182.32" cy="316.52" r="1.55" fill="#104a87" fill-opacity="0.45"/>
<circle cx="197.52" cy="317.07" r="1.55" fill="#104a87" fill-opacity="0.45"/>
<circle cx="94.68" cy="317.48" r="1.55" fill="#104a87" fill-opacity="0.45"/>
<circle cx="189.8" cy="316.67" r="1.55" fill="#c9153e" fill-opacity="0.45"/>
<circle cx="61" cy="304.6" r="1.55" fill="#35b546" fill-opacity="0.45"/>
<circle cx="99.31" cy="316.98" r="1.55" fill="#c9153e" fill-opacity="0.45"/>
<circle cx="181" cy="319.2" r="1.55" fill="#104a87" fill-opacity="0.45"/>
<circle cx="49.33" cy="306.79" r="1.55" fill="#c9153e" fill-opacity="0.45"/>
<circle cx="75.7" cy="319.08" r="1.55" fill="#c9153e" fill-opacity="0.45"/>
<circle cx="172" cy="275.1" r="1.55" fill="#35b546" fill-opacity="0.45"/>
<circle cx="197.3" cy="304" r="1.55" fill="#35b546" fill-opacity="0.45"/>
<circle cx="107.79" cy="318.55" r="1.55" fill="#104a87" fill-opacity="0.45"/>
<circle cx="189.2" cy="278.9" r="1.55" fill="#35b546" fill-opacity="0.45"/>
<circle cx="147.3" cy="313.12" r="1.55" fill="#c9153e" fill-opacity="0.45"/>
<circle cx="76.46" cy="318.22" r="1.55" fill="#c9153e" fill-opacity="0.45"/>
<circle cx="49.2" cy="272.9" r="1.55" fill="#35b546" fill-opacity="0.45"/>
<circle cx="49.12" cy="292.8" r="1.55" fill="#35b546" fill-opacity="0.45"/>
<circle cx="64.91" cy="316.45" r="1.55" fill="#104a87" fill-opacity="0.45"/>
<circle cx="49.45" cy="237.2" r="1.55" fill="#104a87" fill-opacity="0.45"/>
<circle cx="92.2" cy="307.5" r="1.55" fill="#c9153e" fill-opacity="0.45"/>
<circle cx="140.1" cy="299.3" r="1.55" fill="#35b546" fill-opacity="0.45"/>
<circle cx="49.17" cy="311.09" r="1.55" fill="#35b546" fill-opacity="0.45"/>
<circle cx="69.28" cy="319.23" r="1.55" fill="#35b546" fill-opacity="0.45"/>
<circle cx="118.43" cy="310.45" r="1.55" fill="#35b546" fill-opacity="0.45"/>
<circle cx="49.13" cy="315.63" r="1.55" fill="#104a87" fill-opacity="0.45"/>
<circle cx="161.23" cy="315.44" r="1.55" fill="#104a87" fill-opacity="0.45"/>
<circle cx="177.33" cy="320.21" r="1.55" fill="#c9153e" fill-opacity="0.45"/>
<circle cx="124.66" cy="316.23" r="1.55" fill="#c9153e" fill-opacity="0.45"/>
<circle cx="98.89" cy="320.21" r="1.55" fill="#104a87" fill-opacity="0.45"/>
<circle cx="64.57" cy="317.51" r="1.55" fill="#104a87" fill-opacity="0.45"/>
<circle cx="90.87" cy="320.68" r="1.55" fill="#c9153e" fill-opacity="0.45"/>
<circle cx="147.27" cy="319.42" r="1.55" fill="#c9153e" fill-opacity="0.45"/>
<circle cx="128.69" cy="315.63" r="1.55" fill="#c9153e" fill-opacity="0.45"/>
<circle cx="49.21" cy="318.5" r="1.55" fill="#c9153e" fill-opacity="0.45"/>
<circle cx="49.39" cy="320" r="1.55" fill="#1e0050" fill-opacity="0.45"/>
<circle cx="71.8" cy="282.9" r="1.55" fill="#104a87" fill-opacity="0.45"/>
<circle cx="162.4" cy="320.39" r="1.55" fill="#35b546" fill-opacity="0.45"/>
<circle cx="177.84" cy="315.3" r="1.55" fill="#104a87" fill-opacity="0.45"/>
<circle cx="62.03" cy="315.36" r="1.55" fill="#c9153e" fill-opacity="0.45"/>
<circle cx="62.2" cy="290.8" r="1.55" fill="#35b546" fill-opacity="0.45"/>
<circle cx="129.48" cy="322.1" r="1.55" fill="#35b546" fill-opacity="0.45"/>
<circle cx="54.07" cy="319.44" r="1.55" fill="#c9153e" fill-opacity="0.45"/>
<circle cx="96.2" cy="293.7" r="1.55" fill="#35b546" fill-opacity="0.45"/>
<circle cx="64.58" cy="318.03" r="1.55" fill="#104a87" fill-opacity="0.45"/>
<circle cx="72.87" cy="321.36" r="1.55" fill="#104a87" fill-opacity="0.45"/>
<circle cx="146.9" cy="285.2" r="1.55" fill="#35b546" fill-opacity="0.45"/>
<circle cx="102.8" cy="307.7" r="1.55" fill="#c9153e" fill-opacity="0.45"/>
<circle cx="49.43" cy="320.5" r="1.55" fill="#c9153e" fill-opacity="0.45"/>
<circle cx="61.76" cy="313.86" r="1.55" fill="#35b546" fill-opacity="0.45"/>
<circle cx="49.35" cy="306.7" r="1.55" fill="#c9153e" fill-opacity="0.45"/>
<circle cx="93.3" cy="294.8" r="1.55" fill="#35b546" fill-opacity="0.45"/>
<circle cx="76" cy="301.7" r="1.55" fill="#35b546" fill-opacity="0.45"/>
<circle cx="80.76" cy="317.21" r="1.55" fill="#104a87" fill-opacity="0.45"/>
<circle cx="76.6" cy="281.5" r="1.55" fill="#35b546" fill-opacity="0.45"/>
<circle cx="99.3" cy="305.2" r="1.55" fill="#c9153e" fill-opacity="0.45"/>
<circle cx="49.38" cy="317.87" r="1.55" fill="#c9153e" fill-opacity="0.45"/>
<circle cx="170.6" cy="319.5" r="1.55" fill="#104a87" fill-opacity="0.45"/>
<circle cx="49.33" cy="316.1" r="1.55" fill="#104a87" fill-opacity="0.45"/>
<circle cx="49.09" cy="284.8" r="1.55" fill="#35b546" fill-opacity="0.45"/>
<circle cx="49.06" cy="303.9" r="1.55" fill="#104a87" fill-opacity="0.45"/>
<circle cx="49.49" cy="315.3" r="1.55" fill="#104a87" fill-opacity="0.45"/>
<circle cx="115.8" cy="308.6" r="1.55" fill="#104a87" fill-opacity="0.45"/>
<circle cx="99.74" cy="320.87" r="1.55" fill="#c9153e" fill-opacity="0.45"/>
<circle cx="124.26" cy="318.81" r="1.55" fill="#c9153e" fill-opacity="0.45"/>
<circle cx="93.3" cy="291.3" r="1.55" fill="#c9153e" fill-opacity="0.45"/>
<circle cx="70.07" cy="318.38" r="1.55" fill="#35b546" fill-opacity="0.45"/>
<circle cx="84.46" cy="312.61" r="1.55" fill="#c9153e" fill-opacity="0.45"/>
<circle cx="83.87" cy="316.67" r="1.55" fill="#c9153e" fill-opacity="0.45"/>
<circle cx="99.66" cy="318.18" r="1.55" fill="#104a87" fill-opacity="0.45"/>
<circle cx="76.6" cy="305.8" r="1.55" fill="#c9153e" fill-opacity="0.45"/>
<circle cx="61" cy="294.2" r="1.55" fill="#35b546" fill-opacity="0.45"/>
<circle cx="115.1" cy="315.2" r="1.55" fill="#c9153e" fill-opacity="0.45"/>
<circle cx="156.8" cy="275" r="1.55" fill="#c9153e" fill-opacity="0.45"/>
<circle cx="155.7" cy="319.2" r="1.55" fill="#c9153e" fill-opacity="0.45"/>
<circle cx="104.8" cy="314.01" r="1.55" fill="#c9153e" fill-opacity="0.45"/>
<circle cx="72.6" cy="298.8" r="1.55" fill="#c9153e" fill-opacity="0.45"/>
<circle cx="162.48" cy="315.38" r="1.55" fill="#104a87" fill-opacity="0.45"/>
<circle cx="155.13" cy="317.12" r="1.55" fill="#104a87" fill-opacity="0.45"/>
<circle cx="139.3" cy="322.6" r="1.55" fill="#35b546" fill-opacity="0.45"/>
<circle cx="61" cy="298.8" r="1.55" fill="#c9153e" fill-opacity="0.45"/>
<circle cx="55.4" cy="270.1" r="1.55" fill="#104a87" fill-opacity="0.45"/>
<circle cx="49.22" cy="319.15" r="1.55" fill="#c9153e" fill-opacity="0.45"/>
<circle cx="106.34" cy="313.96" r="1.55" fill="#104a87" fill-opacity="0.45"/>
<circle cx="162.7" cy="311.5" r="1.55" fill="#c9153e" fill-opacity="0.45"/>
<circle cx="53.37" cy="316.29" r="1.55" fill="#c9153e" fill-opacity="0.45"/>
<circle cx="70.2" cy="311.15" r="1.55" fill="#c9153e" fill-opacity="0.45"/>
<circle cx="156.8" cy="269.4" r="1.55" fill="#35b546" fill-opacity="0.45"/>
<circle cx="73.58" cy="317.39" r="1.55" fill="#104a87" fill-opacity="0.45"/>
<circle cx="49.22" cy="320.45" r="1.55" fill="#c9153e" fill-opacity="0.45"/>
<circle cx="49.47" cy="308.3" r="1.55" fill="#104a87" fill-opacity="0.45"/>
<circle cx="70.2" cy="246.7" r="1.55" fill="#35b546" fill-opacity="0.45"/>
<circle cx="49.08" cy="297.2" r="1.55" fill="#35b546" fill-opacity="0.45"/>
<circle cx="73.45" cy="317.68" r="1.55" fill="#35b546" fill-opacity="0.45"/>
<circle cx="49.18" cy="307.2" r="1.55" fill="#104a87" fill-opacity="0.45"/>
<circle cx="183.5" cy="306.6" r="1.55" fill="#104a87" fill-opacity="0.45"/>
<circle cx="76.2" cy="227.6" r="1.55" fill="#104a87" fill-opacity="0.45"/>
<circle cx="49.06" cy="318.1" r="1.55" fill="#1e0050" fill-opacity="0.45"/>
<circle cx="115.63" cy="315.18" r="1.55" fill="#c9153e" fill-opacity="0.45"/>
<circle cx="49.11" cy="317.2" r="1.55" fill="#c9153e" fill-opacity="0.45"/>
<circle cx="93.5" cy="272.7" r="1.55" fill="#35b546" fill-opacity="0.45"/>
<circle cx="60.84" cy="318.34" r="1.55" fill="#c9153e" fill-opacity="0.45"/>
<circle cx="148.5" cy="315.5" r="1.55" fill="#35b546" fill-opacity="0.45"/>
<circle cx="99.3" cy="277.2" r="1.55" fill="#35b546" fill-opacity="0.45"/>
<circle cx="125.2" cy="289" r="1.55" fill="#104a87" fill-opacity="0.45"/>
<circle cx="49.53" cy="300.6" r="1.55" fill="#104a87" fill-opacity="0.45"/>
<circle cx="80.8" cy="320.18" r="1.55" fill="#104a87" fill-opacity="0.45"/>
<circle cx="115.48" cy="319.55" r="1.55" fill="#35b546" fill-opacity="0.45"/>
<circle cx="125.2" cy="304.1" r="1.55" fill="#104a87" fill-opacity="0.45"/>
<circle cx="95.7" cy="322.6" r="1.55" fill="#c9153e" fill-opacity="0.45"/>
<circle cx="70.36" cy="315.8" r="1.55" fill="#104a87" fill-opacity="0.45"/>
<circle cx="178.1" cy="321.3" r="1.55" fill="#c9153e" fill-opacity="0.45"/>
<circle cx="139.37" cy="318.27" r="1.55" fill="#104a87" fill-opacity="0.45"/>
<circle cx="72.9" cy="291.7" r="1.55" fill="#c9153e" fill-opacity="0.45"/>
<circle cx="114.53" cy="320" r="1.55" fill="#104a87" fill-opacity="0.45"/>
<circle cx="56.98" cy="319.9" r="1.55" fill="#104a87" fill-opacity="0.45"/>
<circle cx="49.46" cy="293.3" r="1.55" fill="#35b546" fill-opacity="0.45"/>
<circle cx="161.63" cy="321.61" r="1.55" fill="#35b546" fill-opacity="0.45"/>
<circle cx="107.4" cy="316.09" r="1.55" fill="#c9153e" fill-opacity="0.45"/>
<circle cx="170.9" cy="311.8" r="1.55" fill="#104a87" fill-opacity="0.45"/>
<circle cx="107.24" cy="322.6" r="1.55" fill="#c9153e" fill-opacity="0.45"/>
<circle cx="49.51" cy="318" r="1.55" fill="#1e0050" fill-opacity="0.45"/>
<circle cx="119.5" cy="315.2" r="1.55" fill="#c9153e" fill-opacity="0.45"/>
<circle cx="49.34" cy="319.5" r="1.55" fill="#c9153e" fill-opacity="0.45"/>
<circle cx="59.3" cy="284.4" r="1.55" fill="#104a87" fill-opacity="0.45"/>
<circle cx="120.2" cy="307.7" r="1.55" fill="#35b546" fill-opacity="0.45"/>
<circle cx="114.99" cy="322.6" r="1.55" fill="#35b546" fill-opacity="0.45"/>
<circle cx="58.5" cy="254.2" r="1.55" fill="#35b546" fill-opacity="0.45"/>
<circle cx="119.2" cy="285" r="1.55" fill="#35b546" fill-opacity="0.45"/>
<circle cx="95.65" cy="317.89" r="1.55" fill="#35b546" fill-opacity="0.45"/>
<circle cx="70.3" cy="291.3" r="1.55" fill="#104a87" fill-opacity="0.45"/>
<circle cx="61.45" cy="321.37" r="1.55" fill="#104a87" fill-opacity="0.45"/>
<circle cx="178" cy="317.81" r="1.55" fill="#104a87" fill-opacity="0.45"/>
<circle cx="58.7" cy="279.2" r="1.55" fill="#104a87" fill-opacity="0.45"/>
<circle cx="49.3" cy="306.91" r="1.55" fill="#104a87" fill-opacity="0.45"/>
<circle cx="62.14" cy="316.61" r="1.55" fill="#c9153e" fill-opacity="0.45"/>
<circle cx="84.82" cy="320.16" r="1.55" fill="#c9153e" fill-opacity="0.45"/>
<circle cx="81.87" cy="319.99" r="1.55" fill="#c9153e" fill-opacity="0.45"/>
<circle cx="129.72" cy="317.36" r="1.55" fill="#104a87" fill-opacity="0.45"/>
<circle cx="49.37" cy="321.87" r="1.55" fill="#c9153e" fill-opacity="0.45"/>
<circle cx="71.8" cy="288.5" r="1.55" fill="#35b546" fill-opacity="0.45"/>
<circle cx="104.3" cy="274.2" r="1.55" fill="#35b546" fill-opacity="0.45"/>
<circle cx="162.5" cy="242.1" r="1.55" fill="#35b546" fill-opacity="0.45"/>
<circle cx="73.07" cy="313.41" r="1.55" fill="#c9153e" fill-opacity="0.45"/>
<circle cx="177.4" cy="303.7" r="1.55" fill="#c9153e" fill-opacity="0.45"/>
<circle cx="49.19" cy="301.03" r="1.55" fill="#104a87" fill-opacity="0.45"/>
<circle cx="156.1" cy="307.3" r="1.55" fill="#35b546" fill-opacity="0.45"/>
<circle cx="65.01" cy="312.78" r="1.55" fill="#c9153e" fill-opacity="0.45"/>
<circle cx="189.2" cy="319.2" r="1.55" fill="#104a87" fill-opacity="0.45"/>
<circle cx="170.9" cy="306.9" r="1.55" fill="#35b546" fill-opacity="0.45"/>
<circle cx="59.15" cy="320.78" r="1.55" fill="#c9153e" fill-opacity="0.45"/>
<circle cx="49.55" cy="314.4" r="1.55" fill="#104a87" fill-opacity="0.45"/>
<circle cx="56.63" cy="317.82" r="1.55" fill="#104a87" fill-opacity="0.45"/>
<circle cx="49.25" cy="320.37" r="1.55" fill="#1e0050" fill-opacity="0.45"/>
<g transform="translate(0,180)">
<path d="M42,19.5 V147.45 H204.8" fill="none" stroke="#1a1a1a" stroke-width="1.15"/>
<path d="M39,141.5 H42" stroke="#1a1a1a" stroke-width="1.1"/>
<text x="36.3" y="144.6" font-size="9.2" text-anchor="end" textLength="10.84" lengthAdjust="spacingAndGlyphs" fill="#222" stroke="#222" stroke-width="0.12">0.0</text>
<path d="M39,106.3 H42" stroke="#1a1a1a" stroke-width="1.1"/>
<text x="36.3" y="109.4" font-size="9.2" text-anchor="end" textLength="10.84" lengthAdjust="spacingAndGlyphs" fill="#222" stroke="#222" stroke-width="0.12">0.5</text>
<path d="M39,71.1 H42" stroke="#1a1a1a" stroke-width="1.1"/>
<text x="36.3" y="74.2" font-size="9.2" text-anchor="end" textLength="10.84" lengthAdjust="spacingAndGlyphs" fill="#222" stroke="#222" stroke-width="0.12">1.0</text>
<path d="M39,35.9 H42" stroke="#1a1a1a" stroke-width="1.1"/>
<text x="36.3" y="39" font-size="9.2" text-anchor="end" textLength="10.84" lengthAdjust="spacingAndGlyphs" fill="#222" stroke="#222" stroke-width="0.12">1.5</text>
<path d="M49.4,147.3 V150.6" stroke="#1a1a1a" stroke-width="1.1"/>
<text x="49.4" y="159.3" font-size="9.2" text-anchor="middle" textLength="4.34" lengthAdjust="spacingAndGlyphs" fill="#222" stroke="#222" stroke-width="0.12">0</text>
<path d="M91.06,147.3 V150.6" stroke="#1a1a1a" stroke-width="1.1"/>
<text x="91.06" y="159.3" font-size="9.2" text-anchor="middle" textLength="8.68" lengthAdjust="spacingAndGlyphs" fill="#222" stroke="#222" stroke-width="0.12">50</text>
<path d="M132.73,147.3 V150.6" stroke="#1a1a1a" stroke-width="1.1"/>
<text x="132.73" y="159.3" font-size="9.2" text-anchor="middle" textLength="13.01" lengthAdjust="spacingAndGlyphs" fill="#222" stroke="#222" stroke-width="0.12">100</text>
<path d="M174.4,147.3 V150.6" stroke="#1a1a1a" stroke-width="1.1"/>
<text x="174.4" y="159.3" font-size="9.2" text-anchor="middle" textLength="13.01" lengthAdjust="spacingAndGlyphs" fill="#222" stroke="#222" stroke-width="0.12">150</text>
<text x="123.2" y="172.9" font-size="9.4" stroke="#000" stroke-width="0.3" text-anchor="middle" textLength="10.2" lengthAdjust="spacingAndGlyphs" fill="#000">DPI</text>
<g transform="translate(20.9,0) rotate(-90)" fill="#000" stroke="#000" stroke-width="0.3" font-size="8.4"><text x="-111.3" y="0" textLength="9.3" lengthAdjust="spacingAndGlyphs">Cell</text><text x="-99.3" y="0" textLength="15.3" lengthAdjust="spacingAndGlyphs">count</text><text x="-81.3" y="0" textLength="13.3" lengthAdjust="spacingAndGlyphs">(×10</text><text x="-67.8" y="-4.6" font-size="5.8" textLength="3" lengthAdjust="spacingAndGlyphs" stroke-width="0.2">9</text><text x="-65" y="0" textLength="9.3" lengthAdjust="spacingAndGlyphs">/L)</text></g>
<text x="123.3" y="13.35" font-size="9" text-anchor="middle" fill="#000" stroke="#000" stroke-width="0.15">NK cells</text>
<text x="178.9" y="26.3" font-size="7.5" fill="#000" stroke="#000" stroke-width="0.12">Cell population</text>
<rect x="179.5" y="31.3" width="8" height="5.2" fill="#c9153e" fill-opacity="0.1"/>
<path d="M179.5,33.9 h8" stroke="#c9153e" stroke-width="1.6"/>
<circle cx="183.5" cy="33.9" r="1.5" fill="#c9153e" fill-opacity="0.5"/>
<text x="190.4" y="36.4" font-size="6.9" fill="#000" stroke="#000" stroke-width="0.1">CD56<tspan dy="-2.5" font-size="4.8">−</tspan><tspan dy="2.5"> NK cells</tspan></text>
<rect x="179.5" y="41.95" width="8" height="5.2" fill="#104a87" fill-opacity="0.1"/>
<path d="M179.5,44.55 h8" stroke="#104a87" stroke-width="1.6"/>
<circle cx="183.5" cy="44.55" r="1.5" fill="#104a87" fill-opacity="0.5"/>
<text x="190.4" y="47.05" font-size="6.9" fill="#000" stroke="#000" stroke-width="0.1">CD56br NK cells</text>
<rect x="179.5" y="52.6" width="8" height="5.2" fill="#35b546" fill-opacity="0.1"/>
<path d="M179.5,55.2 h8" stroke="#35b546" stroke-width="1.6"/>
<circle cx="183.5" cy="55.2" r="1.5" fill="#35b546" fill-opacity="0.5"/>
<text x="190.4" y="57.7" font-size="6.9" fill="#000" stroke="#000" stroke-width="0.1">CD56dim NK cells</text>
</g>
<path d="M320.3,296.6 L334.1,303 L346,305.4 L359.8,302.4 L373,298.3 L393.4,295.4 L416.8,292.5 L426,289.3 L440.5,286.2 L455,280.4 L468.4,273.2 L468.4,304.3 L455,304.3 L440.5,304.8 L426,305 L416.8,304.2 L393.4,306.5 L373,309.6 L359.8,311.2 L346,313 L334.1,311.2 L320.3,308.3Z" fill="#104a87" fill-opacity="0.16"/>
<path d="M320.3,316.8 L342.2,315.5 L373,313.5 L405.1,312.4 L426,310.5 L447.7,307.8 L468.4,303.6 L468.4,311.6 L447.7,314 L426,315.5 L405.1,317 L373,317.9 L342.2,319.7 L320.3,321.2Z" fill="#c9153e" fill-opacity="0.16"/>
<path d="M320.3,320.8 L468.4,320.2 L468.4,322.6 L320.3,322.6Z" fill="#35b546" fill-opacity="0.16"/>
<path d="M320.3,321.8 L468,321.4" fill="none" stroke="#fff" stroke-opacity="0.3" stroke-width="3.8" stroke-linejoin="round"/>
<path d="M320.3,319 L342.2,317.6 L373,315.7 L393.4,315.3 L405.1,314.7 L416.8,313.9 L426,313 L447.7,310.9 L468,308.3" fill="none" stroke="#fff" stroke-opacity="0.3" stroke-width="3.8" stroke-linejoin="round"/>
<path d="M320.3,302.2 L325,304.2 L330,306.2 L335,308 L340,309.4 L345,310.1 L350,309.9 L355,308.9 L360,307.2 L365,305.6 L370,304.6 L380,303 L381.7,302.4 L393.4,300.7 L405.1,299.2 L416.8,297.7 L426,297 L440.5,295.5 L455,293.8 L468,292.3" fill="none" stroke="#fff" stroke-opacity="0.3" stroke-width="3.8" stroke-linejoin="round"/>
<path d="M320.3,321.8 L468,321.4" fill="none" stroke="#35b546" stroke-width="1.65" stroke-linejoin="round"/>
<path d="M320.3,319 L342.2,317.6 L373,315.7 L393.4,315.3 L405.1,314.7 L416.8,313.9 L426,313 L447.7,310.9 L468,308.3" fill="none" stroke="#c9153e" stroke-width="1.65" stroke-linejoin="round"/>
<path d="M320.3,302.2 L325,304.2 L330,306.2 L335,308 L340,309.4 L345,310.1 L350,309.9 L355,308.9 L360,307.2 L365,305.6 L370,304.6 L380,303 L381.7,302.4 L393.4,300.7 L405.1,299.2 L416.8,297.7 L426,297 L440.5,295.5 L455,293.8 L468,292.3" fill="none" stroke="#104a87" stroke-width="1.65" stroke-linejoin="round"/>
<circle cx="340.52" cy="315.7" r="1.55" fill="#35b546" fill-opacity="0.45"/>
<circle cx="395.9" cy="233.1" r="1.55" fill="#104a87" fill-opacity="0.45"/>
<circle cx="433.5" cy="318.1" r="1.55" fill="#c9153e" fill-opacity="0.45"/>
<circle cx="390.34" cy="321.3" r="1.55" fill="#35b546" fill-opacity="0.45"/>
<circle cx="395.6" cy="312.92" r="1.55" fill="#104a87" fill-opacity="0.45"/>
<circle cx="320.2" cy="314.72" r="1.55" fill="#104a87" fill-opacity="0.45"/>
<circle cx="426.61" cy="310.86" r="1.55" fill="#c9153e" fill-opacity="0.45"/>
<circle cx="396.39" cy="316.93" r="1.55" fill="#104a87" fill-opacity="0.45"/>
<circle cx="449.05" cy="321.57" r="1.55" fill="#35b546" fill-opacity="0.45"/>
<circle cx="375.48" cy="314.77" r="1.55" fill="#c9153e" fill-opacity="0.45"/>
<circle cx="335.43" cy="319.14" r="1.55" fill="#c9153e" fill-opacity="0.45"/>
<circle cx="389.51" cy="317.32" r="1.55" fill="#35b546" fill-opacity="0.45"/>
<circle cx="320.47" cy="254.4" r="1.55" fill="#104a87" fill-opacity="0.45"/>
<circle cx="369.46" cy="320.93" r="1.55" fill="#35b546" fill-opacity="0.45"/>
<circle cx="448.82" cy="321.11" r="1.55" fill="#35b546" fill-opacity="0.45"/>
<circle cx="395.9" cy="283.5" r="1.55" fill="#c9153e" fill-opacity="0.45"/>
<circle cx="335.2" cy="314.1" r="1.55" fill="#c9153e" fill-opacity="0.45"/>
<circle cx="320.1" cy="288.2" r="1.55" fill="#104a87" fill-opacity="0.45"/>
<circle cx="432.35" cy="322.03" r="1.55" fill="#104a87" fill-opacity="0.45"/>
<circle cx="320.4" cy="297.6" r="1.55" fill="#104a87" fill-opacity="0.45"/>
<circle cx="346.9" cy="308.9" r="1.55" fill="#104a87" fill-opacity="0.45"/>
<circle cx="432.36" cy="315.64" r="1.55" fill="#c9153e" fill-opacity="0.45"/>
<circle cx="399.8" cy="316.5" r="1.55" fill="#c9153e" fill-opacity="0.45"/>
<circle cx="461.26" cy="321.11" r="1.55" fill="#35b546" fill-opacity="0.45"/>
<circle cx="332.9" cy="310" r="1.55" fill="#c9153e" fill-opacity="0.45"/>
<circle cx="365.27" cy="318.62" r="1.55" fill="#104a87" fill-opacity="0.45"/>
<circle cx="320.17" cy="321.71" r="1.55" fill="#35b546" fill-opacity="0.45"/>
<circle cx="442.24" cy="322.4" r="1.55" fill="#1e0050" fill-opacity="0.45"/>
<circle cx="343" cy="321.6" r="1.55" fill="#35b546" fill-opacity="0.45"/>
<circle cx="460.5" cy="313" r="1.55" fill="#c9153e" fill-opacity="0.45"/>
<circle cx="355.6" cy="315.68" r="1.55" fill="#104a87" fill-opacity="0.45"/>
<circle cx="327.17" cy="317.84" r="1.55" fill="#104a87" fill-opacity="0.45"/>
<circle cx="385.33" cy="317.58" r="1.55" fill="#1e0050" fill-opacity="0.45"/>
<circle cx="426.8" cy="258.3" r="1.55" fill="#104a87" fill-opacity="0.45"/>
<circle cx="427.87" cy="317.51" r="1.55" fill="#35b546" fill-opacity="0.45"/>
<circle cx="369.5" cy="263.5" r="1.55" fill="#104a87" fill-opacity="0.45"/>
<circle cx="320.18" cy="322.2" r="1.55" fill="#35b546" fill-opacity="0.45"/>
<circle cx="320.54" cy="310.98" r="1.55" fill="#104a87" fill-opacity="0.45"/>
<circle cx="386.4" cy="319.4" r="1.55" fill="#1e0050" fill-opacity="0.45"/>
<circle cx="330.13" cy="316.42" r="1.55" fill="#c9153e" fill-opacity="0.45"/>
<circle cx="453.7" cy="316.31" r="1.55" fill="#104a87" fill-opacity="0.45"/>
<circle cx="450.9" cy="317.8" r="1.55" fill="#35b546" fill-opacity="0.45"/>
<circle cx="365.3" cy="314.51" r="1.55" fill="#104a87" fill-opacity="0.45"/>
<circle cx="442.65" cy="321.29" r="1.55" fill="#35b546" fill-opacity="0.45"/>
<circle cx="352.62" cy="321.93" r="1.55" fill="#35b546" fill-opacity="0.45"/>
<circle cx="343.21" cy="321.67" r="1.55" fill="#35b546" fill-opacity="0.45"/>
<circle cx="341.1" cy="305.9" r="1.55" fill="#104a87" fill-opacity="0.45"/>
<circle cx="461.4" cy="322.4" r="1.55" fill="#104a87" fill-opacity="0.45"/>
<circle cx="335.2" cy="297.2" r="1.55" fill="#104a87" fill-opacity="0.45"/>
<circle cx="362.69" cy="321.53" r="1.55" fill="#c9153e" fill-opacity="0.45"/>
<circle cx="333.1" cy="318.8" r="1.55" fill="#1e0050" fill-opacity="0.45"/>
<circle cx="432.45" cy="322.5" r="1.55" fill="#35b546" fill-opacity="0.45"/>
<circle cx="389.3" cy="313.9" r="1.55" fill="#c9153e" fill-opacity="0.45"/>
<circle cx="389.52" cy="320.03" r="1.55" fill="#c9153e" fill-opacity="0.45"/>
<circle cx="341.1" cy="312.4" r="1.55" fill="#c9153e" fill-opacity="0.45"/>
<circle cx="324.55" cy="313.87" r="1.55" fill="#104a87" fill-opacity="0.45"/>
<circle cx="372" cy="312.4" r="1.55" fill="#c9153e" fill-opacity="0.45"/>
<circle cx="372.3" cy="303.6" r="1.55" fill="#104a87" fill-opacity="0.45"/>
<circle cx="353.4" cy="314.7" r="1.55" fill="#c9153e" fill-opacity="0.45"/>
<circle cx="385.57" cy="321.74" r="1.55" fill="#35b546" fill-opacity="0.45"/>
<circle cx="340.44" cy="318.45" r="1.55" fill="#104a87" fill-opacity="0.45"/>
<circle cx="320.09" cy="303.2" r="1.55" fill="#c9153e" fill-opacity="0.45"/>
<circle cx="333.72" cy="319.21" r="1.55" fill="#104a87" fill-opacity="0.45"/>
<circle cx="419.4" cy="307.3" r="1.55" fill="#104a87" fill-opacity="0.45"/>
<circle cx="454.31" cy="314.29" r="1.55" fill="#35b546" fill-opacity="0.45"/>
<circle cx="324.94" cy="317.9" r="1.55" fill="#c9153e" fill-opacity="0.45"/>
<circle cx="442.76" cy="317.28" r="1.55" fill="#104a87" fill-opacity="0.45"/>
<circle cx="347.79" cy="319.07" r="1.55" fill="#104a87" fill-opacity="0.45"/>
<circle cx="327.84" cy="311.33" r="1.55" fill="#104a87" fill-opacity="0.45"/>
<circle cx="398.6" cy="274.6" r="1.55" fill="#104a87" fill-opacity="0.45"/>
<circle cx="433.5" cy="314.5" r="1.55" fill="#c9153e" fill-opacity="0.45"/>
<circle cx="395.1" cy="310.6" r="1.55" fill="#104a87" fill-opacity="0.45"/>
<circle cx="367.4" cy="294" r="1.55" fill="#104a87" fill-opacity="0.45"/>
<circle cx="386" cy="321.6" r="1.55" fill="#35b546" fill-opacity="0.45"/>
<circle cx="351.8" cy="321.86" r="1.55" fill="#35b546" fill-opacity="0.45"/>
<circle cx="320.08" cy="317" r="1.55" fill="#c9153e" fill-opacity="0.45"/>
<circle cx="386.1" cy="309.4" r="1.55" fill="#104a87" fill-opacity="0.45"/>
<circle cx="331.35" cy="316.54" r="1.55" fill="#104a87" fill-opacity="0.45"/>
<circle cx="419.7" cy="318.2" r="1.55" fill="#c9153e" fill-opacity="0.45"/>
<circle cx="320.48" cy="318.5" r="1.55" fill="#c9153e" fill-opacity="0.45"/>
<circle cx="330.57" cy="316.62" r="1.55" fill="#104a87" fill-opacity="0.45"/>
<circle cx="361.91" cy="319.14" r="1.55" fill="#104a87" fill-opacity="0.45"/>
<circle cx="328.69" cy="321.5" r="1.55" fill="#35b546" fill-opacity="0.45"/>
<circle cx="361.4" cy="320.23" r="1.55" fill="#1e0050" fill-opacity="0.45"/>
<circle cx="343.2" cy="315.3" r="1.55" fill="#104a87" fill-opacity="0.45"/>
<circle cx="320.51" cy="316" r="1.55" fill="#c9153e" fill-opacity="0.45"/>
<circle cx="467.36" cy="321.08" r="1.55" fill="#35b546" fill-opacity="0.45"/>
<circle cx="354.48" cy="318.63" r="1.55" fill="#104a87" fill-opacity="0.45"/>
<circle cx="454" cy="321.6" r="1.55" fill="#35b546" fill-opacity="0.45"/>
<circle cx="352.78" cy="314.21" r="1.55" fill="#c9153e" fill-opacity="0.45"/>
<circle cx="373" cy="321.6" r="1.55" fill="#35b546" fill-opacity="0.45"/>
<circle cx="399.1" cy="320.43" r="1.55" fill="#c9153e" fill-opacity="0.45"/>
<circle cx="454.3" cy="296.7" r="1.55" fill="#c9153e" fill-opacity="0.45"/>
<circle cx="341.1" cy="301.5" r="1.55" fill="#104a87" fill-opacity="0.45"/>
<circle cx="441.56" cy="310.85" r="1.55" fill="#c9153e" fill-opacity="0.45"/>
<circle cx="351.7" cy="320.65" r="1.55" fill="#104a87" fill-opacity="0.45"/>
<circle cx="369.32" cy="321.17" r="1.55" fill="#35b546" fill-opacity="0.45"/>
<circle cx="322" cy="321.6" r="1.55" fill="#35b546" fill-opacity="0.45"/>
<circle cx="341.8" cy="232.8" r="1.55" fill="#104a87" fill-opacity="0.45"/>
<circle cx="335.68" cy="321.25" r="1.55" fill="#35b546" fill-opacity="0.45"/>
<circle cx="400" cy="321.6" r="1.55" fill="#35b546" fill-opacity="0.45"/>
<circle cx="320.13" cy="296" r="1.55" fill="#104a87" fill-opacity="0.45"/>
<circle cx="370.26" cy="321.82" r="1.55" fill="#35b546" fill-opacity="0.45"/>
<circle cx="419.2" cy="310.37" r="1.55" fill="#104a87" fill-opacity="0.45"/>
<circle cx="393.4" cy="292.5" r="1.55" fill="#104a87" fill-opacity="0.45"/>
<circle cx="320.21" cy="316.63" r="1.55" fill="#c9153e" fill-opacity="0.45"/>
<circle cx="442" cy="312.6" r="1.55" fill="#104a87" fill-opacity="0.45"/>
<circle cx="320.53" cy="313.28" r="1.55" fill="#104a87" fill-opacity="0.45"/>
<circle cx="327.63" cy="317.5" r="1.55" fill="#c9153e" fill-opacity="0.45"/>
<circle cx="328.07" cy="315.6" r="1.55" fill="#35b546" fill-opacity="0.45"/>
<circle cx="442" cy="298.6" r="1.55" fill="#c9153e" fill-opacity="0.45"/>
<circle cx="320.23" cy="315.63" r="1.55" fill="#c9153e" fill-opacity="0.45"/>
<circle cx="390.22" cy="322.4" r="1.55" fill="#1e0050" fill-opacity="0.45"/>
<circle cx="332" cy="291.3" r="1.55" fill="#104a87" fill-opacity="0.45"/>
<circle cx="396.18" cy="321.63" r="1.55" fill="#35b546" fill-opacity="0.45"/>
<circle cx="332" cy="321.6" r="1.55" fill="#35b546" fill-opacity="0.45"/>
<circle cx="396" cy="301.3" r="1.55" fill="#104a87" fill-opacity="0.45"/>
<circle cx="397" cy="266" r="1.55" fill="#104a87" fill-opacity="0.45"/>
<circle cx="340.34" cy="314.46" r="1.55" fill="#c9153e" fill-opacity="0.45"/>
<circle cx="332.19" cy="322.4" r="1.55" fill="#c9153e" fill-opacity="0.45"/>
<circle cx="369.95" cy="314.34" r="1.55" fill="#c9153e" fill-opacity="0.45"/>
<circle cx="320.43" cy="310.21" r="1.55" fill="#104a87" fill-opacity="0.45"/>
<circle cx="396" cy="296.6" r="1.55" fill="#104a87" fill-opacity="0.45"/>
<circle cx="460.63" cy="321.27" r="1.55" fill="#35b546" fill-opacity="0.45"/>
<circle cx="343.71" cy="322.4" r="1.55" fill="#104a87" fill-opacity="0.45"/>
<circle cx="410.11" cy="321.47" r="1.55" fill="#35b546" fill-opacity="0.45"/>
<circle cx="346.35" cy="321.93" r="1.55" fill="#35b546" fill-opacity="0.45"/>
<circle cx="454.32" cy="318.94" r="1.55" fill="#104a87" fill-opacity="0.45"/>
<circle cx="441.82" cy="321.87" r="1.55" fill="#35b546" fill-opacity="0.45"/>
<circle cx="331.76" cy="321.71" r="1.55" fill="#35b546" fill-opacity="0.45"/>
<circle cx="362.2" cy="320.94" r="1.55" fill="#104a87" fill-opacity="0.45"/>
<circle cx="410.67" cy="321.47" r="1.55" fill="#35b546" fill-opacity="0.45"/>
<circle cx="390.5" cy="303" r="1.55" fill="#104a87" fill-opacity="0.45"/>
<circle cx="366.2" cy="303" r="1.55" fill="#104a87" fill-opacity="0.45"/>
<circle cx="343.18" cy="316.31" r="1.55" fill="#104a87" fill-opacity="0.45"/>
<circle cx="386.28" cy="312.87" r="1.55" fill="#c9153e" fill-opacity="0.45"/>
<circle cx="467.33" cy="311.76" r="1.55" fill="#35b546" fill-opacity="0.45"/>
<circle cx="400.51" cy="321.16" r="1.55" fill="#35b546" fill-opacity="0.45"/>
<circle cx="460" cy="321.6" r="1.55" fill="#35b546" fill-opacity="0.45"/>
<circle cx="330" cy="313.5" r="1.55" fill="#c9153e" fill-opacity="0.45"/>
<circle cx="448.41" cy="311.55" r="1.55" fill="#104a87" fill-opacity="0.45"/>
<circle cx="396.52" cy="321.49" r="1.55" fill="#35b546" fill-opacity="0.45"/>
<circle cx="451.3" cy="284.2" r="1.55" fill="#104a87" fill-opacity="0.45"/>
<circle cx="325.16" cy="322.19" r="1.55" fill="#35b546" fill-opacity="0.45"/>
<circle cx="433.5" cy="293.2" r="1.55" fill="#104a87" fill-opacity="0.45"/>
<circle cx="378.8" cy="321.66" r="1.55" fill="#35b546" fill-opacity="0.45"/>
<circle cx="410.9" cy="318.8" r="1.55" fill="#c9153e" fill-opacity="0.45"/>
<circle cx="449.2" cy="312.6" r="1.55" fill="#104a87" fill-opacity="0.45"/>
<circle cx="427" cy="321.6" r="1.55" fill="#35b546" fill-opacity="0.45"/>
<circle cx="336.54" cy="315.7" r="1.55" fill="#c9153e" fill-opacity="0.45"/>
<circle cx="427.3" cy="318.2" r="1.55" fill="#104a87" fill-opacity="0.45"/>
<circle cx="373.5" cy="308.9" r="1.55" fill="#c9153e" fill-opacity="0.45"/>
<circle cx="354.57" cy="321.96" r="1.55" fill="#35b546" fill-opacity="0.45"/>
<circle cx="320.1" cy="317.26" r="1.55" fill="#c9153e" fill-opacity="0.45"/>
<circle cx="374.7" cy="319.4" r="1.55" fill="#104a87" fill-opacity="0.45"/>
<circle cx="320.39" cy="286.4" r="1.55" fill="#104a87" fill-opacity="0.45"/>
<circle cx="320.1" cy="319.29" r="1.55" fill="#c9153e" fill-opacity="0.45"/>
<circle cx="362.51" cy="321.98" r="1.55" fill="#35b546" fill-opacity="0.45"/>
<circle cx="454.7" cy="312.6" r="1.55" fill="#104a87" fill-opacity="0.45"/>
<circle cx="320.55" cy="317.92" r="1.55" fill="#1e0050" fill-opacity="0.45"/>
<circle cx="410.9" cy="306.5" r="1.55" fill="#104a87" fill-opacity="0.45"/>
<circle cx="429.6" cy="293.7" r="1.55" fill="#c9153e" fill-opacity="0.45"/>
<circle cx="453.5" cy="314.5" r="1.55" fill="#c9153e" fill-opacity="0.45"/>
<circle cx="355.37" cy="315.66" r="1.55" fill="#104a87" fill-opacity="0.45"/>
<circle cx="320.46" cy="318.79" r="1.55" fill="#c9153e" fill-opacity="0.45"/>
<circle cx="366.4" cy="321.7" r="1.55" fill="#35b546" fill-opacity="0.45"/>
<circle cx="374.61" cy="314.02" r="1.55" fill="#c9153e" fill-opacity="0.45"/>
<circle cx="320.32" cy="315" r="1.55" fill="#c9153e" fill-opacity="0.45"/>
<circle cx="320.12" cy="319.97" r="1.55" fill="#c9153e" fill-opacity="0.45"/>
<circle cx="418" cy="316.5" r="1.55" fill="#c9153e" fill-opacity="0.45"/>
<circle cx="360" cy="321.6" r="1.55" fill="#35b546" fill-opacity="0.45"/>
<circle cx="390" cy="321.6" r="1.55" fill="#35b546" fill-opacity="0.45"/>
<circle cx="366.7" cy="267.6" r="1.55" fill="#104a87" fill-opacity="0.45"/>
<circle cx="344.3" cy="295.6" r="1.55" fill="#104a87" fill-opacity="0.45"/>
<circle cx="399.62" cy="318.44" r="1.55" fill="#1e0050" fill-opacity="0.45"/>
<circle cx="378.05" cy="313.67" r="1.55" fill="#104a87" fill-opacity="0.45"/>
<circle cx="411" cy="321.6" r="1.55" fill="#35b546" fill-opacity="0.45"/>
<circle cx="320.43" cy="294.5" r="1.55" fill="#104a87" fill-opacity="0.45"/>
<circle cx="427.53" cy="321.63" r="1.55" fill="#35b546" fill-opacity="0.45"/>
<circle cx="332.6" cy="303" r="1.55" fill="#104a87" fill-opacity="0.45"/>
<circle cx="375.81" cy="322.07" r="1.55" fill="#35b546" fill-opacity="0.45"/>
<circle cx="320.39" cy="315.5" r="1.55" fill="#1e0050" fill-opacity="0.45"/>
<circle cx="378.42" cy="315.75" r="1.55" fill="#104a87" fill-opacity="0.45"/>
<circle cx="343.59" cy="312.62" r="1.55" fill="#c9153e" fill-opacity="0.45"/>
<circle cx="412.7" cy="317" r="1.55" fill="#104a87" fill-opacity="0.45"/>
<circle cx="347.6" cy="320.89" r="1.55" fill="#35b546" fill-opacity="0.45"/>
<circle cx="320.48" cy="311.6" r="1.55" fill="#104a87" fill-opacity="0.45"/>
<circle cx="320.41" cy="310.3" r="1.55" fill="#104a87" fill-opacity="0.45"/>
<circle cx="333.83" cy="321.63" r="1.55" fill="#35b546" fill-opacity="0.45"/>
<circle cx="353.4" cy="283.1" r="1.55" fill="#104a87" fill-opacity="0.45"/>
<circle cx="320.54" cy="314.91" r="1.55" fill="#1e0050" fill-opacity="0.45"/>
<circle cx="467.7" cy="321.26" r="1.55" fill="#35b546" fill-opacity="0.45"/>
<circle cx="352.8" cy="304.2" r="1.55" fill="#104a87" fill-opacity="0.45"/>
<circle cx="320.15" cy="284.6" r="1.55" fill="#104a87" fill-opacity="0.45"/>
<circle cx="400.53" cy="320.38" r="1.55" fill="#104a87" fill-opacity="0.45"/>
<circle cx="335" cy="321.6" r="1.55" fill="#35b546" fill-opacity="0.45"/>
<circle cx="320.31" cy="312.9" r="1.55" fill="#104a87" fill-opacity="0.45"/>
<circle cx="460.82" cy="314.2" r="1.55" fill="#1e0050" fill-opacity="0.45"/>
<circle cx="344.11" cy="319.01" r="1.55" fill="#c9153e" fill-opacity="0.45"/>
<circle cx="354.64" cy="322.4" r="1.55" fill="#104a87" fill-opacity="0.45"/>
<circle cx="377.66" cy="321.9" r="1.55" fill="#35b546" fill-opacity="0.45"/>
<circle cx="378" cy="321.6" r="1.55" fill="#35b546" fill-opacity="0.45"/>
<circle cx="410.68" cy="312.78" r="1.55" fill="#c9153e" fill-opacity="0.45"/>
<circle cx="340.55" cy="322.4" r="1.55" fill="#104a87" fill-opacity="0.45"/>
<circle cx="340.4" cy="322.02" r="1.55" fill="#35b546" fill-opacity="0.45"/>
<circle cx="362.7" cy="319.75" r="1.55" fill="#104a87" fill-opacity="0.45"/>
<circle cx="442" cy="321.6" r="1.55" fill="#35b546" fill-opacity="0.45"/>
<circle cx="398.1" cy="313" r="1.55" fill="#104a87" fill-opacity="0.45"/>
<circle cx="336.27" cy="315.01" r="1.55" fill="#c9153e" fill-opacity="0.45"/>
<circle cx="320.45" cy="318" r="1.55" fill="#c9153e" fill-opacity="0.45"/>
<circle cx="362.2" cy="321.77" r="1.55" fill="#35b546" fill-opacity="0.45"/>
<circle cx="410.56" cy="320.41" r="1.55" fill="#c9153e" fill-opacity="0.45"/>
<circle cx="320.27" cy="314" r="1.55" fill="#104a87" fill-opacity="0.45"/>
<circle cx="347.57" cy="315.27" r="1.55" fill="#c9153e" fill-opacity="0.45"/>
<circle cx="328.71" cy="321.4" r="1.55" fill="#35b546" fill-opacity="0.45"/>
<circle cx="330" cy="321.6" r="1.55" fill="#35b546" fill-opacity="0.45"/>
<circle cx="432.88" cy="322.29" r="1.55" fill="#35b546" fill-opacity="0.45"/>
<circle cx="341.88" cy="314.1" r="1.55" fill="#c9153e" fill-opacity="0.45"/>
<circle cx="378.14" cy="318.16" r="1.55" fill="#104a87" fill-opacity="0.45"/>
<circle cx="449.14" cy="313.26" r="1.55" fill="#1e0050" fill-opacity="0.45"/>
<circle cx="433.5" cy="275.5" r="1.55" fill="#104a87" fill-opacity="0.45"/>
<circle cx="366.63" cy="322.42" r="1.55" fill="#35b546" fill-opacity="0.45"/>
<circle cx="385.77" cy="310.57" r="1.55" fill="#c9153e" fill-opacity="0.45"/>
<circle cx="347.45" cy="319.31" r="1.55" fill="#104a87" fill-opacity="0.45"/>
<circle cx="429.6" cy="309.2" r="1.55" fill="#104a87" fill-opacity="0.45"/>
<circle cx="375.3" cy="316.37" r="1.55" fill="#104a87" fill-opacity="0.45"/>
<circle cx="396" cy="318.5" r="1.55" fill="#c9153e" fill-opacity="0.45"/>
<circle cx="418.29" cy="321.18" r="1.55" fill="#35b546" fill-opacity="0.45"/>
<circle cx="353" cy="321.6" r="1.55" fill="#35b546" fill-opacity="0.45"/>
<circle cx="354.3" cy="319.73" r="1.55" fill="#c9153e" fill-opacity="0.45"/>
<circle cx="369.56" cy="309.4" r="1.55" fill="#c9153e" fill-opacity="0.45"/>
<circle cx="367.4" cy="308.5" r="1.55" fill="#c9153e" fill-opacity="0.45"/>
<circle cx="396" cy="321.6" r="1.55" fill="#35b546" fill-opacity="0.45"/>
<circle cx="320.51" cy="319.3" r="1.55" fill="#c9153e" fill-opacity="0.45"/>
<circle cx="320.14" cy="260.8" r="1.55" fill="#104a87" fill-opacity="0.45"/>
<circle cx="359.2" cy="311.8" r="1.55" fill="#c9153e" fill-opacity="0.45"/>
<circle cx="427.18" cy="316.16" r="1.55" fill="#104a87" fill-opacity="0.45"/>
<circle cx="419.61" cy="321.83" r="1.55" fill="#35b546" fill-opacity="0.45"/>
<circle cx="449" cy="321.6" r="1.55" fill="#35b546" fill-opacity="0.45"/>
<circle cx="417.4" cy="295.2" r="1.55" fill="#104a87" fill-opacity="0.45"/>
<circle cx="331.47" cy="311.86" r="1.55" fill="#c9153e" fill-opacity="0.45"/>
<circle cx="463" cy="313.8" r="1.55" fill="#c9153e" fill-opacity="0.45"/>
<circle cx="320.41" cy="205.5" r="1.55" fill="#104a87" fill-opacity="0.45"/>
<circle cx="364.5" cy="302.4" r="1.55" fill="#104a87" fill-opacity="0.45"/>
<circle cx="460" cy="275.5" r="1.55" fill="#104a87" fill-opacity="0.45"/>
<circle cx="320.3" cy="317.5" r="1.55" fill="#1e0050" fill-opacity="0.45"/>
<circle cx="332.9" cy="313.75" r="1.55" fill="#c9153e" fill-opacity="0.45"/>
<circle cx="395.1" cy="313" r="1.55" fill="#104a87" fill-opacity="0.45"/>
<circle cx="336.37" cy="316.97" r="1.55" fill="#104a87" fill-opacity="0.45"/>
<circle cx="449.03" cy="319.04" r="1.55" fill="#104a87" fill-opacity="0.45"/>
<circle cx="366.83" cy="313.32" r="1.55" fill="#c9153e" fill-opacity="0.45"/>
<circle cx="401" cy="292.5" r="1.55" fill="#104a87" fill-opacity="0.45"/>
<circle cx="320.18" cy="318.89" r="1.55" fill="#c9153e" fill-opacity="0.45"/>
<circle cx="364" cy="321.6" r="1.55" fill="#35b546" fill-opacity="0.45"/>
<circle cx="468" cy="316.7" r="1.55" fill="#1e0050" fill-opacity="0.45"/>
<circle cx="330.58" cy="312.33" r="1.55" fill="#c9153e" fill-opacity="0.45"/>
<circle cx="324.77" cy="315.46" r="1.55" fill="#c9153e" fill-opacity="0.45"/>
<circle cx="336.53" cy="322.4" r="1.55" fill="#104a87" fill-opacity="0.45"/>
<circle cx="454.28" cy="321.56" r="1.55" fill="#35b546" fill-opacity="0.45"/>
<circle cx="386.61" cy="321.42" r="1.55" fill="#35b546" fill-opacity="0.45"/>
<circle cx="365.97" cy="320.43" r="1.55" fill="#c9153e" fill-opacity="0.45"/>
<circle cx="433" cy="321.6" r="1.55" fill="#35b546" fill-opacity="0.45"/>
<circle cx="324.91" cy="314.36" r="1.55" fill="#c9153e" fill-opacity="0.45"/>
<circle cx="411.51" cy="319.93" r="1.55" fill="#c9153e" fill-opacity="0.45"/>
<circle cx="343.25" cy="321.23" r="1.55" fill="#35b546" fill-opacity="0.45"/>
<circle cx="396" cy="316.5" r="1.55" fill="#c9153e" fill-opacity="0.45"/>
<circle cx="395.88" cy="315.01" r="1.55" fill="#1e0050" fill-opacity="0.45"/>
<circle cx="366.74" cy="316.79" r="1.55" fill="#104a87" fill-opacity="0.45"/>
<circle cx="389.3" cy="297.7" r="1.55" fill="#104a87" fill-opacity="0.45"/>
<circle cx="320.37" cy="322.44" r="1.55" fill="#35b546" fill-opacity="0.45"/>
<circle cx="433.88" cy="318.13" r="1.55" fill="#c9153e" fill-opacity="0.45"/>
<circle cx="453.4" cy="322.49" r="1.55" fill="#35b546" fill-opacity="0.45"/>
<circle cx="396" cy="298.3" r="1.55" fill="#104a87" fill-opacity="0.45"/>
<circle cx="352.12" cy="314.82" r="1.55" fill="#1e0050" fill-opacity="0.45"/>
<circle cx="468.89" cy="322.05" r="1.55" fill="#104a87" fill-opacity="0.45"/>
<circle cx="442.7" cy="320.7" r="1.55" fill="#c9153e" fill-opacity="0.45"/>
<circle cx="453.5" cy="300.4" r="1.55" fill="#104a87" fill-opacity="0.45"/>
<circle cx="351.9" cy="315.88" r="1.55" fill="#c9153e" fill-opacity="0.45"/>
<circle cx="320.55" cy="282.8" r="1.55" fill="#104a87" fill-opacity="0.45"/>
<circle cx="354.29" cy="322.17" r="1.55" fill="#35b546" fill-opacity="0.45"/>
<circle cx="390.8" cy="319.4" r="1.55" fill="#1e0050" fill-opacity="0.45"/>
<circle cx="346.65" cy="317.35" r="1.55" fill="#104a87" fill-opacity="0.45"/>
<circle cx="378.4" cy="304.8" r="1.55" fill="#104a87" fill-opacity="0.45"/>
<circle cx="324.15" cy="321.99" r="1.55" fill="#35b546" fill-opacity="0.45"/>
<circle cx="363.9" cy="313.5" r="1.55" fill="#c9153e" fill-opacity="0.45"/>
<circle cx="332.47" cy="322.17" r="1.55" fill="#35b546" fill-opacity="0.45"/>
<circle cx="328.73" cy="319.67" r="1.55" fill="#c9153e" fill-opacity="0.45"/>
<circle cx="419.81" cy="321.75" r="1.55" fill="#c9153e" fill-opacity="0.45"/>
<circle cx="320.21" cy="313.59" r="1.55" fill="#c9153e" fill-opacity="0.45"/>
<circle cx="347.8" cy="315.88" r="1.55" fill="#c9153e" fill-opacity="0.45"/>
<circle cx="370.48" cy="318.87" r="1.55" fill="#104a87" fill-opacity="0.45"/>
<circle cx="449.2" cy="316" r="1.55" fill="#c9153e" fill-opacity="0.45"/>
<circle cx="374.36" cy="321.92" r="1.55" fill="#35b546" fill-opacity="0.45"/>
<circle cx="335.1" cy="321.96" r="1.55" fill="#35b546" fill-opacity="0.45"/>
<circle cx="419.21" cy="317.58" r="1.55" fill="#104a87" fill-opacity="0.45"/>
<circle cx="369.79" cy="321.12" r="1.55" fill="#104a87" fill-opacity="0.45"/>
<circle cx="367" cy="321.6" r="1.55" fill="#35b546" fill-opacity="0.45"/>
<circle cx="320.13" cy="313.9" r="1.55" fill="#c9153e" fill-opacity="0.45"/>
<circle cx="373.5" cy="227.3" r="1.55" fill="#104a87" fill-opacity="0.45"/>
<circle cx="448.4" cy="249.4" r="1.55" fill="#104a87" fill-opacity="0.45"/>
<circle cx="320.43" cy="303.75" r="1.55" fill="#c9153e" fill-opacity="0.45"/>
<circle cx="351.51" cy="313.93" r="1.55" fill="#c9153e" fill-opacity="0.45"/>
<circle cx="366.8" cy="298.9" r="1.55" fill="#c9153e" fill-opacity="0.45"/>
<circle cx="448.4" cy="286.7" r="1.55" fill="#c9153e" fill-opacity="0.45"/>
<circle cx="350" cy="321.6" r="1.55" fill="#35b546" fill-opacity="0.45"/>
<circle cx="468.7" cy="315.53" r="1.55" fill="#c9153e" fill-opacity="0.45"/>
<circle cx="320.13" cy="320" r="1.55" fill="#c9153e" fill-opacity="0.45"/>
<circle cx="399.38" cy="321.4" r="1.55" fill="#35b546" fill-opacity="0.45"/>
<circle cx="460.79" cy="315.72" r="1.55" fill="#35b546" fill-opacity="0.45"/>
<circle cx="400.4" cy="319.4" r="1.55" fill="#c9153e" fill-opacity="0.45"/>
<circle cx="330.54" cy="322.39" r="1.55" fill="#35b546" fill-opacity="0.45"/>
<circle cx="330.2" cy="243.2" r="1.55" fill="#104a87" fill-opacity="0.45"/>
<circle cx="320.32" cy="321.5" r="1.55" fill="#35b546" fill-opacity="0.45"/>
<circle cx="390.88" cy="321.49" r="1.55" fill="#35b546" fill-opacity="0.45"/>
<circle cx="344.8" cy="316.93" r="1.55" fill="#c9153e" fill-opacity="0.45"/>
<circle cx="329.4" cy="283.7" r="1.55" fill="#104a87" fill-opacity="0.45"/>
<circle cx="462.6" cy="272.4" r="1.55" fill="#104a87" fill-opacity="0.45"/>
<circle cx="418" cy="321.6" r="1.55" fill="#35b546" fill-opacity="0.45"/>
<circle cx="377" cy="308.9" r="1.55" fill="#104a87" fill-opacity="0.45"/>
<circle cx="427.4" cy="318.1" r="1.55" fill="#1e0050" fill-opacity="0.45"/>
<circle cx="341.89" cy="321.33" r="1.55" fill="#35b546" fill-opacity="0.45"/>
<circle cx="325.67" cy="313.95" r="1.55" fill="#c9153e" fill-opacity="0.45"/>
<circle cx="427.17" cy="321.99" r="1.55" fill="#35b546" fill-opacity="0.45"/>
<circle cx="341" cy="321.6" r="1.55" fill="#35b546" fill-opacity="0.45"/>
<circle cx="468" cy="321.6" r="1.55" fill="#35b546" fill-opacity="0.45"/>
<circle cx="332.22" cy="313.83" r="1.55" fill="#104a87" fill-opacity="0.45"/>
<g transform="translate(271,180)">
<path d="M42,19.5 V147.45 H204.8" fill="none" stroke="#1a1a1a" stroke-width="1.15"/>
<path d="M39,141.5 H42" stroke="#1a1a1a" stroke-width="1.1"/>
<text x="36.3" y="144.6" font-size="9.2" text-anchor="end" textLength="4.34" lengthAdjust="spacingAndGlyphs" fill="#222" stroke="#222" stroke-width="0.12">0</text>
<path d="M39,112 H42" stroke="#1a1a1a" stroke-width="1.1"/>
<text x="36.3" y="115.1" font-size="9.2" text-anchor="end" textLength="4.34" lengthAdjust="spacingAndGlyphs" fill="#222" stroke="#222" stroke-width="0.12">1</text>
<path d="M39,82.5 H42" stroke="#1a1a1a" stroke-width="1.1"/>
<text x="36.3" y="85.6" font-size="9.2" text-anchor="end" textLength="4.34" lengthAdjust="spacingAndGlyphs" fill="#222" stroke="#222" stroke-width="0.12">2</text>
<path d="M39,53 H42" stroke="#1a1a1a" stroke-width="1.1"/>
<text x="36.3" y="56.1" font-size="9.2" text-anchor="end" textLength="4.34" lengthAdjust="spacingAndGlyphs" fill="#222" stroke="#222" stroke-width="0.12">3</text>
<path d="M39,23.5 H42" stroke="#1a1a1a" stroke-width="1.1"/>
<text x="36.3" y="26.6" font-size="9.2" text-anchor="end" textLength="4.34" lengthAdjust="spacingAndGlyphs" fill="#222" stroke="#222" stroke-width="0.12">4</text>
<path d="M49.4,147.3 V150.6" stroke="#1a1a1a" stroke-width="1.1"/>
<text x="49.4" y="159.3" font-size="9.2" text-anchor="middle" textLength="4.34" lengthAdjust="spacingAndGlyphs" fill="#222" stroke="#222" stroke-width="0.12">0</text>
<path d="M91.06,147.3 V150.6" stroke="#1a1a1a" stroke-width="1.1"/>
<text x="91.06" y="159.3" font-size="9.2" text-anchor="middle" textLength="8.68" lengthAdjust="spacingAndGlyphs" fill="#222" stroke="#222" stroke-width="0.12">50</text>
<path d="M132.73,147.3 V150.6" stroke="#1a1a1a" stroke-width="1.1"/>
<text x="132.73" y="159.3" font-size="9.2" text-anchor="middle" textLength="13.01" lengthAdjust="spacingAndGlyphs" fill="#222" stroke="#222" stroke-width="0.12">100</text>
<path d="M174.4,147.3 V150.6" stroke="#1a1a1a" stroke-width="1.1"/>
<text x="174.4" y="159.3" font-size="9.2" text-anchor="middle" textLength="13.01" lengthAdjust="spacingAndGlyphs" fill="#222" stroke="#222" stroke-width="0.12">150</text>
<text x="123.2" y="172.9" font-size="9.4" stroke="#000" stroke-width="0.3" text-anchor="middle" textLength="10.2" lengthAdjust="spacingAndGlyphs" fill="#000">DPI</text>
<g transform="translate(26.7,0) rotate(-90)" fill="#000" stroke="#000" stroke-width="0.3" font-size="8.4"><text x="-111.3" y="0" textLength="9.3" lengthAdjust="spacingAndGlyphs">Cell</text><text x="-99.3" y="0" textLength="15.3" lengthAdjust="spacingAndGlyphs">count</text><text x="-81.3" y="0" textLength="13.3" lengthAdjust="spacingAndGlyphs">(×10</text><text x="-67.8" y="-4.6" font-size="5.8" textLength="3" lengthAdjust="spacingAndGlyphs" stroke-width="0.2">9</text><text x="-65" y="0" textLength="9.3" lengthAdjust="spacingAndGlyphs">/L)</text></g>
<text x="123.3" y="13.35" font-size="9" text-anchor="middle" fill="#000" stroke="#000" stroke-width="0.15">T cells</text>
<text x="190.5" y="26.3" font-size="7.5" fill="#000" stroke="#000" stroke-width="0.12">Cell population</text>
<rect x="191.1" y="31.3" width="8" height="5.2" fill="#c9153e" fill-opacity="0.1"/>
<path d="M191.1,33.9 h8" stroke="#c9153e" stroke-width="1.6"/>
<circle cx="195.1" cy="33.9" r="1.5" fill="#c9153e" fill-opacity="0.5"/>
<text x="202" y="36.4" font-size="6.9" fill="#000" stroke="#000" stroke-width="0.1">CD4<tspan dy="-2.5" font-size="4.8">+</tspan><tspan dy="2.5"> T cells</tspan></text>
<rect x="191.1" y="41.95" width="8" height="5.2" fill="#104a87" fill-opacity="0.1"/>
<path d="M191.1,44.55 h8" stroke="#104a87" stroke-width="1.6"/>
<circle cx="195.1" cy="44.55" r="1.5" fill="#104a87" fill-opacity="0.5"/>
<text x="202" y="47.05" font-size="6.9" fill="#000" stroke="#000" stroke-width="0.1">CD8 T cells</text>
<rect x="191.1" y="52.6" width="8" height="5.2" fill="#35b546" fill-opacity="0.1"/>
<path d="M191.1,55.2 h8" stroke="#35b546" stroke-width="1.6"/>
<circle cx="195.1" cy="55.2" r="1.5" fill="#35b546" fill-opacity="0.5"/>
<text x="202" y="57.7" font-size="6.9" fill="#000" stroke="#000" stroke-width="0.1">NK T cells</text>
</g>
<path d="M49.6,491.1 L67,492.1 L79.8,489.8 L100,486 L126,482.3 L150,477 L164.5,473.4 L178.9,468.4 L197.6,461.5 L197.6,495.8 L178.9,487.2 L164.5,485.7 L150,485.7 L126,490.7 L100,492.9 L79.8,495.2 L49.6,497.4Z" fill="#104a87" fill-opacity="0.16"/>
<path d="M49.6,496.8 L100,495.4 L150,495.2 L178.9,491.5 L197.6,488.6 L197.6,494.4 L178.9,496 L150,498.2 L100,498.4 L49.6,499.8Z" fill="#c9153e" fill-opacity="0.16"/>
<path d="M49.6,500.2 L126,498.1 L178.9,493.8 L197.6,491.6 L197.6,495.8 L178.9,496.4 L126,500.1 L49.6,501.8Z" fill="#35b546" fill-opacity="0.16"/>
<path d="M49.6,499.6 L126,499.6 L178.9,497 L197.6,494.6 L197.6,498 L178.9,499.6 L126,501.6 L49.6,501.4Z" fill="#5e2a86" fill-opacity="0.16"/>
<path d="M49.6,500.5 L102,499.9 L126,500.6 L150,500.9 L178.9,498.3 L197,496.3" fill="none" stroke="#fff" stroke-opacity="0.3" stroke-width="3.8" stroke-linejoin="round"/>
<path d="M49.6,501 L100,499.7 L126,499.1 L150,497.7 L178.9,495.1 L197,493.7" fill="none" stroke="#fff" stroke-opacity="0.3" stroke-width="3.8" stroke-linejoin="round"/>
<path d="M49.6,498.3 L67.2,498.6 L100,496.9 L126,497.1 L150,496.7 L164.5,495.4 L178.9,493.7 L197,491.5" fill="none" stroke="#fff" stroke-opacity="0.3" stroke-width="3.8" stroke-linejoin="round"/>
<path d="M49.6,494 L60.9,494.3 L70,494.2 L79.8,492.8 L89.9,490.9 L100,489.2 L114.5,487.8 L126,486.4 L137.6,484.2 L149.1,481.8 L164.5,479.5 L178.9,477.5 L197,475.6" fill="none" stroke="#fff" stroke-opacity="0.3" stroke-width="3.8" stroke-linejoin="round"/>
<path d="M49.6,500.5 L102,499.9 L126,500.6 L150,500.9 L178.9,498.3 L197,496.3" fill="none" stroke="#5e2a86" stroke-width="1.65" stroke-linejoin="round"/>
<path d="M49.6,501 L100,499.7 L126,499.1 L150,497.7 L178.9,495.1 L197,493.7" fill="none" stroke="#35b546" stroke-width="1.65" stroke-linejoin="round"/>
<path d="M49.6,498.3 L67.2,498.6 L100,496.9 L126,497.1 L150,496.7 L164.5,495.4 L178.9,493.7 L197,491.5" fill="none" stroke="#c9153e" stroke-width="1.65" stroke-linejoin="round"/>
<path d="M49.6,494 L60.9,494.3 L70,494.2 L79.8,492.8 L89.9,490.9 L100,489.2 L114.5,487.8 L126,486.4 L137.6,484.2 L149.1,481.8 L164.5,479.5 L178.9,477.5 L197,475.6" fill="none" stroke="#104a87" stroke-width="1.65" stroke-linejoin="round"/>
<circle cx="156.1" cy="496.93" r="1.55" fill="#104a87" fill-opacity="0.45"/>
<circle cx="189.55" cy="499.67" r="1.55" fill="#c9153e" fill-opacity="0.45"/>
<circle cx="75.54" cy="495.22" r="1.55" fill="#35b546" fill-opacity="0.45"/>
<circle cx="140.34" cy="500.68" r="1.55" fill="#c9153e" fill-opacity="0.45"/>
<circle cx="171.7" cy="499.2" r="1.55" fill="#104a87" fill-opacity="0.45"/>
<circle cx="49.71" cy="498.71" r="1.55" fill="#1e0050" fill-opacity="0.45"/>
<circle cx="49.57" cy="493.86" r="1.55" fill="#104a87" fill-opacity="0.45"/>
<circle cx="69.16" cy="499.01" r="1.55" fill="#35b546" fill-opacity="0.45"/>
<circle cx="80.96" cy="496.45" r="1.55" fill="#c9153e" fill-opacity="0.45"/>
<circle cx="88.7" cy="490.4" r="1.55" fill="#c9153e" fill-opacity="0.45"/>
<circle cx="72.27" cy="496.15" r="1.55" fill="#1e0050" fill-opacity="0.45"/>
<circle cx="61.2" cy="480.6" r="1.55" fill="#104a87" fill-opacity="0.45"/>
<circle cx="59.19" cy="502.4" r="1.55" fill="#35b546" fill-opacity="0.45"/>
<circle cx="64.46" cy="500.47" r="1.55" fill="#c9153e" fill-opacity="0.45"/>
<circle cx="148.18" cy="493.7" r="1.55" fill="#c9153e" fill-opacity="0.45"/>
<circle cx="119.72" cy="501.32" r="1.55" fill="#104a87" fill-opacity="0.45"/>
<circle cx="161.56" cy="497.63" r="1.55" fill="#35b546" fill-opacity="0.45"/>
<circle cx="59.42" cy="499.29" r="1.55" fill="#1e0050" fill-opacity="0.45"/>
<circle cx="147.91" cy="500.83" r="1.55" fill="#1e0050" fill-opacity="0.45"/>
<circle cx="49.55" cy="495.52" r="1.55" fill="#104a87" fill-opacity="0.45"/>
<circle cx="73.07" cy="495.33" r="1.55" fill="#35b546" fill-opacity="0.45"/>
<circle cx="49.41" cy="479.7" r="1.55" fill="#104a87" fill-opacity="0.45"/>
<circle cx="189.73" cy="495.75" r="1.55" fill="#1e0050" fill-opacity="0.45"/>
<circle cx="94.73" cy="501.41" r="1.55" fill="#1e0050" fill-opacity="0.45"/>
<circle cx="196.67" cy="498.62" r="1.55" fill="#104a87" fill-opacity="0.45"/>
<circle cx="103.93" cy="498.07" r="1.55" fill="#35b546" fill-opacity="0.45"/>
<circle cx="95.18" cy="498.15" r="1.55" fill="#c9153e" fill-opacity="0.45"/>
<circle cx="49.83" cy="499.04" r="1.55" fill="#c9153e" fill-opacity="0.45"/>
<circle cx="75.21" cy="497.06" r="1.55" fill="#c9153e" fill-opacity="0.45"/>
<circle cx="106.73" cy="500.68" r="1.55" fill="#35b546" fill-opacity="0.45"/>
<circle cx="148.4" cy="492.1" r="1.55" fill="#104a87" fill-opacity="0.45"/>
<circle cx="69.11" cy="498.21" r="1.55" fill="#1e0050" fill-opacity="0.45"/>
<circle cx="182.1" cy="486.7" r="1.55" fill="#104a87" fill-opacity="0.45"/>
<circle cx="62.35" cy="497.17" r="1.55" fill="#1e0050" fill-opacity="0.45"/>
<circle cx="146.5" cy="486.1" r="1.55" fill="#104a87" fill-opacity="0.45"/>
<circle cx="156.78" cy="497.26" r="1.55" fill="#1e0050" fill-opacity="0.45"/>
<circle cx="127.5" cy="474.8" r="1.55" fill="#104a87" fill-opacity="0.45"/>
<circle cx="54.88" cy="500.37" r="1.55" fill="#c9153e" fill-opacity="0.45"/>
<circle cx="76.7" cy="486.4" r="1.55" fill="#104a87" fill-opacity="0.45"/>
<circle cx="162.66" cy="499.14" r="1.55" fill="#c9153e" fill-opacity="0.45"/>
<circle cx="64.46" cy="499.97" r="1.55" fill="#1e0050" fill-opacity="0.45"/>
<circle cx="61.32" cy="497.74" r="1.55" fill="#c9153e" fill-opacity="0.45"/>
<circle cx="196.62" cy="499.56" r="1.55" fill="#1e0050" fill-opacity="0.45"/>
<circle cx="53.45" cy="498.51" r="1.55" fill="#1e0050" fill-opacity="0.45"/>
<circle cx="125.3" cy="496" r="1.55" fill="#c9153e" fill-opacity="0.45"/>
<circle cx="49.53" cy="488.33" r="1.55" fill="#c9153e" fill-opacity="0.45"/>
<circle cx="54.74" cy="501" r="1.55" fill="#c9153e" fill-opacity="0.45"/>
<circle cx="178.34" cy="499.42" r="1.55" fill="#104a87" fill-opacity="0.45"/>
<circle cx="49.46" cy="499.87" r="1.55" fill="#35b546" fill-opacity="0.45"/>
<circle cx="49.85" cy="495.2" r="1.55" fill="#104a87" fill-opacity="0.45"/>
<circle cx="96.2" cy="485.1" r="1.55" fill="#1e0050" fill-opacity="0.45"/>
<circle cx="90.71" cy="498.1" r="1.55" fill="#35b546" fill-opacity="0.45"/>
<circle cx="70.4" cy="488.9" r="1.55" fill="#c9153e" fill-opacity="0.45"/>
<circle cx="183.19" cy="495.75" r="1.55" fill="#104a87" fill-opacity="0.45"/>
<circle cx="196.44" cy="497.46" r="1.55" fill="#c9153e" fill-opacity="0.45"/>
<circle cx="189.1" cy="489.6" r="1.55" fill="#c9153e" fill-opacity="0.45"/>
<circle cx="99.08" cy="497.98" r="1.55" fill="#1e0050" fill-opacity="0.45"/>
<circle cx="190.74" cy="501.07" r="1.55" fill="#1e0050" fill-opacity="0.45"/>
<circle cx="64.16" cy="502.6" r="1.55" fill="#c9153e" fill-opacity="0.45"/>
<circle cx="162.7" cy="487.6" r="1.55" fill="#104a87" fill-opacity="0.45"/>
<circle cx="49.72" cy="492.7" r="1.55" fill="#104a87" fill-opacity="0.45"/>
<circle cx="95.62" cy="499.1" r="1.55" fill="#1e0050" fill-opacity="0.45"/>
<circle cx="114.22" cy="499.72" r="1.55" fill="#c9153e" fill-opacity="0.45"/>
<circle cx="62.04" cy="500.55" r="1.55" fill="#1e0050" fill-opacity="0.45"/>
<circle cx="129.6" cy="493.6" r="1.55" fill="#104a87" fill-opacity="0.45"/>
<circle cx="61.31" cy="496.06" r="1.55" fill="#104a87" fill-opacity="0.45"/>
<circle cx="76.87" cy="498.15" r="1.55" fill="#104a87" fill-opacity="0.45"/>
<circle cx="114.64" cy="498.78" r="1.55" fill="#1e0050" fill-opacity="0.45"/>
<circle cx="49.84" cy="496.9" r="1.55" fill="#1e0050" fill-opacity="0.45"/>
<circle cx="162.7" cy="491.9" r="1.55" fill="#1e0050" fill-opacity="0.45"/>
<circle cx="155.71" cy="495.44" r="1.55" fill="#35b546" fill-opacity="0.45"/>
<circle cx="81.72" cy="500.01" r="1.55" fill="#c9153e" fill-opacity="0.45"/>
<circle cx="53.65" cy="502.6" r="1.55" fill="#104a87" fill-opacity="0.45"/>
<circle cx="99.48" cy="495.95" r="1.55" fill="#104a87" fill-opacity="0.45"/>
<circle cx="178.07" cy="499.42" r="1.55" fill="#104a87" fill-opacity="0.45"/>
<circle cx="73.14" cy="497.35" r="1.55" fill="#c9153e" fill-opacity="0.45"/>
<circle cx="126" cy="483.2" r="1.55" fill="#104a87" fill-opacity="0.45"/>
<circle cx="124.6" cy="489.2" r="1.55" fill="#35b546" fill-opacity="0.45"/>
<circle cx="122.4" cy="492.9" r="1.55" fill="#104a87" fill-opacity="0.45"/>
<circle cx="76.7" cy="488.9" r="1.55" fill="#35b546" fill-opacity="0.45"/>
<circle cx="69.78" cy="501.6" r="1.55" fill="#35b546" fill-opacity="0.45"/>
<circle cx="179.7" cy="486.4" r="1.55" fill="#104a87" fill-opacity="0.45"/>
<circle cx="56.7" cy="502.6" r="1.55" fill="#35b546" fill-opacity="0.45"/>
<circle cx="99.85" cy="497.97" r="1.55" fill="#35b546" fill-opacity="0.45"/>
<circle cx="98.92" cy="499.91" r="1.55" fill="#c9153e" fill-opacity="0.45"/>
<circle cx="106.5" cy="493.6" r="1.55" fill="#c9153e" fill-opacity="0.45"/>
<circle cx="64.75" cy="497.87" r="1.55" fill="#c9153e" fill-opacity="0.45"/>
<circle cx="197.3" cy="502.6" r="1.55" fill="#104a87" fill-opacity="0.45"/>
<circle cx="90.4" cy="500.58" r="1.55" fill="#104a87" fill-opacity="0.45"/>
<circle cx="53.9" cy="494.86" r="1.55" fill="#35b546" fill-opacity="0.45"/>
<circle cx="177.5" cy="489" r="1.55" fill="#35b546" fill-opacity="0.45"/>
<circle cx="95.08" cy="502.57" r="1.55" fill="#35b546" fill-opacity="0.45"/>
<circle cx="155.6" cy="479.1" r="1.55" fill="#104a87" fill-opacity="0.45"/>
<circle cx="93.1" cy="487.7" r="1.55" fill="#104a87" fill-opacity="0.45"/>
<circle cx="84.74" cy="500.59" r="1.55" fill="#1e0050" fill-opacity="0.45"/>
<circle cx="170.34" cy="500.98" r="1.55" fill="#35b546" fill-opacity="0.45"/>
<circle cx="162.69" cy="497.25" r="1.55" fill="#104a87" fill-opacity="0.45"/>
<circle cx="49.77" cy="503.24" r="1.55" fill="#35b546" fill-opacity="0.45"/>
<circle cx="147.33" cy="496.71" r="1.55" fill="#1e0050" fill-opacity="0.45"/>
<circle cx="178.59" cy="500.42" r="1.55" fill="#c9153e" fill-opacity="0.45"/>
<circle cx="81.65" cy="496.84" r="1.55" fill="#35b546" fill-opacity="0.45"/>
<circle cx="80.68" cy="494.23" r="1.55" fill="#35b546" fill-opacity="0.45"/>
<circle cx="62.44" cy="499.27" r="1.55" fill="#c9153e" fill-opacity="0.45"/>
<circle cx="56.35" cy="496.78" r="1.55" fill="#35b546" fill-opacity="0.45"/>
<circle cx="59" cy="490.4" r="1.55" fill="#104a87" fill-opacity="0.45"/>
<circle cx="49.52" cy="501.5" r="1.55" fill="#35b546" fill-opacity="0.45"/>
<circle cx="76.1" cy="497.4" r="1.55" fill="#c9153e" fill-opacity="0.45"/>
<circle cx="49.67" cy="500.6" r="1.55" fill="#35b546" fill-opacity="0.45"/>
<circle cx="49.4" cy="494.43" r="1.55" fill="#104a87" fill-opacity="0.45"/>
<circle cx="106.4" cy="501.12" r="1.55" fill="#1e0050" fill-opacity="0.45"/>
<circle cx="49.46" cy="497" r="1.55" fill="#c9153e" fill-opacity="0.45"/>
<circle cx="158.9" cy="426.1" r="1.55" fill="#104a87" fill-opacity="0.45"/>
<circle cx="54.22" cy="498.83" r="1.55" fill="#35b546" fill-opacity="0.45"/>
<circle cx="125.1" cy="385.3" r="1.55" fill="#104a87" fill-opacity="0.45"/>
<circle cx="75.35" cy="490.47" r="1.55" fill="#35b546" fill-opacity="0.45"/>
<circle cx="183.7" cy="468.4" r="1.55" fill="#35b546" fill-opacity="0.45"/>
<circle cx="49.69" cy="490.3" r="1.55" fill="#104a87" fill-opacity="0.45"/>
<circle cx="64.65" cy="500.49" r="1.55" fill="#1e0050" fill-opacity="0.45"/>
<circle cx="170.26" cy="501.18" r="1.55" fill="#35b546" fill-opacity="0.45"/>
<circle cx="103.8" cy="500.54" r="1.55" fill="#35b546" fill-opacity="0.45"/>
<circle cx="76" cy="479.3" r="1.55" fill="#104a87" fill-opacity="0.45"/>
<circle cx="177.88" cy="500.32" r="1.55" fill="#104a87" fill-opacity="0.45"/>
<circle cx="95.37" cy="499.18" r="1.55" fill="#1e0050" fill-opacity="0.45"/>
<circle cx="83.17" cy="497.16" r="1.55" fill="#104a87" fill-opacity="0.45"/>
<circle cx="88.4" cy="479.3" r="1.55" fill="#104a87" fill-opacity="0.45"/>
<circle cx="171.12" cy="496.75" r="1.55" fill="#35b546" fill-opacity="0.45"/>
<circle cx="70.8" cy="468.4" r="1.55" fill="#104a87" fill-opacity="0.45"/>
<circle cx="49.73" cy="490.94" r="1.55" fill="#104a87" fill-opacity="0.45"/>
<circle cx="197.23" cy="497.46" r="1.55" fill="#35b546" fill-opacity="0.45"/>
<circle cx="49.67" cy="502.5" r="1.55" fill="#35b546" fill-opacity="0.45"/>
<circle cx="49.68" cy="497.55" r="1.55" fill="#1e0050" fill-opacity="0.45"/>
<circle cx="90.79" cy="499.85" r="1.55" fill="#104a87" fill-opacity="0.45"/>
<circle cx="104.58" cy="497.49" r="1.55" fill="#104a87" fill-opacity="0.45"/>
<circle cx="118.1" cy="495" r="1.55" fill="#c9153e" fill-opacity="0.45"/>
<circle cx="56.6" cy="496.84" r="1.55" fill="#c9153e" fill-opacity="0.45"/>
<circle cx="64.4" cy="473.4" r="1.55" fill="#104a87" fill-opacity="0.45"/>
<circle cx="73.5" cy="482.9" r="1.55" fill="#104a87" fill-opacity="0.45"/>
<circle cx="140.5" cy="496.04" r="1.55" fill="#c9153e" fill-opacity="0.45"/>
<circle cx="118.12" cy="499.91" r="1.55" fill="#104a87" fill-opacity="0.45"/>
<circle cx="49.62" cy="494" r="1.55" fill="#104a87" fill-opacity="0.45"/>
<circle cx="70.4" cy="474.3" r="1.55" fill="#104a87" fill-opacity="0.45"/>
<circle cx="159" cy="472.2" r="1.55" fill="#35b546" fill-opacity="0.45"/>
<circle cx="95.63" cy="497.8" r="1.55" fill="#c9153e" fill-opacity="0.45"/>
<circle cx="59.78" cy="498.79" r="1.55" fill="#104a87" fill-opacity="0.45"/>
<circle cx="69.6" cy="493.38" r="1.55" fill="#1e0050" fill-opacity="0.45"/>
<circle cx="114.36" cy="498.88" r="1.55" fill="#35b546" fill-opacity="0.45"/>
<circle cx="180.4" cy="489.3" r="1.55" fill="#c9153e" fill-opacity="0.45"/>
<circle cx="118.75" cy="494.91" r="1.55" fill="#104a87" fill-opacity="0.45"/>
<circle cx="124.76" cy="499.12" r="1.55" fill="#1e0050" fill-opacity="0.45"/>
<circle cx="140.5" cy="493.3" r="1.55" fill="#104a87" fill-opacity="0.45"/>
<circle cx="57.11" cy="500.21" r="1.55" fill="#c9153e" fill-opacity="0.45"/>
<circle cx="183.7" cy="437.1" r="1.55" fill="#104a87" fill-opacity="0.45"/>
<circle cx="49.47" cy="491.5" r="1.55" fill="#104a87" fill-opacity="0.45"/>
<circle cx="177.4" cy="453.4" r="1.55" fill="#1e0050" fill-opacity="0.45"/>
<circle cx="60.48" cy="492.96" r="1.55" fill="#1e0050" fill-opacity="0.45"/>
<circle cx="80.14" cy="500.62" r="1.55" fill="#35b546" fill-opacity="0.45"/>
<circle cx="54.18" cy="498.05" r="1.55" fill="#104a87" fill-opacity="0.45"/>
<circle cx="156.82" cy="500.53" r="1.55" fill="#1e0050" fill-opacity="0.45"/>
<circle cx="118.55" cy="496.26" r="1.55" fill="#1e0050" fill-opacity="0.45"/>
<circle cx="84.74" cy="495.42" r="1.55" fill="#c9153e" fill-opacity="0.45"/>
<circle cx="177.5" cy="478.5" r="1.55" fill="#c9153e" fill-opacity="0.45"/>
<circle cx="49.78" cy="498" r="1.55" fill="#1e0050" fill-opacity="0.45"/>
<circle cx="125.27" cy="501.1" r="1.55" fill="#c9153e" fill-opacity="0.45"/>
<circle cx="118.5" cy="481.7" r="1.55" fill="#104a87" fill-opacity="0.45"/>
<circle cx="49.42" cy="489.68" r="1.55" fill="#104a87" fill-opacity="0.45"/>
<circle cx="56.17" cy="496.41" r="1.55" fill="#1e0050" fill-opacity="0.45"/>
<circle cx="125.3" cy="493.6" r="1.55" fill="#c9153e" fill-opacity="0.45"/>
<circle cx="69.22" cy="496.21" r="1.55" fill="#c9153e" fill-opacity="0.45"/>
<circle cx="61.5" cy="486" r="1.55" fill="#1e0050" fill-opacity="0.45"/>
<circle cx="49.52" cy="487.6" r="1.55" fill="#c9153e" fill-opacity="0.45"/>
<circle cx="90.59" cy="497.17" r="1.55" fill="#104a87" fill-opacity="0.45"/>
<circle cx="125.1" cy="468.4" r="1.55" fill="#35b546" fill-opacity="0.45"/>
<circle cx="90.57" cy="499.67" r="1.55" fill="#1e0050" fill-opacity="0.45"/>
<circle cx="61.4" cy="497.84" r="1.55" fill="#104a87" fill-opacity="0.45"/>
<circle cx="148.35" cy="502.6" r="1.55" fill="#1e0050" fill-opacity="0.45"/>
<circle cx="114.17" cy="497.64" r="1.55" fill="#1e0050" fill-opacity="0.45"/>
<circle cx="49.37" cy="497.28" r="1.55" fill="#1e0050" fill-opacity="0.45"/>
<circle cx="161.56" cy="496.67" r="1.55" fill="#1e0050" fill-opacity="0.45"/>
<circle cx="56.31" cy="502.6" r="1.55" fill="#35b546" fill-opacity="0.45"/>
<circle cx="114.23" cy="494.86" r="1.55" fill="#35b546" fill-opacity="0.45"/>
<circle cx="69.72" cy="496.85" r="1.55" fill="#35b546" fill-opacity="0.45"/>
<circle cx="161.65" cy="497.73" r="1.55" fill="#35b546" fill-opacity="0.45"/>
<circle cx="99.06" cy="498.11" r="1.55" fill="#1e0050" fill-opacity="0.45"/>
<circle cx="170.5" cy="439.9" r="1.55" fill="#104a87" fill-opacity="0.45"/>
<circle cx="107.64" cy="495.37" r="1.55" fill="#1e0050" fill-opacity="0.45"/>
<circle cx="125.76" cy="500.55" r="1.55" fill="#c9153e" fill-opacity="0.45"/>
<circle cx="95.9" cy="429.2" r="1.55" fill="#104a87" fill-opacity="0.45"/>
<circle cx="49.45" cy="488.44" r="1.55" fill="#1e0050" fill-opacity="0.45"/>
<circle cx="83.85" cy="496.78" r="1.55" fill="#1e0050" fill-opacity="0.45"/>
<circle cx="60.48" cy="496.73" r="1.55" fill="#c9153e" fill-opacity="0.45"/>
<circle cx="101.7" cy="485.6" r="1.55" fill="#104a87" fill-opacity="0.45"/>
<circle cx="140.09" cy="497.18" r="1.55" fill="#1e0050" fill-opacity="0.45"/>
<circle cx="61.93" cy="497.12" r="1.55" fill="#c9153e" fill-opacity="0.45"/>
<circle cx="49.82" cy="496" r="1.55" fill="#104a87" fill-opacity="0.45"/>
<circle cx="182.56" cy="496.86" r="1.55" fill="#35b546" fill-opacity="0.45"/>
<circle cx="129.81" cy="496.85" r="1.55" fill="#1e0050" fill-opacity="0.45"/>
<circle cx="49.75" cy="499.2" r="1.55" fill="#1e0050" fill-opacity="0.45"/>
<circle cx="57" cy="500.66" r="1.55" fill="#c9153e" fill-opacity="0.45"/>
<circle cx="183.19" cy="499.77" r="1.55" fill="#c9153e" fill-opacity="0.45"/>
<circle cx="183.15" cy="498.17" r="1.55" fill="#104a87" fill-opacity="0.45"/>
<circle cx="73.31" cy="501.14" r="1.55" fill="#104a87" fill-opacity="0.45"/>
<circle cx="139.24" cy="502.56" r="1.55" fill="#1e0050" fill-opacity="0.45"/>
<circle cx="73.5" cy="488.9" r="1.55" fill="#c9153e" fill-opacity="0.45"/>
<circle cx="99.64" cy="496.51" r="1.55" fill="#c9153e" fill-opacity="0.45"/>
<circle cx="171.57" cy="497.34" r="1.55" fill="#c9153e" fill-opacity="0.45"/>
<circle cx="91.31" cy="499.99" r="1.55" fill="#1e0050" fill-opacity="0.45"/>
<circle cx="84.15" cy="497.55" r="1.55" fill="#35b546" fill-opacity="0.45"/>
<circle cx="59.43" cy="499.87" r="1.55" fill="#35b546" fill-opacity="0.45"/>
<circle cx="124.6" cy="481.3" r="1.55" fill="#104a87" fill-opacity="0.45"/>
<circle cx="190.19" cy="499.94" r="1.55" fill="#1e0050" fill-opacity="0.45"/>
<circle cx="124.39" cy="496.89" r="1.55" fill="#c9153e" fill-opacity="0.45"/>
<circle cx="155.6" cy="493.6" r="1.55" fill="#c9153e" fill-opacity="0.45"/>
<circle cx="49.53" cy="487.9" r="1.55" fill="#1e0050" fill-opacity="0.45"/>
<circle cx="49.36" cy="432.1" r="1.55" fill="#104a87" fill-opacity="0.45"/>
<circle cx="171" cy="474.6" r="1.55" fill="#35b546" fill-opacity="0.45"/>
<circle cx="197" cy="490.8" r="1.55" fill="#c9153e" fill-opacity="0.45"/>
<circle cx="49.68" cy="492.12" r="1.55" fill="#104a87" fill-opacity="0.45"/>
<circle cx="83.91" cy="494.8" r="1.55" fill="#c9153e" fill-opacity="0.45"/>
<circle cx="98.5" cy="479.3" r="1.55" fill="#104a87" fill-opacity="0.45"/>
<circle cx="178.04" cy="501.56" r="1.55" fill="#35b546" fill-opacity="0.45"/>
<circle cx="192" cy="482.4" r="1.55" fill="#104a87" fill-opacity="0.45"/>
<circle cx="83.92" cy="495.05" r="1.55" fill="#1e0050" fill-opacity="0.45"/>
<circle cx="80.4" cy="498.69" r="1.55" fill="#c9153e" fill-opacity="0.45"/>
<circle cx="72.8" cy="500.3" r="1.55" fill="#1e0050" fill-opacity="0.45"/>
<circle cx="73.5" cy="502.6" r="1.55" fill="#1e0050" fill-opacity="0.45"/>
<circle cx="155.28" cy="500.19" r="1.55" fill="#c9153e" fill-opacity="0.45"/>
<circle cx="70.4" cy="480.1" r="1.55" fill="#104a87" fill-opacity="0.45"/>
<circle cx="107.25" cy="502.6" r="1.55" fill="#c9153e" fill-opacity="0.45"/>
<circle cx="49.46" cy="497.14" r="1.55" fill="#c9153e" fill-opacity="0.45"/>
<circle cx="73.08" cy="499.89" r="1.55" fill="#c9153e" fill-opacity="0.45"/>
<circle cx="157.1" cy="493.3" r="1.55" fill="#104a87" fill-opacity="0.45"/>
<circle cx="94.88" cy="501.65" r="1.55" fill="#c9153e" fill-opacity="0.45"/>
<circle cx="59.47" cy="502.39" r="1.55" fill="#c9153e" fill-opacity="0.45"/>
<circle cx="119.39" cy="495.77" r="1.55" fill="#1e0050" fill-opacity="0.45"/>
<circle cx="102.5" cy="468.4" r="1.55" fill="#104a87" fill-opacity="0.45"/>
<circle cx="59.7" cy="481.4" r="1.55" fill="#104a87" fill-opacity="0.45"/>
<circle cx="128.18" cy="500.73" r="1.55" fill="#104a87" fill-opacity="0.45"/>
<circle cx="140.8" cy="499.29" r="1.55" fill="#104a87" fill-opacity="0.45"/>
<circle cx="49.55" cy="483.8" r="1.55" fill="#104a87" fill-opacity="0.45"/>
<circle cx="129.82" cy="496.95" r="1.55" fill="#35b546" fill-opacity="0.45"/>
<circle cx="125.75" cy="501.83" r="1.55" fill="#35b546" fill-opacity="0.45"/>
<circle cx="90.58" cy="502.28" r="1.55" fill="#c9153e" fill-opacity="0.45"/>
<circle cx="103.44" cy="495.61" r="1.55" fill="#1e0050" fill-opacity="0.45"/>
<circle cx="82.4" cy="490.4" r="1.55" fill="#c9153e" fill-opacity="0.45"/>
<circle cx="75.66" cy="499.45" r="1.55" fill="#35b546" fill-opacity="0.45"/>
<circle cx="65.42" cy="499.19" r="1.55" fill="#1e0050" fill-opacity="0.45"/>
<circle cx="65.38" cy="500.82" r="1.55" fill="#1e0050" fill-opacity="0.45"/>
<circle cx="189.74" cy="498.95" r="1.55" fill="#1e0050" fill-opacity="0.45"/>
<circle cx="128.94" cy="496.31" r="1.55" fill="#104a87" fill-opacity="0.45"/>
<circle cx="75.19" cy="501.38" r="1.55" fill="#c9153e" fill-opacity="0.45"/>
<circle cx="107.16" cy="498.01" r="1.55" fill="#35b546" fill-opacity="0.45"/>
<circle cx="183.75" cy="499.14" r="1.55" fill="#35b546" fill-opacity="0.45"/>
<circle cx="170.32" cy="499.92" r="1.55" fill="#1e0050" fill-opacity="0.45"/>
<circle cx="80.89" cy="496.49" r="1.55" fill="#35b546" fill-opacity="0.45"/>
<circle cx="101.5" cy="479.1" r="1.55" fill="#104a87" fill-opacity="0.45"/>
<circle cx="129.12" cy="497.27" r="1.55" fill="#c9153e" fill-opacity="0.45"/>
<circle cx="49.62" cy="498.5" r="1.55" fill="#c9153e" fill-opacity="0.45"/>
<circle cx="49.52" cy="501.33" r="1.55" fill="#35b546" fill-opacity="0.45"/>
<circle cx="189.1" cy="483.8" r="1.55" fill="#104a87" fill-opacity="0.45"/>
<circle cx="98.57" cy="497.32" r="1.55" fill="#104a87" fill-opacity="0.45"/>
<circle cx="70.22" cy="502.03" r="1.55" fill="#35b546" fill-opacity="0.45"/>
<circle cx="104.64" cy="499" r="1.55" fill="#35b546" fill-opacity="0.45"/>
<circle cx="148.18" cy="498.68" r="1.55" fill="#35b546" fill-opacity="0.45"/>
<circle cx="95" cy="482.6" r="1.55" fill="#104a87" fill-opacity="0.45"/>
<g transform="translate(0,360)">
<path d="M42,19.5 V147.45 H204.8" fill="none" stroke="#1a1a1a" stroke-width="1.15"/>
<path d="M39,141.5 H42" stroke="#1a1a1a" stroke-width="1.1"/>
<text x="36.3" y="144.6" font-size="9.2" text-anchor="end" textLength="15.18" lengthAdjust="spacingAndGlyphs" fill="#222" stroke="#222" stroke-width="0.12">0.00</text>
<path d="M39,113.17 H42" stroke="#1a1a1a" stroke-width="1.1"/>
<text x="36.3" y="116.27" font-size="9.2" text-anchor="end" textLength="15.18" lengthAdjust="spacingAndGlyphs" fill="#222" stroke="#222" stroke-width="0.12">0.25</text>
<path d="M39,84.85 H42" stroke="#1a1a1a" stroke-width="1.1"/>
<text x="36.3" y="87.95" font-size="9.2" text-anchor="end" textLength="15.18" lengthAdjust="spacingAndGlyphs" fill="#222" stroke="#222" stroke-width="0.12">0.50</text>
<path d="M39,56.53 H42" stroke="#1a1a1a" stroke-width="1.1"/>
<text x="36.3" y="59.63" font-size="9.2" text-anchor="end" textLength="15.18" lengthAdjust="spacingAndGlyphs" fill="#222" stroke="#222" stroke-width="0.12">0.75</text>
<path d="M39,28.2 H42" stroke="#1a1a1a" stroke-width="1.1"/>
<text x="36.3" y="31.3" font-size="9.2" text-anchor="end" textLength="15.18" lengthAdjust="spacingAndGlyphs" fill="#222" stroke="#222" stroke-width="0.12">1.00</text>
<path d="M49.4,147.3 V150.6" stroke="#1a1a1a" stroke-width="1.1"/>
<text x="49.4" y="159.3" font-size="9.2" text-anchor="middle" textLength="4.34" lengthAdjust="spacingAndGlyphs" fill="#222" stroke="#222" stroke-width="0.12">0</text>
<path d="M91.06,147.3 V150.6" stroke="#1a1a1a" stroke-width="1.1"/>
<text x="91.06" y="159.3" font-size="9.2" text-anchor="middle" textLength="8.68" lengthAdjust="spacingAndGlyphs" fill="#222" stroke="#222" stroke-width="0.12">50</text>
<path d="M132.73,147.3 V150.6" stroke="#1a1a1a" stroke-width="1.1"/>
<text x="132.73" y="159.3" font-size="9.2" text-anchor="middle" textLength="13.01" lengthAdjust="spacingAndGlyphs" fill="#222" stroke="#222" stroke-width="0.12">100</text>
<path d="M174.4,147.3 V150.6" stroke="#1a1a1a" stroke-width="1.1"/>
<text x="174.4" y="159.3" font-size="9.2" text-anchor="middle" textLength="13.01" lengthAdjust="spacingAndGlyphs" fill="#222" stroke="#222" stroke-width="0.12">150</text>
<text x="123.2" y="172.9" font-size="9.4" stroke="#000" stroke-width="0.3" text-anchor="middle" textLength="10.2" lengthAdjust="spacingAndGlyphs" fill="#000">DPI</text>
<g transform="translate(15.0,0) rotate(-90)" fill="#000" stroke="#000" stroke-width="0.3" font-size="8.4"><text x="-111.3" y="0" textLength="9.3" lengthAdjust="spacingAndGlyphs">Cell</text><text x="-99.3" y="0" textLength="15.3" lengthAdjust="spacingAndGlyphs">count</text><text x="-81.3" y="0" textLength="13.3" lengthAdjust="spacingAndGlyphs">(×10</text><text x="-67.8" y="-4.6" font-size="5.8" textLength="3" lengthAdjust="spacingAndGlyphs" stroke-width="0.2">9</text><text x="-65" y="0" textLength="9.3" lengthAdjust="spacingAndGlyphs">/L)</text></g>
<text x="123.3" y="13.35" font-size="9" text-anchor="middle" fill="#000" stroke="#000" stroke-width="0.15">Conv CD4<tspan dy="-3.2" font-size="6.3">+</tspan><tspan dy="3.2"> T cell subsets</tspan></text>
<text x="176.5" y="26.3" font-size="7.5" fill="#000" stroke="#000" stroke-width="0.12">Cell population</text>
<rect x="177.1" y="31.3" width="8" height="5.2" fill="#c9153e" fill-opacity="0.1"/>
<path d="M177.1,33.9 h8" stroke="#c9153e" stroke-width="1.6"/>
<circle cx="181.1" cy="33.9" r="1.5" fill="#c9153e" fill-opacity="0.5"/>
<text x="188" y="36.4" font-size="6.9" fill="#000" stroke="#000" stroke-width="0.1">CD4 Tcm</text>
<rect x="177.1" y="41.95" width="8" height="5.2" fill="#104a87" fill-opacity="0.1"/>
<path d="M177.1,44.55 h8" stroke="#104a87" stroke-width="1.6"/>
<circle cx="181.1" cy="44.55" r="1.5" fill="#104a87" fill-opacity="0.5"/>
<text x="188" y="47.05" font-size="6.9" fill="#000" stroke="#000" stroke-width="0.1">CD4 Tem</text>
<rect x="177.1" y="52.6" width="8" height="5.2" fill="#35b546" fill-opacity="0.1"/>
<path d="M177.1,55.2 h8" stroke="#35b546" stroke-width="1.6"/>
<circle cx="181.1" cy="55.2" r="1.5" fill="#35b546" fill-opacity="0.5"/>
<text x="188" y="57.7" font-size="6.9" fill="#000" stroke="#000" stroke-width="0.1">CD4 Temra</text>
<rect x="177.1" y="63.25" width="8" height="5.2" fill="#5e2a86" fill-opacity="0.1"/>
<path d="M177.1,65.85 h8" stroke="#5e2a86" stroke-width="1.6"/>
<circle cx="181.1" cy="65.85" r="1.5" fill="#1e0050" fill-opacity="0.5"/>
<text x="188" y="68.35" font-size="6.9" fill="#000" stroke="#000" stroke-width="0.1">CD4 Tnaive</text>
</g>
<path d="M320.3,478.6 L330,483.5 L342.2,486.5 L350,486.8 L362.1,484.2 L373,481.2 L386.3,479 L402.6,476.3 L418.9,474.5 L430,472.6 L447.2,469.8 L468.4,460.8 L468.4,491.8 L447.2,488.5 L430,488.3 L402.6,488.5 L373,491.6 L362.1,493.5 L350,495 L342.2,494.7 L330,492 L320.3,487.1Z" fill="#104a87" fill-opacity="0.16"/>
<path d="M320.3,499.3 L373,497.3 L402.6,493.8 L426,492.4 L447.2,490 L468.4,485.3 L468.4,495.5 L447.2,495.2 L426,496 L402.6,497 L373,500.3 L320.3,501.9Z" fill="#35b546" fill-opacity="0.16"/>
<path d="M320.3,493.4 L342.2,497.4 L373,497.8 L426,497.2 L468.4,495.8 L468.4,500.4 L426,500 L373,500.4 L342.2,500.6 L320.3,498.4Z" fill="#c9153e" fill-opacity="0.16"/>
<path d="M320.3,500.7 L426,499.2 L468.4,497.9 L468.4,500.3 L426,500.8 L320.3,502.3Z" fill="#5e2a86" fill-opacity="0.16"/>
<path d="M320.3,501.5 L373,500.6 L426,500 L468.1,499.1" fill="none" stroke="#fff" stroke-opacity="0.3" stroke-width="3.8" stroke-linejoin="round"/>
<path d="M320.3,495.9 L330.5,497.6 L342.2,499 L373,499.1 L400,498.8 L426,498.6 L468.1,498" fill="none" stroke="#fff" stroke-opacity="0.3" stroke-width="3.8" stroke-linejoin="round"/>
<path d="M320.3,500.6 L342.2,500 L373,498.8 L402.6,495.4 L426,494.2 L447.2,492.6 L468.1,490.5" fill="none" stroke="#fff" stroke-opacity="0.3" stroke-width="3.8" stroke-linejoin="round"/>
<path d="M320.3,482.7 L324.7,485.4 L330.5,488.3 L336.4,490.4 L342.2,491.5 L348.1,491.8 L353.9,491.2 L359.8,490 L365.6,488.5 L373,487.1 L386.3,484.4 L402.6,482.3 L418.9,480.7 L430,480 L447.2,479.1 L468.1,478.4" fill="none" stroke="#fff" stroke-opacity="0.3" stroke-width="3.8" stroke-linejoin="round"/>
<path d="M320.3,501.5 L373,500.6 L426,500 L468.1,499.1" fill="none" stroke="#5e2a86" stroke-width="1.65" stroke-linejoin="round"/>
<path d="M320.3,495.9 L330.5,497.6 L342.2,499 L373,499.1 L400,498.8 L426,498.6 L468.1,498" fill="none" stroke="#c9153e" stroke-width="1.65" stroke-linejoin="round"/>
<path d="M320.3,500.6 L342.2,500 L373,498.8 L402.6,495.4 L426,494.2 L447.2,492.6 L468.1,490.5" fill="none" stroke="#35b546" stroke-width="1.65" stroke-linejoin="round"/>
<path d="M320.3,482.7 L324.7,485.4 L330.5,488.3 L336.4,490.4 L342.2,491.5 L348.1,491.8 L353.9,491.2 L359.8,490 L365.6,488.5 L373,487.1 L386.3,484.4 L402.6,482.3 L418.9,480.7 L430,480 L447.2,479.1 L468.1,478.4" fill="none" stroke="#104a87" stroke-width="1.65" stroke-linejoin="round"/>
<circle cx="430.1" cy="491.8" r="1.55" fill="#104a87" fill-opacity="0.45"/>
<circle cx="460.87" cy="501.31" r="1.55" fill="#35b546" fill-opacity="0.45"/>
<circle cx="333.5" cy="500.44" r="1.55" fill="#c9153e" fill-opacity="0.45"/>
<circle cx="365.2" cy="497.71" r="1.55" fill="#104a87" fill-opacity="0.45"/>
<circle cx="433.44" cy="496.21" r="1.55" fill="#35b546" fill-opacity="0.45"/>
<circle cx="330.2" cy="496.66" r="1.55" fill="#c9153e" fill-opacity="0.45"/>
<circle cx="366.8" cy="474.2" r="1.55" fill="#104a87" fill-opacity="0.45"/>
<circle cx="389.6" cy="491.5" r="1.55" fill="#35b546" fill-opacity="0.45"/>
<circle cx="325.26" cy="496.47" r="1.55" fill="#c9153e" fill-opacity="0.45"/>
<circle cx="340.24" cy="500.38" r="1.55" fill="#35b546" fill-opacity="0.45"/>
<circle cx="320.06" cy="498.07" r="1.55" fill="#1e0050" fill-opacity="0.45"/>
<circle cx="320.26" cy="499.5" r="1.55" fill="#1e0050" fill-opacity="0.45"/>
<circle cx="346.77" cy="499.22" r="1.55" fill="#1e0050" fill-opacity="0.45"/>
<circle cx="320.17" cy="488" r="1.55" fill="#1e0050" fill-opacity="0.45"/>
<circle cx="320.35" cy="476.7" r="1.55" fill="#104a87" fill-opacity="0.45"/>
<circle cx="344.85" cy="502.6" r="1.55" fill="#35b546" fill-opacity="0.45"/>
<circle cx="468.4" cy="501.2" r="1.55" fill="#35b546" fill-opacity="0.45"/>
<circle cx="448.5" cy="468.9" r="1.55" fill="#35b546" fill-opacity="0.45"/>
<circle cx="320.18" cy="490.6" r="1.55" fill="#c9153e" fill-opacity="0.45"/>
<circle cx="332.3" cy="491.2" r="1.55" fill="#35b546" fill-opacity="0.45"/>
<circle cx="453.65" cy="497.29" r="1.55" fill="#35b546" fill-opacity="0.45"/>
<circle cx="320.07" cy="492.2" r="1.55" fill="#35b546" fill-opacity="0.45"/>
<circle cx="467.81" cy="496.22" r="1.55" fill="#c9153e" fill-opacity="0.45"/>
<circle cx="372.6" cy="469.8" r="1.55" fill="#c9153e" fill-opacity="0.45"/>
<circle cx="393.7" cy="464.4" r="1.55" fill="#104a87" fill-opacity="0.45"/>
<circle cx="419.74" cy="499.61" r="1.55" fill="#c9153e" fill-opacity="0.45"/>
<circle cx="441.48" cy="496.87" r="1.55" fill="#c9153e" fill-opacity="0.45"/>
<circle cx="411.85" cy="494.76" r="1.55" fill="#104a87" fill-opacity="0.45"/>
<circle cx="448.8" cy="490.5" r="1.55" fill="#1e0050" fill-opacity="0.45"/>
<circle cx="324.16" cy="498.41" r="1.55" fill="#c9153e" fill-opacity="0.45"/>
<circle cx="419.72" cy="497.56" r="1.55" fill="#35b546" fill-opacity="0.45"/>
<circle cx="373.5" cy="434.2" r="1.55" fill="#104a87" fill-opacity="0.45"/>
<circle cx="330.3" cy="456.2" r="1.55" fill="#c9153e" fill-opacity="0.45"/>
<circle cx="448.5" cy="446.1" r="1.55" fill="#104a87" fill-opacity="0.45"/>
<circle cx="449.7" cy="491.8" r="1.55" fill="#c9153e" fill-opacity="0.45"/>
<circle cx="353.3" cy="454.2" r="1.55" fill="#104a87" fill-opacity="0.45"/>
<circle cx="352.8" cy="483.6" r="1.55" fill="#104a87" fill-opacity="0.45"/>
<circle cx="320.39" cy="483.2" r="1.55" fill="#1e0050" fill-opacity="0.45"/>
<circle cx="397.7" cy="487.7" r="1.55" fill="#35b546" fill-opacity="0.45"/>
<circle cx="375.89" cy="499.98" r="1.55" fill="#35b546" fill-opacity="0.45"/>
<circle cx="449.67" cy="497.23" r="1.55" fill="#104a87" fill-opacity="0.45"/>
<circle cx="320.12" cy="503" r="1.55" fill="#35b546" fill-opacity="0.45"/>
<circle cx="375.63" cy="494.6" r="1.55" fill="#1e0050" fill-opacity="0.45"/>
<circle cx="395.71" cy="497.36" r="1.55" fill="#35b546" fill-opacity="0.45"/>
<circle cx="332.74" cy="497.2" r="1.55" fill="#35b546" fill-opacity="0.45"/>
<circle cx="325.9" cy="489.2" r="1.55" fill="#104a87" fill-opacity="0.45"/>
<circle cx="460.3" cy="484.4" r="1.55" fill="#35b546" fill-opacity="0.45"/>
<circle cx="399.62" cy="500.95" r="1.55" fill="#104a87" fill-opacity="0.45"/>
<circle cx="320.22" cy="498" r="1.55" fill="#35b546" fill-opacity="0.45"/>
<circle cx="332.95" cy="500.53" r="1.55" fill="#1e0050" fill-opacity="0.45"/>
<circle cx="351.99" cy="499.82" r="1.55" fill="#c9153e" fill-opacity="0.45"/>
<circle cx="330.42" cy="496.59" r="1.55" fill="#35b546" fill-opacity="0.45"/>
<circle cx="369.15" cy="501.44" r="1.55" fill="#104a87" fill-opacity="0.45"/>
<circle cx="385.85" cy="500.09" r="1.55" fill="#1e0050" fill-opacity="0.45"/>
<circle cx="454.78" cy="500.3" r="1.55" fill="#104a87" fill-opacity="0.45"/>
<circle cx="320.24" cy="454.7" r="1.55" fill="#c9153e" fill-opacity="0.45"/>
<circle cx="411.1" cy="486.6" r="1.55" fill="#104a87" fill-opacity="0.45"/>
<circle cx="320.49" cy="493.11" r="1.55" fill="#35b546" fill-opacity="0.45"/>
<circle cx="454.32" cy="498.54" r="1.55" fill="#c9153e" fill-opacity="0.45"/>
<circle cx="335.77" cy="496.18" r="1.55" fill="#104a87" fill-opacity="0.45"/>
<circle cx="396.9" cy="465" r="1.55" fill="#104a87" fill-opacity="0.45"/>
<circle cx="399.58" cy="498.6" r="1.55" fill="#104a87" fill-opacity="0.45"/>
<circle cx="369.35" cy="497.45" r="1.55" fill="#c9153e" fill-opacity="0.45"/>
<circle cx="320.19" cy="496.6" r="1.55" fill="#c9153e" fill-opacity="0.45"/>
<circle cx="320.39" cy="483.54" r="1.55" fill="#c9153e" fill-opacity="0.45"/>
<circle cx="418.9" cy="485.6" r="1.55" fill="#104a87" fill-opacity="0.45"/>
<circle cx="396.42" cy="502.52" r="1.55" fill="#1e0050" fill-opacity="0.45"/>
<circle cx="352.8" cy="496.5" r="1.55" fill="#c9153e" fill-opacity="0.45"/>
<circle cx="442.29" cy="498.13" r="1.55" fill="#35b546" fill-opacity="0.45"/>
<circle cx="333.66" cy="497.18" r="1.55" fill="#35b546" fill-opacity="0.45"/>
<circle cx="336.64" cy="500.91" r="1.55" fill="#c9153e" fill-opacity="0.45"/>
<circle cx="386.45" cy="498.58" r="1.55" fill="#c9153e" fill-opacity="0.45"/>
<circle cx="395.76" cy="499.64" r="1.55" fill="#104a87" fill-opacity="0.45"/>
<circle cx="320.06" cy="485.76" r="1.55" fill="#c9153e" fill-opacity="0.45"/>
<circle cx="328.04" cy="498.78" r="1.55" fill="#35b546" fill-opacity="0.45"/>
<circle cx="344.28" cy="496.41" r="1.55" fill="#104a87" fill-opacity="0.45"/>
<circle cx="369.47" cy="499.56" r="1.55" fill="#35b546" fill-opacity="0.45"/>
<circle cx="462.7" cy="457.5" r="1.55" fill="#104a87" fill-opacity="0.45"/>
<circle cx="320.28" cy="495.37" r="1.55" fill="#c9153e" fill-opacity="0.45"/>
<circle cx="320.12" cy="489" r="1.55" fill="#104a87" fill-opacity="0.45"/>
<circle cx="419.65" cy="499.76" r="1.55" fill="#c9153e" fill-opacity="0.45"/>
<circle cx="354.79" cy="497.42" r="1.55" fill="#104a87" fill-opacity="0.45"/>
<circle cx="320.26" cy="421.2" r="1.55" fill="#104a87" fill-opacity="0.45"/>
<circle cx="346.63" cy="498.82" r="1.55" fill="#1e0050" fill-opacity="0.45"/>
<circle cx="460.45" cy="496.58" r="1.55" fill="#1e0050" fill-opacity="0.45"/>
<circle cx="401" cy="472.5" r="1.55" fill="#104a87" fill-opacity="0.45"/>
<circle cx="426.27" cy="497.78" r="1.55" fill="#1e0050" fill-opacity="0.45"/>
<circle cx="336.34" cy="496.06" r="1.55" fill="#1e0050" fill-opacity="0.45"/>
<circle cx="449.3" cy="499.72" r="1.55" fill="#35b546" fill-opacity="0.45"/>
<circle cx="331.1" cy="475.6" r="1.55" fill="#104a87" fill-opacity="0.45"/>
<circle cx="426.12" cy="496.22" r="1.55" fill="#35b546" fill-opacity="0.45"/>
<circle cx="320.32" cy="482.8" r="1.55" fill="#c9153e" fill-opacity="0.45"/>
<circle cx="347.61" cy="499.92" r="1.55" fill="#104a87" fill-opacity="0.45"/>
<circle cx="364.5" cy="483" r="1.55" fill="#104a87" fill-opacity="0.45"/>
<circle cx="320.13" cy="483" r="1.55" fill="#1e0050" fill-opacity="0.45"/>
<circle cx="354.46" cy="500.09" r="1.55" fill="#c9153e" fill-opacity="0.45"/>
<circle cx="330.4" cy="495.15" r="1.55" fill="#35b546" fill-opacity="0.45"/>
<circle cx="468.68" cy="495.45" r="1.55" fill="#35b546" fill-opacity="0.45"/>
<circle cx="378.21" cy="499.44" r="1.55" fill="#104a87" fill-opacity="0.45"/>
<circle cx="320.52" cy="499.97" r="1.55" fill="#1e0050" fill-opacity="0.45"/>
<circle cx="426.8" cy="482" r="1.55" fill="#35b546" fill-opacity="0.45"/>
<circle cx="377.95" cy="496.51" r="1.55" fill="#104a87" fill-opacity="0.45"/>
<circle cx="320.36" cy="485.8" r="1.55" fill="#c9153e" fill-opacity="0.45"/>
<circle cx="320.09" cy="494.2" r="1.55" fill="#c9153e" fill-opacity="0.45"/>
<circle cx="377.13" cy="502.21" r="1.55" fill="#104a87" fill-opacity="0.45"/>
<circle cx="352.39" cy="501.61" r="1.55" fill="#c9153e" fill-opacity="0.45"/>
<circle cx="320.41" cy="487.6" r="1.55" fill="#1e0050" fill-opacity="0.45"/>
<circle cx="330.2" cy="442.7" r="1.55" fill="#104a87" fill-opacity="0.45"/>
<circle cx="320.36" cy="487.54" r="1.55" fill="#104a87" fill-opacity="0.45"/>
<circle cx="341.7" cy="488.9" r="1.55" fill="#35b546" fill-opacity="0.45"/>
<circle cx="335.2" cy="468.4" r="1.55" fill="#104a87" fill-opacity="0.45"/>
<circle cx="396.38" cy="500.27" r="1.55" fill="#c9153e" fill-opacity="0.45"/>
<circle cx="327.43" cy="501.16" r="1.55" fill="#1e0050" fill-opacity="0.45"/>
<circle cx="320.38" cy="501" r="1.55" fill="#35b546" fill-opacity="0.45"/>
<circle cx="426.8" cy="453.4" r="1.55" fill="#104a87" fill-opacity="0.45"/>
<circle cx="328.21" cy="502.03" r="1.55" fill="#104a87" fill-opacity="0.45"/>
<circle cx="441.17" cy="500.23" r="1.55" fill="#c9153e" fill-opacity="0.45"/>
<circle cx="399.46" cy="499.96" r="1.55" fill="#1e0050" fill-opacity="0.45"/>
<circle cx="410.76" cy="494.11" r="1.55" fill="#104a87" fill-opacity="0.45"/>
<circle cx="460.97" cy="495.96" r="1.55" fill="#c9153e" fill-opacity="0.45"/>
<circle cx="362.89" cy="495.17" r="1.55" fill="#35b546" fill-opacity="0.45"/>
<circle cx="395.8" cy="478.4" r="1.55" fill="#104a87" fill-opacity="0.45"/>
<circle cx="468.4" cy="496.3" r="1.55" fill="#104a87" fill-opacity="0.45"/>
<circle cx="396" cy="411.9" r="1.55" fill="#104a87" fill-opacity="0.45"/>
<circle cx="332.18" cy="497.12" r="1.55" fill="#c9153e" fill-opacity="0.45"/>
<circle cx="320.16" cy="499.5" r="1.55" fill="#35b546" fill-opacity="0.45"/>
<circle cx="320.13" cy="501.14" r="1.55" fill="#35b546" fill-opacity="0.45"/>
<circle cx="386.49" cy="497.64" r="1.55" fill="#c9153e" fill-opacity="0.45"/>
<circle cx="320.08" cy="463.6" r="1.55" fill="#104a87" fill-opacity="0.45"/>
<circle cx="365.75" cy="499.73" r="1.55" fill="#104a87" fill-opacity="0.45"/>
<circle cx="320.47" cy="491.8" r="1.55" fill="#35b546" fill-opacity="0.45"/>
<circle cx="320.37" cy="385.5" r="1.55" fill="#104a87" fill-opacity="0.45"/>
<circle cx="320.14" cy="495.5" r="1.55" fill="#c9153e" fill-opacity="0.45"/>
<circle cx="433.58" cy="500.41" r="1.55" fill="#1e0050" fill-opacity="0.45"/>
<circle cx="320.45" cy="501.73" r="1.55" fill="#35b546" fill-opacity="0.45"/>
<circle cx="325.3" cy="501.95" r="1.55" fill="#35b546" fill-opacity="0.45"/>
<circle cx="433.62" cy="493.87" r="1.55" fill="#104a87" fill-opacity="0.45"/>
<circle cx="362.02" cy="500.67" r="1.55" fill="#35b546" fill-opacity="0.45"/>
<circle cx="347.71" cy="493.47" r="1.55" fill="#c9153e" fill-opacity="0.45"/>
<circle cx="366.56" cy="497.73" r="1.55" fill="#104a87" fill-opacity="0.45"/>
<circle cx="320.31" cy="493" r="1.55" fill="#35b546" fill-opacity="0.45"/>
<circle cx="362.82" cy="498" r="1.55" fill="#104a87" fill-opacity="0.45"/>
<circle cx="427.32" cy="499.16" r="1.55" fill="#1e0050" fill-opacity="0.45"/>
<circle cx="442.3" cy="493.4" r="1.55" fill="#104a87" fill-opacity="0.45"/>
<circle cx="336.47" cy="498.4" r="1.55" fill="#35b546" fill-opacity="0.45"/>
<circle cx="328.26" cy="500.37" r="1.55" fill="#35b546" fill-opacity="0.45"/>
<circle cx="441.99" cy="497.04" r="1.55" fill="#c9153e" fill-opacity="0.45"/>
<circle cx="330.68" cy="497.66" r="1.55" fill="#1e0050" fill-opacity="0.45"/>
<circle cx="341.05" cy="498.8" r="1.55" fill="#c9153e" fill-opacity="0.45"/>
<circle cx="343.57" cy="501.59" r="1.55" fill="#35b546" fill-opacity="0.45"/>
<circle cx="335.2" cy="475.2" r="1.55" fill="#104a87" fill-opacity="0.45"/>
<circle cx="354.61" cy="499.98" r="1.55" fill="#35b546" fill-opacity="0.45"/>
<circle cx="320.24" cy="471.3" r="1.55" fill="#104a87" fill-opacity="0.45"/>
<circle cx="320.31" cy="488.22" r="1.55" fill="#104a87" fill-opacity="0.45"/>
<circle cx="340.83" cy="498.5" r="1.55" fill="#104a87" fill-opacity="0.45"/>
<circle cx="332.6" cy="485.4" r="1.55" fill="#104a87" fill-opacity="0.45"/>
<circle cx="366.7" cy="443" r="1.55" fill="#104a87" fill-opacity="0.45"/>
<circle cx="389.2" cy="499.09" r="1.55" fill="#1e0050" fill-opacity="0.45"/>
<circle cx="320.42" cy="491.23" r="1.55" fill="#c9153e" fill-opacity="0.45"/>
<circle cx="320.41" cy="432.2" r="1.55" fill="#104a87" fill-opacity="0.45"/>
<circle cx="324.53" cy="500.68" r="1.55" fill="#1e0050" fill-opacity="0.45"/>
<circle cx="410.3" cy="499.16" r="1.55" fill="#35b546" fill-opacity="0.45"/>
<circle cx="390.02" cy="501.49" r="1.55" fill="#104a87" fill-opacity="0.45"/>
<circle cx="329.4" cy="463.5" r="1.55" fill="#104a87" fill-opacity="0.45"/>
<circle cx="468.55" cy="498.59" r="1.55" fill="#35b546" fill-opacity="0.45"/>
<circle cx="341.8" cy="426.5" r="1.55" fill="#104a87" fill-opacity="0.45"/>
<circle cx="331.22" cy="498.85" r="1.55" fill="#c9153e" fill-opacity="0.45"/>
<circle cx="320.12" cy="499.41" r="1.55" fill="#35b546" fill-opacity="0.45"/>
<circle cx="370.64" cy="501.39" r="1.55" fill="#35b546" fill-opacity="0.45"/>
<circle cx="324.57" cy="500.57" r="1.55" fill="#35b546" fill-opacity="0.45"/>
<circle cx="351.92" cy="497.62" r="1.55" fill="#35b546" fill-opacity="0.45"/>
<circle cx="362.79" cy="501.02" r="1.55" fill="#35b546" fill-opacity="0.45"/>
<circle cx="400.87" cy="502.6" r="1.55" fill="#1e0050" fill-opacity="0.45"/>
<circle cx="417.6" cy="468.6" r="1.55" fill="#104a87" fill-opacity="0.45"/>
<circle cx="376.5" cy="493.4" r="1.55" fill="#104a87" fill-opacity="0.45"/>
<circle cx="352.8" cy="481.5" r="1.55" fill="#104a87" fill-opacity="0.45"/>
<circle cx="320.18" cy="477.3" r="1.55" fill="#104a87" fill-opacity="0.45"/>
<circle cx="355.48" cy="498.68" r="1.55" fill="#104a87" fill-opacity="0.45"/>
<circle cx="372.6" cy="482.4" r="1.55" fill="#35b546" fill-opacity="0.45"/>
<circle cx="354.2" cy="498.15" r="1.55" fill="#104a87" fill-opacity="0.45"/>
<circle cx="369.5" cy="443" r="1.55" fill="#104a87" fill-opacity="0.45"/>
<circle cx="320.18" cy="496.49" r="1.55" fill="#c9153e" fill-opacity="0.45"/>
<circle cx="341.68" cy="495.02" r="1.55" fill="#1e0050" fill-opacity="0.45"/>
<circle cx="320.32" cy="502.3" r="1.55" fill="#35b546" fill-opacity="0.45"/>
<circle cx="326.1" cy="493.5" r="1.55" fill="#c9153e" fill-opacity="0.45"/>
<circle cx="375.84" cy="496.19" r="1.55" fill="#35b546" fill-opacity="0.45"/>
<circle cx="320.29" cy="486" r="1.55" fill="#104a87" fill-opacity="0.45"/>
<circle cx="433.3" cy="458.8" r="1.55" fill="#104a87" fill-opacity="0.45"/>
<circle cx="341.1" cy="486.2" r="1.55" fill="#104a87" fill-opacity="0.45"/>
<circle cx="462.7" cy="486.6" r="1.55" fill="#35b546" fill-opacity="0.45"/>
<circle cx="366.56" cy="497.98" r="1.55" fill="#35b546" fill-opacity="0.45"/>
<circle cx="365.29" cy="502.6" r="1.55" fill="#104a87" fill-opacity="0.45"/>
<circle cx="454.58" cy="501.46" r="1.55" fill="#35b546" fill-opacity="0.45"/>
<circle cx="343.22" cy="499.8" r="1.55" fill="#c9153e" fill-opacity="0.45"/>
<circle cx="320.31" cy="503.4" r="1.55" fill="#35b546" fill-opacity="0.45"/>
<circle cx="352.82" cy="496.48" r="1.55" fill="#c9153e" fill-opacity="0.45"/>
<circle cx="449.19" cy="496.39" r="1.55" fill="#c9153e" fill-opacity="0.45"/>
<circle cx="449.62" cy="498.54" r="1.55" fill="#1e0050" fill-opacity="0.45"/>
<circle cx="433.59" cy="495.53" r="1.55" fill="#1e0050" fill-opacity="0.45"/>
<circle cx="367.4" cy="477.7" r="1.55" fill="#35b546" fill-opacity="0.45"/>
<circle cx="419.51" cy="497.19" r="1.55" fill="#35b546" fill-opacity="0.45"/>
<circle cx="360.4" cy="495.3" r="1.55" fill="#35b546" fill-opacity="0.45"/>
<circle cx="328.23" cy="498.33" r="1.55" fill="#104a87" fill-opacity="0.45"/>
<circle cx="353.4" cy="494.1" r="1.55" fill="#35b546" fill-opacity="0.45"/>
<circle cx="453.4" cy="487.7" r="1.55" fill="#104a87" fill-opacity="0.45"/>
<circle cx="386.32" cy="502.6" r="1.55" fill="#104a87" fill-opacity="0.45"/>
<circle cx="320.53" cy="486.13" r="1.55" fill="#104a87" fill-opacity="0.45"/>
<circle cx="344.3" cy="485" r="1.55" fill="#104a87" fill-opacity="0.45"/>
<circle cx="426.8" cy="488.8" r="1.55" fill="#c9153e" fill-opacity="0.45"/>
<circle cx="390.52" cy="500.65" r="1.55" fill="#1e0050" fill-opacity="0.45"/>
<circle cx="320.5" cy="498.79" r="1.55" fill="#35b546" fill-opacity="0.45"/>
<circle cx="451.3" cy="468.6" r="1.55" fill="#104a87" fill-opacity="0.45"/>
<circle cx="467.79" cy="498.14" r="1.55" fill="#104a87" fill-opacity="0.45"/>
<circle cx="340.92" cy="498" r="1.55" fill="#104a87" fill-opacity="0.45"/>
<circle cx="320.14" cy="476.45" r="1.55" fill="#104a87" fill-opacity="0.45"/>
<circle cx="386" cy="489.3" r="1.55" fill="#104a87" fill-opacity="0.45"/>
<circle cx="320.16" cy="487.5" r="1.55" fill="#104a87" fill-opacity="0.45"/>
<circle cx="395.8" cy="469.8" r="1.55" fill="#35b546" fill-opacity="0.45"/>
<circle cx="344.59" cy="498.59" r="1.55" fill="#104a87" fill-opacity="0.45"/>
<circle cx="378.07" cy="501.39" r="1.55" fill="#35b546" fill-opacity="0.45"/>
<circle cx="427.35" cy="498.48" r="1.55" fill="#104a87" fill-opacity="0.45"/>
<circle cx="374.71" cy="500.77" r="1.55" fill="#104a87" fill-opacity="0.45"/>
<circle cx="329.4" cy="483.6" r="1.55" fill="#104a87" fill-opacity="0.45"/>
<circle cx="361.13" cy="496.35" r="1.55" fill="#104a87" fill-opacity="0.45"/>
<circle cx="335.52" cy="499.9" r="1.55" fill="#c9153e" fill-opacity="0.45"/>
<circle cx="346.2" cy="499.79" r="1.55" fill="#104a87" fill-opacity="0.45"/>
<circle cx="320.44" cy="493.87" r="1.55" fill="#c9153e" fill-opacity="0.45"/>
<circle cx="341.7" cy="472.5" r="1.55" fill="#c9153e" fill-opacity="0.45"/>
<circle cx="370.62" cy="499.37" r="1.55" fill="#c9153e" fill-opacity="0.45"/>
<circle cx="370.3" cy="483.8" r="1.55" fill="#104a87" fill-opacity="0.45"/>
<circle cx="460.62" cy="494.89" r="1.55" fill="#104a87" fill-opacity="0.45"/>
<circle cx="398.5" cy="456.2" r="1.55" fill="#104a87" fill-opacity="0.45"/>
<circle cx="320.42" cy="497.5" r="1.55" fill="#1e0050" fill-opacity="0.45"/>
<circle cx="396.9" cy="484.4" r="1.55" fill="#c9153e" fill-opacity="0.45"/>
<circle cx="433.3" cy="471.4" r="1.55" fill="#104a87" fill-opacity="0.45"/>
<circle cx="320.21" cy="477.66" r="1.55" fill="#104a87" fill-opacity="0.45"/>
<circle cx="390.8" cy="499.58" r="1.55" fill="#104a87" fill-opacity="0.45"/>
<circle cx="329.1" cy="475.2" r="1.55" fill="#104a87" fill-opacity="0.45"/>
<circle cx="320.4" cy="464.6" r="1.55" fill="#104a87" fill-opacity="0.45"/>
<circle cx="410.45" cy="494.11" r="1.55" fill="#35b546" fill-opacity="0.45"/>
<circle cx="460.3" cy="468.3" r="1.55" fill="#104a87" fill-opacity="0.45"/>
<circle cx="352.15" cy="500.14" r="1.55" fill="#104a87" fill-opacity="0.45"/>
<circle cx="460.3" cy="494.2" r="1.55" fill="#c9153e" fill-opacity="0.45"/>
<circle cx="346.9" cy="490.4" r="1.55" fill="#104a87" fill-opacity="0.45"/>
<g transform="translate(271,360)">
<path d="M42,19.5 V147.45 H204.8" fill="none" stroke="#1a1a1a" stroke-width="1.15"/>
<path d="M39,141.5 H42" stroke="#1a1a1a" stroke-width="1.1"/>
<text x="36.3" y="144.6" font-size="9.2" text-anchor="end" textLength="4.34" lengthAdjust="spacingAndGlyphs" fill="#222" stroke="#222" stroke-width="0.12">0</text>
<path d="M39,99.85 H42" stroke="#1a1a1a" stroke-width="1.1"/>
<text x="36.3" y="102.95" font-size="9.2" text-anchor="end" textLength="4.34" lengthAdjust="spacingAndGlyphs" fill="#222" stroke="#222" stroke-width="0.12">1</text>
<path d="M39,58.2 H42" stroke="#1a1a1a" stroke-width="1.1"/>
<text x="36.3" y="61.3" font-size="9.2" text-anchor="end" textLength="4.34" lengthAdjust="spacingAndGlyphs" fill="#222" stroke="#222" stroke-width="0.12">2</text>
<path d="M49.4,147.3 V150.6" stroke="#1a1a1a" stroke-width="1.1"/>
<text x="49.4" y="159.3" font-size="9.2" text-anchor="middle" textLength="4.34" lengthAdjust="spacingAndGlyphs" fill="#222" stroke="#222" stroke-width="0.12">0</text>
<path d="M91.06,147.3 V150.6" stroke="#1a1a1a" stroke-width="1.1"/>
<text x="91.06" y="159.3" font-size="9.2" text-anchor="middle" textLength="8.68" lengthAdjust="spacingAndGlyphs" fill="#222" stroke="#222" stroke-width="0.12">50</text>
<path d="M132.73,147.3 V150.6" stroke="#1a1a1a" stroke-width="1.1"/>
<text x="132.73" y="159.3" font-size="9.2" text-anchor="middle" textLength="13.01" lengthAdjust="spacingAndGlyphs" fill="#222" stroke="#222" stroke-width="0.12">100</text>
<path d="M174.4,147.3 V150.6" stroke="#1a1a1a" stroke-width="1.1"/>
<text x="174.4" y="159.3" font-size="9.2" text-anchor="middle" textLength="13.01" lengthAdjust="spacingAndGlyphs" fill="#222" stroke="#222" stroke-width="0.12">150</text>
<text x="123.2" y="172.9" font-size="9.4" stroke="#000" stroke-width="0.3" text-anchor="middle" textLength="10.2" lengthAdjust="spacingAndGlyphs" fill="#000">DPI</text>
<g transform="translate(26.7,0) rotate(-90)" fill="#000" stroke="#000" stroke-width="0.3" font-size="8.4"><text x="-111.3" y="0" textLength="9.3" lengthAdjust="spacingAndGlyphs">Cell</text><text x="-99.3" y="0" textLength="15.3" lengthAdjust="spacingAndGlyphs">count</text><text x="-81.3" y="0" textLength="13.3" lengthAdjust="spacingAndGlyphs">(×10</text><text x="-67.8" y="-4.6" font-size="5.8" textLength="3" lengthAdjust="spacingAndGlyphs" stroke-width="0.2">9</text><text x="-65" y="0" textLength="9.3" lengthAdjust="spacingAndGlyphs">/L)</text></g>
<text x="123.3" y="13.35" font-size="9" text-anchor="middle" fill="#000" stroke="#000" stroke-width="0.15">CD8<tspan dy="-3.2" font-size="6.3">+</tspan><tspan dy="3.2"> T cell subsets</tspan></text>
<text x="190.4" y="26.3" font-size="7.5" fill="#000" stroke="#000" stroke-width="0.12">Cell population</text>
<rect x="191" y="31.3" width="8" height="5.2" fill="#c9153e" fill-opacity="0.1"/>
<path d="M191,33.9 h8" stroke="#c9153e" stroke-width="1.6"/>
<circle cx="195" cy="33.9" r="1.5" fill="#c9153e" fill-opacity="0.5"/>
<text x="201.9" y="36.4" font-size="6.9" fill="#000" stroke="#000" stroke-width="0.1">CD8 Tcm</text>
<rect x="191" y="41.95" width="8" height="5.2" fill="#104a87" fill-opacity="0.1"/>
<path d="M191,44.55 h8" stroke="#104a87" stroke-width="1.6"/>
<circle cx="195" cy="44.55" r="1.5" fill="#104a87" fill-opacity="0.5"/>
<text x="201.9" y="47.05" font-size="6.9" fill="#000" stroke="#000" stroke-width="0.1">CD8 Tem</text>
<rect x="191" y="52.6" width="8" height="5.2" fill="#35b546" fill-opacity="0.1"/>
<path d="M191,55.2 h8" stroke="#35b546" stroke-width="1.6"/>
<circle cx="195" cy="55.2" r="1.5" fill="#35b546" fill-opacity="0.5"/>
<text x="201.9" y="57.7" font-size="6.9" fill="#000" stroke="#000" stroke-width="0.1">CD8 Temra</text>
<rect x="191" y="63.25" width="8" height="5.2" fill="#5e2a86" fill-opacity="0.1"/>
<path d="M191,65.85 h8" stroke="#5e2a86" stroke-width="1.6"/>
<circle cx="195" cy="65.85" r="1.5" fill="#1e0050" fill-opacity="0.5"/>
<text x="201.9" y="68.35" font-size="6.9" fill="#000" stroke="#000" stroke-width="0.1">CD8 Tnaive</text>
</g>
</svg>
<div style="position:absolute;left:0;top:0;width:520px;height:539px;box-shadow:inset 0 0 0 1px #000,inset 0 0 0 2px rgba(0,0,0,0.43)"></div>
</body></html>
